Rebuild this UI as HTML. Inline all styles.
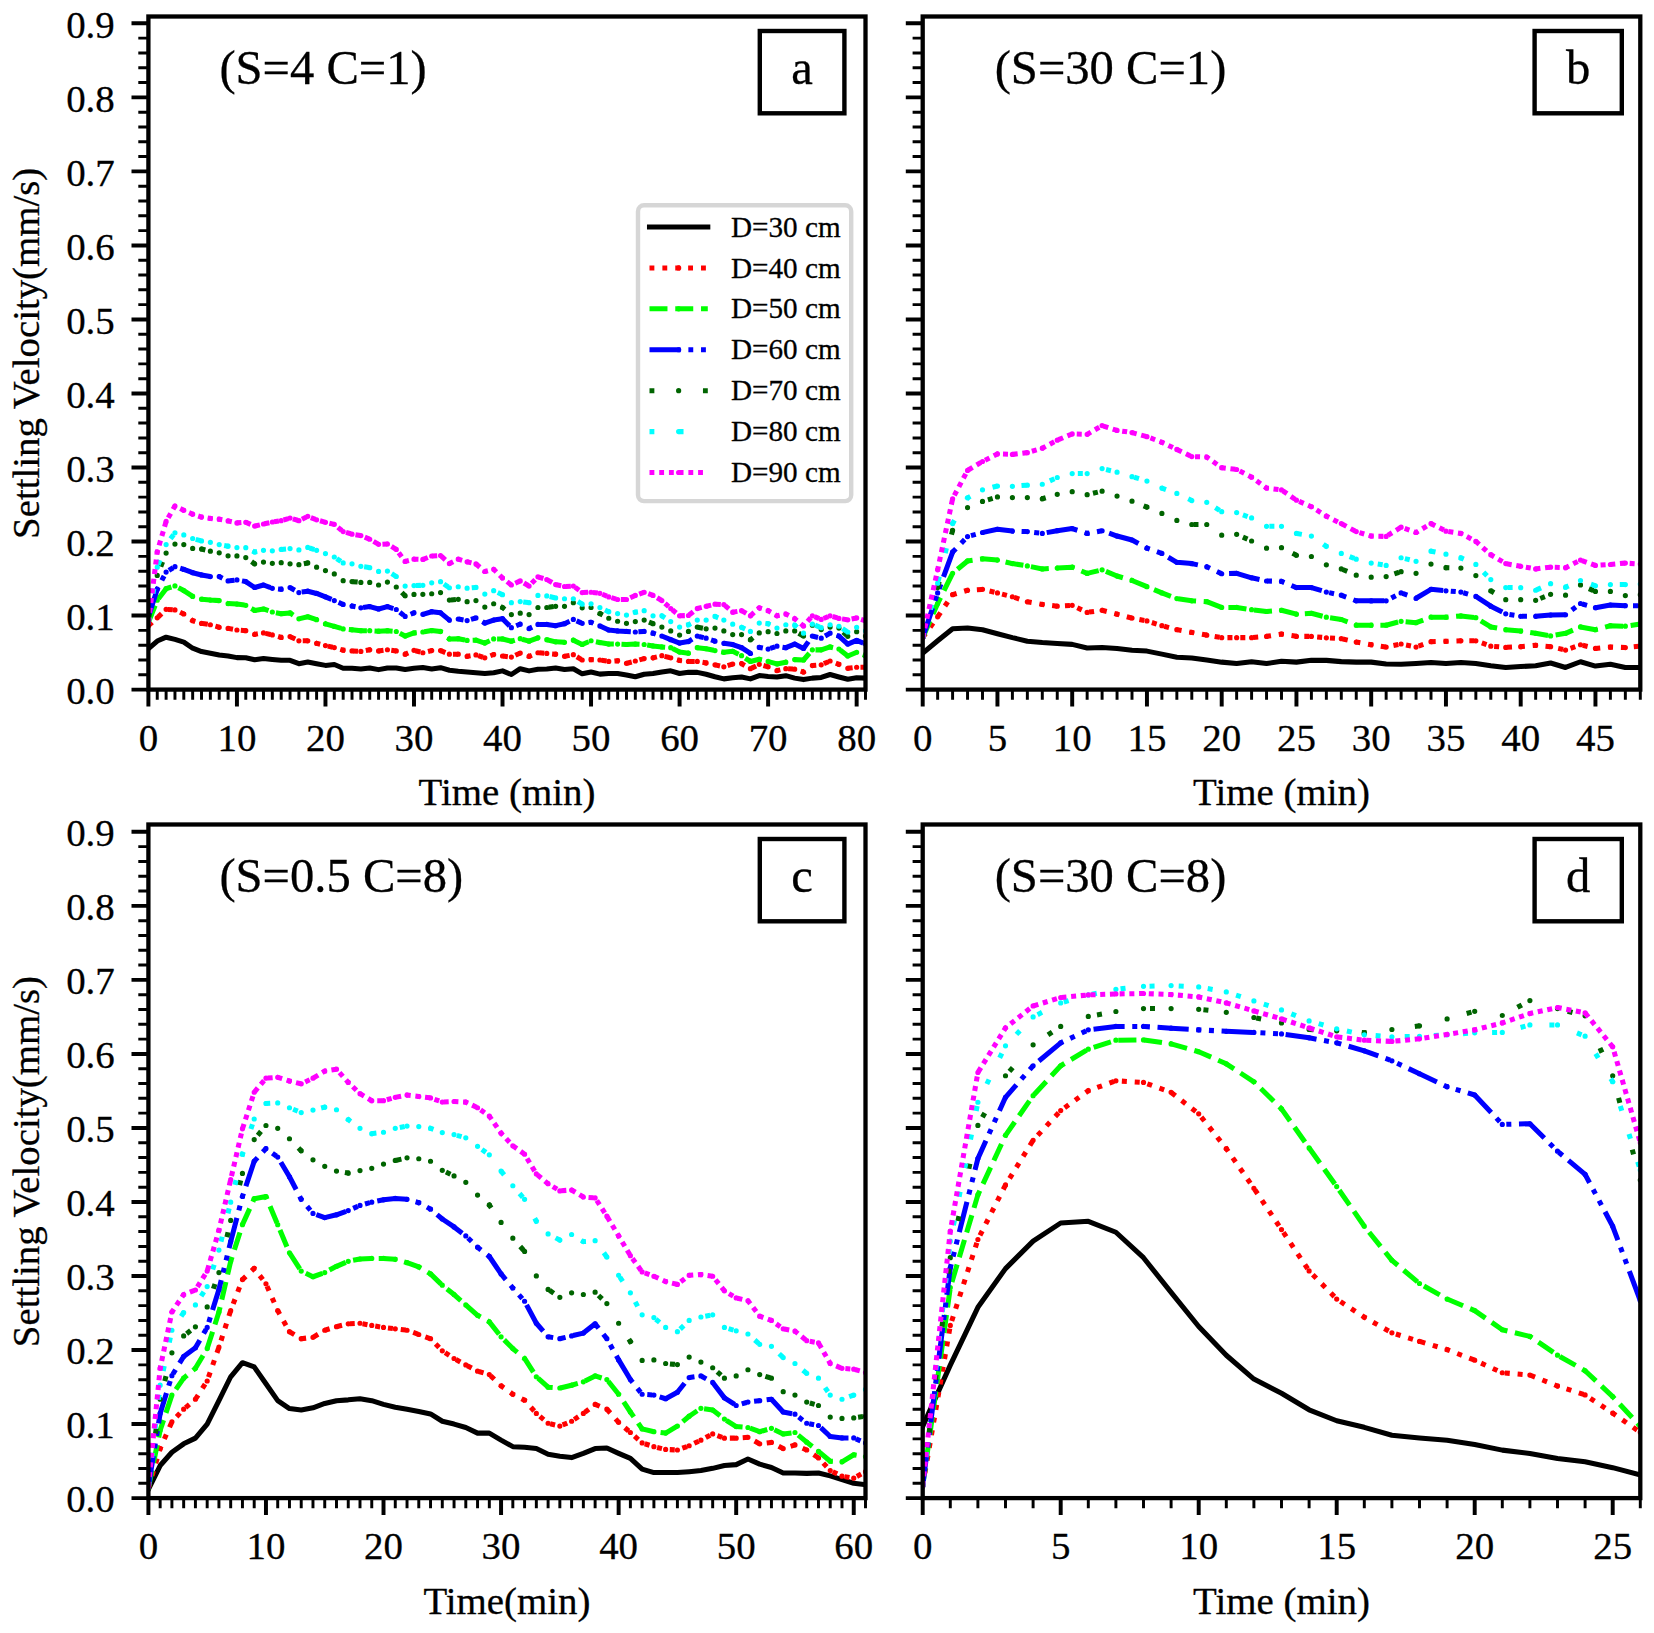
<!DOCTYPE html>
<html><head><meta charset="utf-8"><title>Settling velocity</title>
<style>html,body{margin:0;padding:0;background:#fff}svg{display:block}text{stroke:#000;stroke-width:.3px}</style></head>
<body>
<svg width="1654" height="1633" viewBox="0 0 1654 1633" font-family='"Liberation Serif", serif' fill="#000" stroke="none">
<rect width="1654" height="1633" fill="#fff"/>
<g id="panel-a">
<clipPath id="clip-a"><rect x="148.4" y="16.5" width="717.1" height="673.1"/></clipPath>
<g clip-path="url(#clip-a)" fill="none" stroke-width="5.05" stroke-linejoin="round">
<polyline points="148.4,648.74 157.25,641.04 166.11,637.19 174.96,639.41 183.81,642.15 192.67,648.22 201.52,651.55 210.37,653.18 219.22,655.03 228.08,655.92 236.93,657.62 245.78,657.77 254.64,659.77 263.49,658.58 272.34,659.47 281.2,660.28 290.05,660.28 298.9,663.69 307.76,661.99 316.61,663.69 325.46,665.39 334.31,664.5 343.17,668.28 352.02,668.28 360.87,669.09 369.73,667.91 378.58,669.61 387.43,667.91 396.29,667.91 405.14,669.46 413.99,668.28 422.85,667.54 431.7,669.02 440.55,667.69 449.4,670.2 458.26,671.17 467.11,671.91 475.96,672.65 484.82,673.54 493.67,672.65 502.52,670.87 511.38,674.5 520.23,668.72 529.08,670.87 537.94,669.17 546.79,669.02 555.64,667.98 564.5,669.46 573.35,668.72 582.2,673.83 591.05,672.05 599.91,674.13 608.76,673.54 617.61,673.54 626.47,674.94 635.32,676.72 644.17,674.2 653.03,673.54 661.88,672.05 670.73,670.87 679.59,673.54 688.44,672.35 697.29,672.35 706.14,674.2 715,676.72 723.85,678.87 732.7,677.83 741.56,677.01 750.41,678.87 759.26,675.53 768.12,676.42 776.97,677.01 785.82,675.68 794.68,678.13 803.53,679.61 812.38,678.13 821.23,677.46 830.09,674.5 838.94,677.01 847.79,679.31 856.65,677.76 865.5,678.13" stroke="#000000" stroke-linecap="square"/>
<polyline points="148.4,625.64 157.25,617.86 166.11,609.28 174.96,609.94 183.81,614.02 192.67,620.68 201.52,623.42 210.37,624.75 219.22,627.27 228.08,628.38 236.93,630.01 245.78,630.67 254.64,634.37 263.49,632.89 272.34,634.89 281.2,637.41 290.05,636.59 298.9,640.81 307.76,640.81 316.61,643.33 325.46,645.55 334.31,647.62 343.17,650.14 352.02,650.96 360.87,651.47 369.73,649.77 378.58,650.96 387.43,649.77 396.29,650.96 405.14,654.21 413.99,650.29 422.85,652.73 431.7,650.59 440.55,650.59 449.4,654.21 458.26,654.21 467.11,656.36 475.96,654.95 484.82,657.84 493.67,654.51 502.52,655.99 511.38,657.1 520.23,653.03 529.08,656.36 537.94,652.73 546.79,653.47 555.64,654.21 564.5,656.36 573.35,654.66 582.2,659.99 591.05,659.62 599.91,659.99 608.76,661.47 617.61,660.73 626.47,663.32 635.32,661.02 644.17,658.58 653.03,657.84 661.88,655.69 670.73,657.84 679.59,660.43 688.44,661.47 697.29,661.47 706.14,662.95 715,664.8 723.85,666.87 732.7,664.06 741.56,663.62 750.41,668.72 759.26,664.36 768.12,666.87 776.97,670.57 785.82,668.72 794.68,669.17 803.53,672.05 812.38,665.54 821.23,664.8 830.09,661.02 838.94,664.36 847.79,668.28 856.65,667.24 865.5,667.24" stroke="#ff0000" stroke-dasharray="5.01 7.87"/>
<path d="M145.8 625.64a2.6 2.6 0 1 0 5.2 0a2.6 2.6 0 1 0 -5.2 0zM154.65 617.86a2.6 2.6 0 1 0 5.2 0a2.6 2.6 0 1 0 -5.2 0zM163.51 609.28a2.6 2.6 0 1 0 5.2 0a2.6 2.6 0 1 0 -5.2 0zM172.36 609.94a2.6 2.6 0 1 0 5.2 0a2.6 2.6 0 1 0 -5.2 0zM181.21 614.02a2.6 2.6 0 1 0 5.2 0a2.6 2.6 0 1 0 -5.2 0zM190.07 620.68a2.6 2.6 0 1 0 5.2 0a2.6 2.6 0 1 0 -5.2 0zM198.92 623.42a2.6 2.6 0 1 0 5.2 0a2.6 2.6 0 1 0 -5.2 0zM207.77 624.75a2.6 2.6 0 1 0 5.2 0a2.6 2.6 0 1 0 -5.2 0zM216.62 627.27a2.6 2.6 0 1 0 5.2 0a2.6 2.6 0 1 0 -5.2 0zM225.48 628.38a2.6 2.6 0 1 0 5.2 0a2.6 2.6 0 1 0 -5.2 0zM234.33 630.01a2.6 2.6 0 1 0 5.2 0a2.6 2.6 0 1 0 -5.2 0zM243.18 630.67a2.6 2.6 0 1 0 5.2 0a2.6 2.6 0 1 0 -5.2 0zM252.04 634.37a2.6 2.6 0 1 0 5.2 0a2.6 2.6 0 1 0 -5.2 0zM260.89 632.89a2.6 2.6 0 1 0 5.2 0a2.6 2.6 0 1 0 -5.2 0zM269.74 634.89a2.6 2.6 0 1 0 5.2 0a2.6 2.6 0 1 0 -5.2 0zM278.6 637.41a2.6 2.6 0 1 0 5.2 0a2.6 2.6 0 1 0 -5.2 0zM287.45 636.59a2.6 2.6 0 1 0 5.2 0a2.6 2.6 0 1 0 -5.2 0zM296.3 640.81a2.6 2.6 0 1 0 5.2 0a2.6 2.6 0 1 0 -5.2 0zM305.16 640.81a2.6 2.6 0 1 0 5.2 0a2.6 2.6 0 1 0 -5.2 0zM314.01 643.33a2.6 2.6 0 1 0 5.2 0a2.6 2.6 0 1 0 -5.2 0zM322.86 645.55a2.6 2.6 0 1 0 5.2 0a2.6 2.6 0 1 0 -5.2 0zM331.71 647.62a2.6 2.6 0 1 0 5.2 0a2.6 2.6 0 1 0 -5.2 0zM340.57 650.14a2.6 2.6 0 1 0 5.2 0a2.6 2.6 0 1 0 -5.2 0zM349.42 650.96a2.6 2.6 0 1 0 5.2 0a2.6 2.6 0 1 0 -5.2 0zM358.27 651.47a2.6 2.6 0 1 0 5.2 0a2.6 2.6 0 1 0 -5.2 0zM367.13 649.77a2.6 2.6 0 1 0 5.2 0a2.6 2.6 0 1 0 -5.2 0zM375.98 650.96a2.6 2.6 0 1 0 5.2 0a2.6 2.6 0 1 0 -5.2 0zM384.83 649.77a2.6 2.6 0 1 0 5.2 0a2.6 2.6 0 1 0 -5.2 0zM393.69 650.96a2.6 2.6 0 1 0 5.2 0a2.6 2.6 0 1 0 -5.2 0zM402.54 654.21a2.6 2.6 0 1 0 5.2 0a2.6 2.6 0 1 0 -5.2 0zM411.39 650.29a2.6 2.6 0 1 0 5.2 0a2.6 2.6 0 1 0 -5.2 0zM420.25 652.73a2.6 2.6 0 1 0 5.2 0a2.6 2.6 0 1 0 -5.2 0zM429.1 650.59a2.6 2.6 0 1 0 5.2 0a2.6 2.6 0 1 0 -5.2 0zM437.95 650.59a2.6 2.6 0 1 0 5.2 0a2.6 2.6 0 1 0 -5.2 0zM446.8 654.21a2.6 2.6 0 1 0 5.2 0a2.6 2.6 0 1 0 -5.2 0zM455.66 654.21a2.6 2.6 0 1 0 5.2 0a2.6 2.6 0 1 0 -5.2 0zM464.51 656.36a2.6 2.6 0 1 0 5.2 0a2.6 2.6 0 1 0 -5.2 0zM473.36 654.95a2.6 2.6 0 1 0 5.2 0a2.6 2.6 0 1 0 -5.2 0zM482.22 657.84a2.6 2.6 0 1 0 5.2 0a2.6 2.6 0 1 0 -5.2 0zM491.07 654.51a2.6 2.6 0 1 0 5.2 0a2.6 2.6 0 1 0 -5.2 0zM499.92 655.99a2.6 2.6 0 1 0 5.2 0a2.6 2.6 0 1 0 -5.2 0zM508.78 657.1a2.6 2.6 0 1 0 5.2 0a2.6 2.6 0 1 0 -5.2 0zM517.63 653.03a2.6 2.6 0 1 0 5.2 0a2.6 2.6 0 1 0 -5.2 0zM526.48 656.36a2.6 2.6 0 1 0 5.2 0a2.6 2.6 0 1 0 -5.2 0zM535.34 652.73a2.6 2.6 0 1 0 5.2 0a2.6 2.6 0 1 0 -5.2 0zM544.19 653.47a2.6 2.6 0 1 0 5.2 0a2.6 2.6 0 1 0 -5.2 0zM553.04 654.21a2.6 2.6 0 1 0 5.2 0a2.6 2.6 0 1 0 -5.2 0zM561.9 656.36a2.6 2.6 0 1 0 5.2 0a2.6 2.6 0 1 0 -5.2 0zM570.75 654.66a2.6 2.6 0 1 0 5.2 0a2.6 2.6 0 1 0 -5.2 0zM579.6 659.99a2.6 2.6 0 1 0 5.2 0a2.6 2.6 0 1 0 -5.2 0zM588.45 659.62a2.6 2.6 0 1 0 5.2 0a2.6 2.6 0 1 0 -5.2 0zM597.31 659.99a2.6 2.6 0 1 0 5.2 0a2.6 2.6 0 1 0 -5.2 0zM606.16 661.47a2.6 2.6 0 1 0 5.2 0a2.6 2.6 0 1 0 -5.2 0zM615.01 660.73a2.6 2.6 0 1 0 5.2 0a2.6 2.6 0 1 0 -5.2 0zM623.87 663.32a2.6 2.6 0 1 0 5.2 0a2.6 2.6 0 1 0 -5.2 0zM632.72 661.02a2.6 2.6 0 1 0 5.2 0a2.6 2.6 0 1 0 -5.2 0zM641.57 658.58a2.6 2.6 0 1 0 5.2 0a2.6 2.6 0 1 0 -5.2 0zM650.43 657.84a2.6 2.6 0 1 0 5.2 0a2.6 2.6 0 1 0 -5.2 0zM659.28 655.69a2.6 2.6 0 1 0 5.2 0a2.6 2.6 0 1 0 -5.2 0zM668.13 657.84a2.6 2.6 0 1 0 5.2 0a2.6 2.6 0 1 0 -5.2 0zM676.99 660.43a2.6 2.6 0 1 0 5.2 0a2.6 2.6 0 1 0 -5.2 0zM685.84 661.47a2.6 2.6 0 1 0 5.2 0a2.6 2.6 0 1 0 -5.2 0zM694.69 661.47a2.6 2.6 0 1 0 5.2 0a2.6 2.6 0 1 0 -5.2 0zM703.54 662.95a2.6 2.6 0 1 0 5.2 0a2.6 2.6 0 1 0 -5.2 0zM712.4 664.8a2.6 2.6 0 1 0 5.2 0a2.6 2.6 0 1 0 -5.2 0zM721.25 666.87a2.6 2.6 0 1 0 5.2 0a2.6 2.6 0 1 0 -5.2 0zM730.1 664.06a2.6 2.6 0 1 0 5.2 0a2.6 2.6 0 1 0 -5.2 0zM738.96 663.62a2.6 2.6 0 1 0 5.2 0a2.6 2.6 0 1 0 -5.2 0zM747.81 668.72a2.6 2.6 0 1 0 5.2 0a2.6 2.6 0 1 0 -5.2 0zM756.66 664.36a2.6 2.6 0 1 0 5.2 0a2.6 2.6 0 1 0 -5.2 0zM765.52 666.87a2.6 2.6 0 1 0 5.2 0a2.6 2.6 0 1 0 -5.2 0zM774.37 670.57a2.6 2.6 0 1 0 5.2 0a2.6 2.6 0 1 0 -5.2 0zM783.22 668.72a2.6 2.6 0 1 0 5.2 0a2.6 2.6 0 1 0 -5.2 0zM792.08 669.17a2.6 2.6 0 1 0 5.2 0a2.6 2.6 0 1 0 -5.2 0zM800.93 672.05a2.6 2.6 0 1 0 5.2 0a2.6 2.6 0 1 0 -5.2 0zM809.78 665.54a2.6 2.6 0 1 0 5.2 0a2.6 2.6 0 1 0 -5.2 0zM818.63 664.8a2.6 2.6 0 1 0 5.2 0a2.6 2.6 0 1 0 -5.2 0zM827.49 661.02a2.6 2.6 0 1 0 5.2 0a2.6 2.6 0 1 0 -5.2 0zM836.34 664.36a2.6 2.6 0 1 0 5.2 0a2.6 2.6 0 1 0 -5.2 0zM845.19 668.28a2.6 2.6 0 1 0 5.2 0a2.6 2.6 0 1 0 -5.2 0zM854.05 667.24a2.6 2.6 0 1 0 5.2 0a2.6 2.6 0 1 0 -5.2 0zM862.9 667.24a2.6 2.6 0 1 0 5.2 0a2.6 2.6 0 1 0 -5.2 0z" fill="#ff0000" stroke="none"/>
<polyline points="148.4,622.31 157.25,600.25 166.11,588.7 174.96,585.88 183.81,590.55 192.67,596.4 201.52,599.14 210.37,600.02 219.22,600.62 228.08,603.58 236.93,604.1 245.78,605.28 254.64,610.39 263.49,608.98 272.34,612.02 281.2,613.72 290.05,612.9 298.9,618.83 307.76,616.75 316.61,619.64 325.46,623.86 334.31,626.45 343.17,628.97 352.02,629.86 360.87,630.67 369.73,630.67 378.58,631.19 387.43,630.67 396.29,631.49 405.14,636.08 413.99,632.89 422.85,632 431.7,630.6 440.55,631.41 449.4,638.96 458.26,638.67 467.11,640.44 475.96,640.15 484.82,643.04 493.67,638.96 502.52,638.96 511.38,641.18 520.23,638.67 529.08,641.18 537.94,637.85 546.79,639.7 555.64,641.85 564.5,642.29 573.35,640.15 582.2,644.52 591.05,640.74 599.91,642.59 608.76,644.07 617.61,644.07 626.47,644.52 635.32,644.07 644.17,644.52 653.03,645.92 661.88,646.96 670.73,647.7 679.59,652.07 688.44,653.18 697.29,647.7 706.14,648.74 715,650.59 723.85,652.36 732.7,651.33 741.56,655.69 750.41,661.47 759.26,659.32 768.12,661.47 776.97,663.91 785.82,662.21 794.68,659.62 803.53,659.99 812.38,649.85 821.23,649.85 830.09,646.96 838.94,649.11 847.79,655.99 856.65,652.36 865.5,655.69" stroke="#00ff00" stroke-dasharray="18.13 7.63"/>
<path d="M145.8 622.31a2.6 2.6 0 1 0 5.2 0a2.6 2.6 0 1 0 -5.2 0zM154.65 600.25a2.6 2.6 0 1 0 5.2 0a2.6 2.6 0 1 0 -5.2 0zM163.51 588.7a2.6 2.6 0 1 0 5.2 0a2.6 2.6 0 1 0 -5.2 0zM172.36 585.88a2.6 2.6 0 1 0 5.2 0a2.6 2.6 0 1 0 -5.2 0zM181.21 590.55a2.6 2.6 0 1 0 5.2 0a2.6 2.6 0 1 0 -5.2 0zM190.07 596.4a2.6 2.6 0 1 0 5.2 0a2.6 2.6 0 1 0 -5.2 0zM198.92 599.14a2.6 2.6 0 1 0 5.2 0a2.6 2.6 0 1 0 -5.2 0zM207.77 600.02a2.6 2.6 0 1 0 5.2 0a2.6 2.6 0 1 0 -5.2 0zM216.62 600.62a2.6 2.6 0 1 0 5.2 0a2.6 2.6 0 1 0 -5.2 0zM225.48 603.58a2.6 2.6 0 1 0 5.2 0a2.6 2.6 0 1 0 -5.2 0zM234.33 604.1a2.6 2.6 0 1 0 5.2 0a2.6 2.6 0 1 0 -5.2 0zM243.18 605.28a2.6 2.6 0 1 0 5.2 0a2.6 2.6 0 1 0 -5.2 0zM252.04 610.39a2.6 2.6 0 1 0 5.2 0a2.6 2.6 0 1 0 -5.2 0zM260.89 608.98a2.6 2.6 0 1 0 5.2 0a2.6 2.6 0 1 0 -5.2 0zM269.74 612.02a2.6 2.6 0 1 0 5.2 0a2.6 2.6 0 1 0 -5.2 0zM278.6 613.72a2.6 2.6 0 1 0 5.2 0a2.6 2.6 0 1 0 -5.2 0zM287.45 612.9a2.6 2.6 0 1 0 5.2 0a2.6 2.6 0 1 0 -5.2 0zM296.3 618.83a2.6 2.6 0 1 0 5.2 0a2.6 2.6 0 1 0 -5.2 0zM305.16 616.75a2.6 2.6 0 1 0 5.2 0a2.6 2.6 0 1 0 -5.2 0zM314.01 619.64a2.6 2.6 0 1 0 5.2 0a2.6 2.6 0 1 0 -5.2 0zM322.86 623.86a2.6 2.6 0 1 0 5.2 0a2.6 2.6 0 1 0 -5.2 0zM331.71 626.45a2.6 2.6 0 1 0 5.2 0a2.6 2.6 0 1 0 -5.2 0zM340.57 628.97a2.6 2.6 0 1 0 5.2 0a2.6 2.6 0 1 0 -5.2 0zM349.42 629.86a2.6 2.6 0 1 0 5.2 0a2.6 2.6 0 1 0 -5.2 0zM358.27 630.67a2.6 2.6 0 1 0 5.2 0a2.6 2.6 0 1 0 -5.2 0zM367.13 630.67a2.6 2.6 0 1 0 5.2 0a2.6 2.6 0 1 0 -5.2 0zM375.98 631.19a2.6 2.6 0 1 0 5.2 0a2.6 2.6 0 1 0 -5.2 0zM384.83 630.67a2.6 2.6 0 1 0 5.2 0a2.6 2.6 0 1 0 -5.2 0zM393.69 631.49a2.6 2.6 0 1 0 5.2 0a2.6 2.6 0 1 0 -5.2 0zM402.54 636.08a2.6 2.6 0 1 0 5.2 0a2.6 2.6 0 1 0 -5.2 0zM411.39 632.89a2.6 2.6 0 1 0 5.2 0a2.6 2.6 0 1 0 -5.2 0zM420.25 632a2.6 2.6 0 1 0 5.2 0a2.6 2.6 0 1 0 -5.2 0zM429.1 630.6a2.6 2.6 0 1 0 5.2 0a2.6 2.6 0 1 0 -5.2 0zM437.95 631.41a2.6 2.6 0 1 0 5.2 0a2.6 2.6 0 1 0 -5.2 0zM446.8 638.96a2.6 2.6 0 1 0 5.2 0a2.6 2.6 0 1 0 -5.2 0zM455.66 638.67a2.6 2.6 0 1 0 5.2 0a2.6 2.6 0 1 0 -5.2 0zM464.51 640.44a2.6 2.6 0 1 0 5.2 0a2.6 2.6 0 1 0 -5.2 0zM473.36 640.15a2.6 2.6 0 1 0 5.2 0a2.6 2.6 0 1 0 -5.2 0zM482.22 643.04a2.6 2.6 0 1 0 5.2 0a2.6 2.6 0 1 0 -5.2 0zM491.07 638.96a2.6 2.6 0 1 0 5.2 0a2.6 2.6 0 1 0 -5.2 0zM499.92 638.96a2.6 2.6 0 1 0 5.2 0a2.6 2.6 0 1 0 -5.2 0zM508.78 641.18a2.6 2.6 0 1 0 5.2 0a2.6 2.6 0 1 0 -5.2 0zM517.63 638.67a2.6 2.6 0 1 0 5.2 0a2.6 2.6 0 1 0 -5.2 0zM526.48 641.18a2.6 2.6 0 1 0 5.2 0a2.6 2.6 0 1 0 -5.2 0zM535.34 637.85a2.6 2.6 0 1 0 5.2 0a2.6 2.6 0 1 0 -5.2 0zM544.19 639.7a2.6 2.6 0 1 0 5.2 0a2.6 2.6 0 1 0 -5.2 0zM553.04 641.85a2.6 2.6 0 1 0 5.2 0a2.6 2.6 0 1 0 -5.2 0zM561.9 642.29a2.6 2.6 0 1 0 5.2 0a2.6 2.6 0 1 0 -5.2 0zM570.75 640.15a2.6 2.6 0 1 0 5.2 0a2.6 2.6 0 1 0 -5.2 0zM579.6 644.52a2.6 2.6 0 1 0 5.2 0a2.6 2.6 0 1 0 -5.2 0zM588.45 640.74a2.6 2.6 0 1 0 5.2 0a2.6 2.6 0 1 0 -5.2 0zM597.31 642.59a2.6 2.6 0 1 0 5.2 0a2.6 2.6 0 1 0 -5.2 0zM606.16 644.07a2.6 2.6 0 1 0 5.2 0a2.6 2.6 0 1 0 -5.2 0zM615.01 644.07a2.6 2.6 0 1 0 5.2 0a2.6 2.6 0 1 0 -5.2 0zM623.87 644.52a2.6 2.6 0 1 0 5.2 0a2.6 2.6 0 1 0 -5.2 0zM632.72 644.07a2.6 2.6 0 1 0 5.2 0a2.6 2.6 0 1 0 -5.2 0zM641.57 644.52a2.6 2.6 0 1 0 5.2 0a2.6 2.6 0 1 0 -5.2 0zM650.43 645.92a2.6 2.6 0 1 0 5.2 0a2.6 2.6 0 1 0 -5.2 0zM659.28 646.96a2.6 2.6 0 1 0 5.2 0a2.6 2.6 0 1 0 -5.2 0zM668.13 647.7a2.6 2.6 0 1 0 5.2 0a2.6 2.6 0 1 0 -5.2 0zM676.99 652.07a2.6 2.6 0 1 0 5.2 0a2.6 2.6 0 1 0 -5.2 0zM685.84 653.18a2.6 2.6 0 1 0 5.2 0a2.6 2.6 0 1 0 -5.2 0zM694.69 647.7a2.6 2.6 0 1 0 5.2 0a2.6 2.6 0 1 0 -5.2 0zM703.54 648.74a2.6 2.6 0 1 0 5.2 0a2.6 2.6 0 1 0 -5.2 0zM712.4 650.59a2.6 2.6 0 1 0 5.2 0a2.6 2.6 0 1 0 -5.2 0zM721.25 652.36a2.6 2.6 0 1 0 5.2 0a2.6 2.6 0 1 0 -5.2 0zM730.1 651.33a2.6 2.6 0 1 0 5.2 0a2.6 2.6 0 1 0 -5.2 0zM738.96 655.69a2.6 2.6 0 1 0 5.2 0a2.6 2.6 0 1 0 -5.2 0zM747.81 661.47a2.6 2.6 0 1 0 5.2 0a2.6 2.6 0 1 0 -5.2 0zM756.66 659.32a2.6 2.6 0 1 0 5.2 0a2.6 2.6 0 1 0 -5.2 0zM765.52 661.47a2.6 2.6 0 1 0 5.2 0a2.6 2.6 0 1 0 -5.2 0zM774.37 663.91a2.6 2.6 0 1 0 5.2 0a2.6 2.6 0 1 0 -5.2 0zM783.22 662.21a2.6 2.6 0 1 0 5.2 0a2.6 2.6 0 1 0 -5.2 0zM792.08 659.62a2.6 2.6 0 1 0 5.2 0a2.6 2.6 0 1 0 -5.2 0zM800.93 659.99a2.6 2.6 0 1 0 5.2 0a2.6 2.6 0 1 0 -5.2 0zM809.78 649.85a2.6 2.6 0 1 0 5.2 0a2.6 2.6 0 1 0 -5.2 0zM818.63 649.85a2.6 2.6 0 1 0 5.2 0a2.6 2.6 0 1 0 -5.2 0zM827.49 646.96a2.6 2.6 0 1 0 5.2 0a2.6 2.6 0 1 0 -5.2 0zM836.34 649.11a2.6 2.6 0 1 0 5.2 0a2.6 2.6 0 1 0 -5.2 0zM845.19 655.99a2.6 2.6 0 1 0 5.2 0a2.6 2.6 0 1 0 -5.2 0zM854.05 652.36a2.6 2.6 0 1 0 5.2 0a2.6 2.6 0 1 0 -5.2 0zM862.9 655.69a2.6 2.6 0 1 0 5.2 0a2.6 2.6 0 1 0 -5.2 0z" fill="#00ff00" stroke="none"/>
<polyline points="148.4,616.83 157.25,589.22 166.11,572.11 174.96,566.64 183.81,569.38 192.67,572.71 201.52,574.93 210.37,576.56 219.22,576.56 228.08,580.92 236.93,579.89 245.78,581.59 254.64,587.51 263.49,585 272.34,588.33 281.2,589.22 290.05,587.51 298.9,592.55 307.76,591.21 316.61,593.44 325.46,596.84 334.31,600.54 343.17,604.47 352.02,606.09 360.87,607.8 369.73,606.61 378.58,608.98 387.43,606.61 396.29,609.5 405.14,616.46 413.99,612.83 422.85,614.31 431.7,611.72 440.55,612.83 449.4,620.09 458.26,618.98 467.11,620.53 475.96,617.94 484.82,623.05 493.67,620.09 502.52,618.68 511.38,627.64 520.23,624.16 529.08,628.53 537.94,624.45 546.79,624.45 555.64,625.64 564.5,623.71 573.35,619.42 582.2,623.34 591.05,622.31 599.91,625.93 608.76,630.01 617.61,630.97 626.47,631.41 635.32,632 644.17,631.41 653.03,633.19 661.88,636.08 670.73,639.7 679.59,643.04 688.44,641.55 697.29,636.08 706.14,638.22 715,641.18 723.85,643.33 732.7,644.52 741.56,647.7 750.41,653.47 759.26,647.4 768.12,649.11 776.97,646.22 785.82,647.7 794.68,644.07 803.53,648.44 812.38,636.08 821.23,638.22 830.09,633.19 838.94,636.08 847.79,644.07 856.65,640.44 865.5,644.07" stroke="#0000ff" stroke-dasharray="31.25 7.63 5.01 7.63 5.01 7.63"/>
<path d="M145.8 616.83a2.6 2.6 0 1 0 5.2 0a2.6 2.6 0 1 0 -5.2 0zM154.65 589.22a2.6 2.6 0 1 0 5.2 0a2.6 2.6 0 1 0 -5.2 0zM163.51 572.11a2.6 2.6 0 1 0 5.2 0a2.6 2.6 0 1 0 -5.2 0zM172.36 566.64a2.6 2.6 0 1 0 5.2 0a2.6 2.6 0 1 0 -5.2 0zM181.21 569.38a2.6 2.6 0 1 0 5.2 0a2.6 2.6 0 1 0 -5.2 0zM190.07 572.71a2.6 2.6 0 1 0 5.2 0a2.6 2.6 0 1 0 -5.2 0zM198.92 574.93a2.6 2.6 0 1 0 5.2 0a2.6 2.6 0 1 0 -5.2 0zM207.77 576.56a2.6 2.6 0 1 0 5.2 0a2.6 2.6 0 1 0 -5.2 0zM216.62 576.56a2.6 2.6 0 1 0 5.2 0a2.6 2.6 0 1 0 -5.2 0zM225.48 580.92a2.6 2.6 0 1 0 5.2 0a2.6 2.6 0 1 0 -5.2 0zM234.33 579.89a2.6 2.6 0 1 0 5.2 0a2.6 2.6 0 1 0 -5.2 0zM243.18 581.59a2.6 2.6 0 1 0 5.2 0a2.6 2.6 0 1 0 -5.2 0zM252.04 587.51a2.6 2.6 0 1 0 5.2 0a2.6 2.6 0 1 0 -5.2 0zM260.89 585a2.6 2.6 0 1 0 5.2 0a2.6 2.6 0 1 0 -5.2 0zM269.74 588.33a2.6 2.6 0 1 0 5.2 0a2.6 2.6 0 1 0 -5.2 0zM278.6 589.22a2.6 2.6 0 1 0 5.2 0a2.6 2.6 0 1 0 -5.2 0zM287.45 587.51a2.6 2.6 0 1 0 5.2 0a2.6 2.6 0 1 0 -5.2 0zM296.3 592.55a2.6 2.6 0 1 0 5.2 0a2.6 2.6 0 1 0 -5.2 0zM305.16 591.21a2.6 2.6 0 1 0 5.2 0a2.6 2.6 0 1 0 -5.2 0zM314.01 593.44a2.6 2.6 0 1 0 5.2 0a2.6 2.6 0 1 0 -5.2 0zM322.86 596.84a2.6 2.6 0 1 0 5.2 0a2.6 2.6 0 1 0 -5.2 0zM331.71 600.54a2.6 2.6 0 1 0 5.2 0a2.6 2.6 0 1 0 -5.2 0zM340.57 604.47a2.6 2.6 0 1 0 5.2 0a2.6 2.6 0 1 0 -5.2 0zM349.42 606.09a2.6 2.6 0 1 0 5.2 0a2.6 2.6 0 1 0 -5.2 0zM358.27 607.8a2.6 2.6 0 1 0 5.2 0a2.6 2.6 0 1 0 -5.2 0zM367.13 606.61a2.6 2.6 0 1 0 5.2 0a2.6 2.6 0 1 0 -5.2 0zM375.98 608.98a2.6 2.6 0 1 0 5.2 0a2.6 2.6 0 1 0 -5.2 0zM384.83 606.61a2.6 2.6 0 1 0 5.2 0a2.6 2.6 0 1 0 -5.2 0zM393.69 609.5a2.6 2.6 0 1 0 5.2 0a2.6 2.6 0 1 0 -5.2 0zM402.54 616.46a2.6 2.6 0 1 0 5.2 0a2.6 2.6 0 1 0 -5.2 0zM411.39 612.83a2.6 2.6 0 1 0 5.2 0a2.6 2.6 0 1 0 -5.2 0zM420.25 614.31a2.6 2.6 0 1 0 5.2 0a2.6 2.6 0 1 0 -5.2 0zM429.1 611.72a2.6 2.6 0 1 0 5.2 0a2.6 2.6 0 1 0 -5.2 0zM437.95 612.83a2.6 2.6 0 1 0 5.2 0a2.6 2.6 0 1 0 -5.2 0zM446.8 620.09a2.6 2.6 0 1 0 5.2 0a2.6 2.6 0 1 0 -5.2 0zM455.66 618.98a2.6 2.6 0 1 0 5.2 0a2.6 2.6 0 1 0 -5.2 0zM464.51 620.53a2.6 2.6 0 1 0 5.2 0a2.6 2.6 0 1 0 -5.2 0zM473.36 617.94a2.6 2.6 0 1 0 5.2 0a2.6 2.6 0 1 0 -5.2 0zM482.22 623.05a2.6 2.6 0 1 0 5.2 0a2.6 2.6 0 1 0 -5.2 0zM491.07 620.09a2.6 2.6 0 1 0 5.2 0a2.6 2.6 0 1 0 -5.2 0zM499.92 618.68a2.6 2.6 0 1 0 5.2 0a2.6 2.6 0 1 0 -5.2 0zM508.78 627.64a2.6 2.6 0 1 0 5.2 0a2.6 2.6 0 1 0 -5.2 0zM517.63 624.16a2.6 2.6 0 1 0 5.2 0a2.6 2.6 0 1 0 -5.2 0zM526.48 628.53a2.6 2.6 0 1 0 5.2 0a2.6 2.6 0 1 0 -5.2 0zM535.34 624.45a2.6 2.6 0 1 0 5.2 0a2.6 2.6 0 1 0 -5.2 0zM544.19 624.45a2.6 2.6 0 1 0 5.2 0a2.6 2.6 0 1 0 -5.2 0zM553.04 625.64a2.6 2.6 0 1 0 5.2 0a2.6 2.6 0 1 0 -5.2 0zM561.9 623.71a2.6 2.6 0 1 0 5.2 0a2.6 2.6 0 1 0 -5.2 0zM570.75 619.42a2.6 2.6 0 1 0 5.2 0a2.6 2.6 0 1 0 -5.2 0zM579.6 623.34a2.6 2.6 0 1 0 5.2 0a2.6 2.6 0 1 0 -5.2 0zM588.45 622.31a2.6 2.6 0 1 0 5.2 0a2.6 2.6 0 1 0 -5.2 0zM597.31 625.93a2.6 2.6 0 1 0 5.2 0a2.6 2.6 0 1 0 -5.2 0zM606.16 630.01a2.6 2.6 0 1 0 5.2 0a2.6 2.6 0 1 0 -5.2 0zM615.01 630.97a2.6 2.6 0 1 0 5.2 0a2.6 2.6 0 1 0 -5.2 0zM623.87 631.41a2.6 2.6 0 1 0 5.2 0a2.6 2.6 0 1 0 -5.2 0zM632.72 632a2.6 2.6 0 1 0 5.2 0a2.6 2.6 0 1 0 -5.2 0zM641.57 631.41a2.6 2.6 0 1 0 5.2 0a2.6 2.6 0 1 0 -5.2 0zM650.43 633.19a2.6 2.6 0 1 0 5.2 0a2.6 2.6 0 1 0 -5.2 0zM659.28 636.08a2.6 2.6 0 1 0 5.2 0a2.6 2.6 0 1 0 -5.2 0zM668.13 639.7a2.6 2.6 0 1 0 5.2 0a2.6 2.6 0 1 0 -5.2 0zM676.99 643.04a2.6 2.6 0 1 0 5.2 0a2.6 2.6 0 1 0 -5.2 0zM685.84 641.55a2.6 2.6 0 1 0 5.2 0a2.6 2.6 0 1 0 -5.2 0zM694.69 636.08a2.6 2.6 0 1 0 5.2 0a2.6 2.6 0 1 0 -5.2 0zM703.54 638.22a2.6 2.6 0 1 0 5.2 0a2.6 2.6 0 1 0 -5.2 0zM712.4 641.18a2.6 2.6 0 1 0 5.2 0a2.6 2.6 0 1 0 -5.2 0zM721.25 643.33a2.6 2.6 0 1 0 5.2 0a2.6 2.6 0 1 0 -5.2 0zM730.1 644.52a2.6 2.6 0 1 0 5.2 0a2.6 2.6 0 1 0 -5.2 0zM738.96 647.7a2.6 2.6 0 1 0 5.2 0a2.6 2.6 0 1 0 -5.2 0zM747.81 653.47a2.6 2.6 0 1 0 5.2 0a2.6 2.6 0 1 0 -5.2 0zM756.66 647.4a2.6 2.6 0 1 0 5.2 0a2.6 2.6 0 1 0 -5.2 0zM765.52 649.11a2.6 2.6 0 1 0 5.2 0a2.6 2.6 0 1 0 -5.2 0zM774.37 646.22a2.6 2.6 0 1 0 5.2 0a2.6 2.6 0 1 0 -5.2 0zM783.22 647.7a2.6 2.6 0 1 0 5.2 0a2.6 2.6 0 1 0 -5.2 0zM792.08 644.07a2.6 2.6 0 1 0 5.2 0a2.6 2.6 0 1 0 -5.2 0zM800.93 648.44a2.6 2.6 0 1 0 5.2 0a2.6 2.6 0 1 0 -5.2 0zM809.78 636.08a2.6 2.6 0 1 0 5.2 0a2.6 2.6 0 1 0 -5.2 0zM818.63 638.22a2.6 2.6 0 1 0 5.2 0a2.6 2.6 0 1 0 -5.2 0zM827.49 633.19a2.6 2.6 0 1 0 5.2 0a2.6 2.6 0 1 0 -5.2 0zM836.34 636.08a2.6 2.6 0 1 0 5.2 0a2.6 2.6 0 1 0 -5.2 0zM845.19 644.07a2.6 2.6 0 1 0 5.2 0a2.6 2.6 0 1 0 -5.2 0zM854.05 640.44a2.6 2.6 0 1 0 5.2 0a2.6 2.6 0 1 0 -5.2 0zM862.9 644.07a2.6 2.6 0 1 0 5.2 0a2.6 2.6 0 1 0 -5.2 0z" fill="#0000ff" stroke="none"/>
<polyline points="148.4,618.46 157.25,575.45 166.11,553.09 174.96,544.06 183.81,544.58 192.67,548.42 201.52,549.02 210.37,551.16 219.22,552.87 228.08,555.83 236.93,555.9 245.78,557.53 254.64,563.82 263.49,562.12 272.34,563.3 281.2,562.64 290.05,563.82 298.9,564.64 307.76,562.93 316.61,567.15 325.46,570.56 334.31,573.97 343.17,580.7 352.02,581.59 360.87,582.4 369.73,582.4 378.58,585 387.43,582.11 396.29,586.99 405.14,595.73 413.99,594.4 422.85,594.32 431.7,593.73 440.55,592.55 449.4,600.1 458.26,599.36 467.11,601.65 475.96,600.54 484.82,607.06 493.67,603.73 502.52,607.5 511.38,614.61 520.23,613.13 529.08,614.61 537.94,607.5 546.79,607.5 555.64,606.32 564.5,606.32 573.35,602.69 582.2,607.8 591.05,607.5 599.91,613.57 608.76,618.24 617.61,621.27 626.47,623.34 635.32,621.57 644.17,620.09 653.03,623.71 661.88,627.04 670.73,630.97 679.59,635.04 688.44,631.41 697.29,627.04 706.14,628.82 715,628.08 723.85,630.97 732.7,634.6 741.56,634.6 750.41,639.7 759.26,632.89 768.12,631.71 776.97,633.49 785.82,630.97 794.68,630.97 803.53,636.08 812.38,625.19 821.23,629.56 830.09,627.04 838.94,628.08 847.79,636.37 856.65,631.71 865.5,636.08" stroke="#006400" stroke-dasharray="5.01 48.45"/>
<path d="M145.8 618.46a2.6 2.6 0 1 0 5.2 0a2.6 2.6 0 1 0 -5.2 0zM154.65 575.45a2.6 2.6 0 1 0 5.2 0a2.6 2.6 0 1 0 -5.2 0zM163.51 553.09a2.6 2.6 0 1 0 5.2 0a2.6 2.6 0 1 0 -5.2 0zM172.36 544.06a2.6 2.6 0 1 0 5.2 0a2.6 2.6 0 1 0 -5.2 0zM181.21 544.58a2.6 2.6 0 1 0 5.2 0a2.6 2.6 0 1 0 -5.2 0zM190.07 548.42a2.6 2.6 0 1 0 5.2 0a2.6 2.6 0 1 0 -5.2 0zM198.92 549.02a2.6 2.6 0 1 0 5.2 0a2.6 2.6 0 1 0 -5.2 0zM207.77 551.16a2.6 2.6 0 1 0 5.2 0a2.6 2.6 0 1 0 -5.2 0zM216.62 552.87a2.6 2.6 0 1 0 5.2 0a2.6 2.6 0 1 0 -5.2 0zM225.48 555.83a2.6 2.6 0 1 0 5.2 0a2.6 2.6 0 1 0 -5.2 0zM234.33 555.9a2.6 2.6 0 1 0 5.2 0a2.6 2.6 0 1 0 -5.2 0zM243.18 557.53a2.6 2.6 0 1 0 5.2 0a2.6 2.6 0 1 0 -5.2 0zM252.04 563.82a2.6 2.6 0 1 0 5.2 0a2.6 2.6 0 1 0 -5.2 0zM260.89 562.12a2.6 2.6 0 1 0 5.2 0a2.6 2.6 0 1 0 -5.2 0zM269.74 563.3a2.6 2.6 0 1 0 5.2 0a2.6 2.6 0 1 0 -5.2 0zM278.6 562.64a2.6 2.6 0 1 0 5.2 0a2.6 2.6 0 1 0 -5.2 0zM287.45 563.82a2.6 2.6 0 1 0 5.2 0a2.6 2.6 0 1 0 -5.2 0zM296.3 564.64a2.6 2.6 0 1 0 5.2 0a2.6 2.6 0 1 0 -5.2 0zM305.16 562.93a2.6 2.6 0 1 0 5.2 0a2.6 2.6 0 1 0 -5.2 0zM314.01 567.15a2.6 2.6 0 1 0 5.2 0a2.6 2.6 0 1 0 -5.2 0zM322.86 570.56a2.6 2.6 0 1 0 5.2 0a2.6 2.6 0 1 0 -5.2 0zM331.71 573.97a2.6 2.6 0 1 0 5.2 0a2.6 2.6 0 1 0 -5.2 0zM340.57 580.7a2.6 2.6 0 1 0 5.2 0a2.6 2.6 0 1 0 -5.2 0zM349.42 581.59a2.6 2.6 0 1 0 5.2 0a2.6 2.6 0 1 0 -5.2 0zM358.27 582.4a2.6 2.6 0 1 0 5.2 0a2.6 2.6 0 1 0 -5.2 0zM367.13 582.4a2.6 2.6 0 1 0 5.2 0a2.6 2.6 0 1 0 -5.2 0zM375.98 585a2.6 2.6 0 1 0 5.2 0a2.6 2.6 0 1 0 -5.2 0zM384.83 582.11a2.6 2.6 0 1 0 5.2 0a2.6 2.6 0 1 0 -5.2 0zM393.69 586.99a2.6 2.6 0 1 0 5.2 0a2.6 2.6 0 1 0 -5.2 0zM402.54 595.73a2.6 2.6 0 1 0 5.2 0a2.6 2.6 0 1 0 -5.2 0zM411.39 594.4a2.6 2.6 0 1 0 5.2 0a2.6 2.6 0 1 0 -5.2 0zM420.25 594.32a2.6 2.6 0 1 0 5.2 0a2.6 2.6 0 1 0 -5.2 0zM429.1 593.73a2.6 2.6 0 1 0 5.2 0a2.6 2.6 0 1 0 -5.2 0zM437.95 592.55a2.6 2.6 0 1 0 5.2 0a2.6 2.6 0 1 0 -5.2 0zM446.8 600.1a2.6 2.6 0 1 0 5.2 0a2.6 2.6 0 1 0 -5.2 0zM455.66 599.36a2.6 2.6 0 1 0 5.2 0a2.6 2.6 0 1 0 -5.2 0zM464.51 601.65a2.6 2.6 0 1 0 5.2 0a2.6 2.6 0 1 0 -5.2 0zM473.36 600.54a2.6 2.6 0 1 0 5.2 0a2.6 2.6 0 1 0 -5.2 0zM482.22 607.06a2.6 2.6 0 1 0 5.2 0a2.6 2.6 0 1 0 -5.2 0zM491.07 603.73a2.6 2.6 0 1 0 5.2 0a2.6 2.6 0 1 0 -5.2 0zM499.92 607.5a2.6 2.6 0 1 0 5.2 0a2.6 2.6 0 1 0 -5.2 0zM508.78 614.61a2.6 2.6 0 1 0 5.2 0a2.6 2.6 0 1 0 -5.2 0zM517.63 613.13a2.6 2.6 0 1 0 5.2 0a2.6 2.6 0 1 0 -5.2 0zM526.48 614.61a2.6 2.6 0 1 0 5.2 0a2.6 2.6 0 1 0 -5.2 0zM535.34 607.5a2.6 2.6 0 1 0 5.2 0a2.6 2.6 0 1 0 -5.2 0zM544.19 607.5a2.6 2.6 0 1 0 5.2 0a2.6 2.6 0 1 0 -5.2 0zM553.04 606.32a2.6 2.6 0 1 0 5.2 0a2.6 2.6 0 1 0 -5.2 0zM561.9 606.32a2.6 2.6 0 1 0 5.2 0a2.6 2.6 0 1 0 -5.2 0zM570.75 602.69a2.6 2.6 0 1 0 5.2 0a2.6 2.6 0 1 0 -5.2 0zM579.6 607.8a2.6 2.6 0 1 0 5.2 0a2.6 2.6 0 1 0 -5.2 0zM588.45 607.5a2.6 2.6 0 1 0 5.2 0a2.6 2.6 0 1 0 -5.2 0zM597.31 613.57a2.6 2.6 0 1 0 5.2 0a2.6 2.6 0 1 0 -5.2 0zM606.16 618.24a2.6 2.6 0 1 0 5.2 0a2.6 2.6 0 1 0 -5.2 0zM615.01 621.27a2.6 2.6 0 1 0 5.2 0a2.6 2.6 0 1 0 -5.2 0zM623.87 623.34a2.6 2.6 0 1 0 5.2 0a2.6 2.6 0 1 0 -5.2 0zM632.72 621.57a2.6 2.6 0 1 0 5.2 0a2.6 2.6 0 1 0 -5.2 0zM641.57 620.09a2.6 2.6 0 1 0 5.2 0a2.6 2.6 0 1 0 -5.2 0zM650.43 623.71a2.6 2.6 0 1 0 5.2 0a2.6 2.6 0 1 0 -5.2 0zM659.28 627.04a2.6 2.6 0 1 0 5.2 0a2.6 2.6 0 1 0 -5.2 0zM668.13 630.97a2.6 2.6 0 1 0 5.2 0a2.6 2.6 0 1 0 -5.2 0zM676.99 635.04a2.6 2.6 0 1 0 5.2 0a2.6 2.6 0 1 0 -5.2 0zM685.84 631.41a2.6 2.6 0 1 0 5.2 0a2.6 2.6 0 1 0 -5.2 0zM694.69 627.04a2.6 2.6 0 1 0 5.2 0a2.6 2.6 0 1 0 -5.2 0zM703.54 628.82a2.6 2.6 0 1 0 5.2 0a2.6 2.6 0 1 0 -5.2 0zM712.4 628.08a2.6 2.6 0 1 0 5.2 0a2.6 2.6 0 1 0 -5.2 0zM721.25 630.97a2.6 2.6 0 1 0 5.2 0a2.6 2.6 0 1 0 -5.2 0zM730.1 634.6a2.6 2.6 0 1 0 5.2 0a2.6 2.6 0 1 0 -5.2 0zM738.96 634.6a2.6 2.6 0 1 0 5.2 0a2.6 2.6 0 1 0 -5.2 0zM747.81 639.7a2.6 2.6 0 1 0 5.2 0a2.6 2.6 0 1 0 -5.2 0zM756.66 632.89a2.6 2.6 0 1 0 5.2 0a2.6 2.6 0 1 0 -5.2 0zM765.52 631.71a2.6 2.6 0 1 0 5.2 0a2.6 2.6 0 1 0 -5.2 0zM774.37 633.49a2.6 2.6 0 1 0 5.2 0a2.6 2.6 0 1 0 -5.2 0zM783.22 630.97a2.6 2.6 0 1 0 5.2 0a2.6 2.6 0 1 0 -5.2 0zM792.08 630.97a2.6 2.6 0 1 0 5.2 0a2.6 2.6 0 1 0 -5.2 0zM800.93 636.08a2.6 2.6 0 1 0 5.2 0a2.6 2.6 0 1 0 -5.2 0zM809.78 625.19a2.6 2.6 0 1 0 5.2 0a2.6 2.6 0 1 0 -5.2 0zM818.63 629.56a2.6 2.6 0 1 0 5.2 0a2.6 2.6 0 1 0 -5.2 0zM827.49 627.04a2.6 2.6 0 1 0 5.2 0a2.6 2.6 0 1 0 -5.2 0zM836.34 628.08a2.6 2.6 0 1 0 5.2 0a2.6 2.6 0 1 0 -5.2 0zM845.19 636.37a2.6 2.6 0 1 0 5.2 0a2.6 2.6 0 1 0 -5.2 0zM854.05 631.71a2.6 2.6 0 1 0 5.2 0a2.6 2.6 0 1 0 -5.2 0zM862.9 636.08a2.6 2.6 0 1 0 5.2 0a2.6 2.6 0 1 0 -5.2 0z" fill="#006400" stroke="none"/>
<polyline points="148.4,622.31 157.25,567.15 166.11,544.58 174.96,532.8 183.81,534.95 192.67,538.5 201.52,540.95 210.37,542.35 219.22,544.58 228.08,546.2 236.93,547.54 245.78,547.68 254.64,551.98 263.49,550.28 272.34,550.79 281.2,549.39 290.05,548.57 298.9,549.91 307.76,547.39 316.61,550.28 325.46,553.61 334.31,557.01 343.17,562.93 352.02,563.82 360.87,566.34 369.73,567.67 378.58,571.45 387.43,571.08 396.29,576.48 405.14,586.03 413.99,585.59 422.85,585.29 431.7,582.85 440.55,581.66 449.4,587.73 458.26,586.77 467.11,588.18 475.96,587.44 484.82,594.03 493.67,590.7 502.52,594.69 511.38,602.69 520.23,601.58 529.08,602.69 537.94,595.43 546.79,595.88 555.64,597.95 564.5,598.77 573.35,598.77 582.2,604.17 591.05,603.87 599.91,607.5 608.76,611.72 617.61,613.57 626.47,615.05 635.32,612.16 644.17,610.68 653.03,615.79 661.88,615.79 670.73,621.57 679.59,627.04 688.44,624.75 697.29,620.09 706.14,620.09 715,616.46 723.85,620.09 732.7,624.16 741.56,627.34 750.41,631.41 759.26,623.05 768.12,623.71 776.97,628.08 785.82,624.75 794.68,625.19 803.53,633.19 812.38,624.16 821.23,627.64 830.09,624.75 838.94,626.23 847.79,632 856.65,627.34 865.5,630.97" stroke="#00ffff" stroke-dasharray="5.01 24.15"/>
<path d="M145.8 622.31a2.6 2.6 0 1 0 5.2 0a2.6 2.6 0 1 0 -5.2 0zM154.65 567.15a2.6 2.6 0 1 0 5.2 0a2.6 2.6 0 1 0 -5.2 0zM163.51 544.58a2.6 2.6 0 1 0 5.2 0a2.6 2.6 0 1 0 -5.2 0zM172.36 532.8a2.6 2.6 0 1 0 5.2 0a2.6 2.6 0 1 0 -5.2 0zM181.21 534.95a2.6 2.6 0 1 0 5.2 0a2.6 2.6 0 1 0 -5.2 0zM190.07 538.5a2.6 2.6 0 1 0 5.2 0a2.6 2.6 0 1 0 -5.2 0zM198.92 540.95a2.6 2.6 0 1 0 5.2 0a2.6 2.6 0 1 0 -5.2 0zM207.77 542.35a2.6 2.6 0 1 0 5.2 0a2.6 2.6 0 1 0 -5.2 0zM216.62 544.58a2.6 2.6 0 1 0 5.2 0a2.6 2.6 0 1 0 -5.2 0zM225.48 546.2a2.6 2.6 0 1 0 5.2 0a2.6 2.6 0 1 0 -5.2 0zM234.33 547.54a2.6 2.6 0 1 0 5.2 0a2.6 2.6 0 1 0 -5.2 0zM243.18 547.68a2.6 2.6 0 1 0 5.2 0a2.6 2.6 0 1 0 -5.2 0zM252.04 551.98a2.6 2.6 0 1 0 5.2 0a2.6 2.6 0 1 0 -5.2 0zM260.89 550.28a2.6 2.6 0 1 0 5.2 0a2.6 2.6 0 1 0 -5.2 0zM269.74 550.79a2.6 2.6 0 1 0 5.2 0a2.6 2.6 0 1 0 -5.2 0zM278.6 549.39a2.6 2.6 0 1 0 5.2 0a2.6 2.6 0 1 0 -5.2 0zM287.45 548.57a2.6 2.6 0 1 0 5.2 0a2.6 2.6 0 1 0 -5.2 0zM296.3 549.91a2.6 2.6 0 1 0 5.2 0a2.6 2.6 0 1 0 -5.2 0zM305.16 547.39a2.6 2.6 0 1 0 5.2 0a2.6 2.6 0 1 0 -5.2 0zM314.01 550.28a2.6 2.6 0 1 0 5.2 0a2.6 2.6 0 1 0 -5.2 0zM322.86 553.61a2.6 2.6 0 1 0 5.2 0a2.6 2.6 0 1 0 -5.2 0zM331.71 557.01a2.6 2.6 0 1 0 5.2 0a2.6 2.6 0 1 0 -5.2 0zM340.57 562.93a2.6 2.6 0 1 0 5.2 0a2.6 2.6 0 1 0 -5.2 0zM349.42 563.82a2.6 2.6 0 1 0 5.2 0a2.6 2.6 0 1 0 -5.2 0zM358.27 566.34a2.6 2.6 0 1 0 5.2 0a2.6 2.6 0 1 0 -5.2 0zM367.13 567.67a2.6 2.6 0 1 0 5.2 0a2.6 2.6 0 1 0 -5.2 0zM375.98 571.45a2.6 2.6 0 1 0 5.2 0a2.6 2.6 0 1 0 -5.2 0zM384.83 571.08a2.6 2.6 0 1 0 5.2 0a2.6 2.6 0 1 0 -5.2 0zM393.69 576.48a2.6 2.6 0 1 0 5.2 0a2.6 2.6 0 1 0 -5.2 0zM402.54 586.03a2.6 2.6 0 1 0 5.2 0a2.6 2.6 0 1 0 -5.2 0zM411.39 585.59a2.6 2.6 0 1 0 5.2 0a2.6 2.6 0 1 0 -5.2 0zM420.25 585.29a2.6 2.6 0 1 0 5.2 0a2.6 2.6 0 1 0 -5.2 0zM429.1 582.85a2.6 2.6 0 1 0 5.2 0a2.6 2.6 0 1 0 -5.2 0zM437.95 581.66a2.6 2.6 0 1 0 5.2 0a2.6 2.6 0 1 0 -5.2 0zM446.8 587.73a2.6 2.6 0 1 0 5.2 0a2.6 2.6 0 1 0 -5.2 0zM455.66 586.77a2.6 2.6 0 1 0 5.2 0a2.6 2.6 0 1 0 -5.2 0zM464.51 588.18a2.6 2.6 0 1 0 5.2 0a2.6 2.6 0 1 0 -5.2 0zM473.36 587.44a2.6 2.6 0 1 0 5.2 0a2.6 2.6 0 1 0 -5.2 0zM482.22 594.03a2.6 2.6 0 1 0 5.2 0a2.6 2.6 0 1 0 -5.2 0zM491.07 590.7a2.6 2.6 0 1 0 5.2 0a2.6 2.6 0 1 0 -5.2 0zM499.92 594.69a2.6 2.6 0 1 0 5.2 0a2.6 2.6 0 1 0 -5.2 0zM508.78 602.69a2.6 2.6 0 1 0 5.2 0a2.6 2.6 0 1 0 -5.2 0zM517.63 601.58a2.6 2.6 0 1 0 5.2 0a2.6 2.6 0 1 0 -5.2 0zM526.48 602.69a2.6 2.6 0 1 0 5.2 0a2.6 2.6 0 1 0 -5.2 0zM535.34 595.43a2.6 2.6 0 1 0 5.2 0a2.6 2.6 0 1 0 -5.2 0zM544.19 595.88a2.6 2.6 0 1 0 5.2 0a2.6 2.6 0 1 0 -5.2 0zM553.04 597.95a2.6 2.6 0 1 0 5.2 0a2.6 2.6 0 1 0 -5.2 0zM561.9 598.77a2.6 2.6 0 1 0 5.2 0a2.6 2.6 0 1 0 -5.2 0zM570.75 598.77a2.6 2.6 0 1 0 5.2 0a2.6 2.6 0 1 0 -5.2 0zM579.6 604.17a2.6 2.6 0 1 0 5.2 0a2.6 2.6 0 1 0 -5.2 0zM588.45 603.87a2.6 2.6 0 1 0 5.2 0a2.6 2.6 0 1 0 -5.2 0zM597.31 607.5a2.6 2.6 0 1 0 5.2 0a2.6 2.6 0 1 0 -5.2 0zM606.16 611.72a2.6 2.6 0 1 0 5.2 0a2.6 2.6 0 1 0 -5.2 0zM615.01 613.57a2.6 2.6 0 1 0 5.2 0a2.6 2.6 0 1 0 -5.2 0zM623.87 615.05a2.6 2.6 0 1 0 5.2 0a2.6 2.6 0 1 0 -5.2 0zM632.72 612.16a2.6 2.6 0 1 0 5.2 0a2.6 2.6 0 1 0 -5.2 0zM641.57 610.68a2.6 2.6 0 1 0 5.2 0a2.6 2.6 0 1 0 -5.2 0zM650.43 615.79a2.6 2.6 0 1 0 5.2 0a2.6 2.6 0 1 0 -5.2 0zM659.28 615.79a2.6 2.6 0 1 0 5.2 0a2.6 2.6 0 1 0 -5.2 0zM668.13 621.57a2.6 2.6 0 1 0 5.2 0a2.6 2.6 0 1 0 -5.2 0zM676.99 627.04a2.6 2.6 0 1 0 5.2 0a2.6 2.6 0 1 0 -5.2 0zM685.84 624.75a2.6 2.6 0 1 0 5.2 0a2.6 2.6 0 1 0 -5.2 0zM694.69 620.09a2.6 2.6 0 1 0 5.2 0a2.6 2.6 0 1 0 -5.2 0zM703.54 620.09a2.6 2.6 0 1 0 5.2 0a2.6 2.6 0 1 0 -5.2 0zM712.4 616.46a2.6 2.6 0 1 0 5.2 0a2.6 2.6 0 1 0 -5.2 0zM721.25 620.09a2.6 2.6 0 1 0 5.2 0a2.6 2.6 0 1 0 -5.2 0zM730.1 624.16a2.6 2.6 0 1 0 5.2 0a2.6 2.6 0 1 0 -5.2 0zM738.96 627.34a2.6 2.6 0 1 0 5.2 0a2.6 2.6 0 1 0 -5.2 0zM747.81 631.41a2.6 2.6 0 1 0 5.2 0a2.6 2.6 0 1 0 -5.2 0zM756.66 623.05a2.6 2.6 0 1 0 5.2 0a2.6 2.6 0 1 0 -5.2 0zM765.52 623.71a2.6 2.6 0 1 0 5.2 0a2.6 2.6 0 1 0 -5.2 0zM774.37 628.08a2.6 2.6 0 1 0 5.2 0a2.6 2.6 0 1 0 -5.2 0zM783.22 624.75a2.6 2.6 0 1 0 5.2 0a2.6 2.6 0 1 0 -5.2 0zM792.08 625.19a2.6 2.6 0 1 0 5.2 0a2.6 2.6 0 1 0 -5.2 0zM800.93 633.19a2.6 2.6 0 1 0 5.2 0a2.6 2.6 0 1 0 -5.2 0zM809.78 624.16a2.6 2.6 0 1 0 5.2 0a2.6 2.6 0 1 0 -5.2 0zM818.63 627.64a2.6 2.6 0 1 0 5.2 0a2.6 2.6 0 1 0 -5.2 0zM827.49 624.75a2.6 2.6 0 1 0 5.2 0a2.6 2.6 0 1 0 -5.2 0zM836.34 626.23a2.6 2.6 0 1 0 5.2 0a2.6 2.6 0 1 0 -5.2 0zM845.19 632a2.6 2.6 0 1 0 5.2 0a2.6 2.6 0 1 0 -5.2 0zM854.05 627.34a2.6 2.6 0 1 0 5.2 0a2.6 2.6 0 1 0 -5.2 0zM862.9 630.97a2.6 2.6 0 1 0 5.2 0a2.6 2.6 0 1 0 -5.2 0z" fill="#00ffff" stroke="none"/>
<polyline points="148.4,622.31 157.25,551.76 166.11,521.4 174.96,506.01 183.81,510.37 192.67,514.22 201.52,517.04 210.37,518.44 219.22,519.18 228.08,520.89 236.93,522.88 245.78,522.29 254.64,526.07 263.49,523.99 272.34,522 281.2,520.66 290.05,518.07 298.9,520.66 307.76,516.37 316.61,519.78 325.46,522.29 334.31,524.37 343.17,531.62 352.02,534.14 360.87,535.54 369.73,539.25 378.58,544.35 387.43,543.98 396.29,549.39 405.14,561.38 413.99,559.16 422.85,559.46 431.7,555.98 440.55,555.53 449.4,563.53 458.26,559.16 467.11,561.82 475.96,563.97 484.82,571.52 493.67,569.3 502.52,578.04 511.38,585 520.23,580.92 529.08,586.03 537.94,576.85 546.79,579.52 555.64,584.55 564.5,586.48 573.35,586.03 582.2,592.55 591.05,592.25 599.91,593.29 608.76,596.91 617.61,599.51 626.47,599.51 635.32,595.43 644.17,592.25 653.03,595.43 661.88,600.54 670.73,608.54 679.59,615.79 688.44,615.5 697.29,608.54 706.14,606.32 715,604.17 723.85,604.61 732.7,612.16 741.56,610.68 750.41,615.79 759.26,607.8 768.12,610.68 776.97,615.79 785.82,614.02 794.68,618.68 803.53,625.93 812.38,615.79 821.23,619.42 830.09,615.79 838.94,618.38 847.79,619.79 856.65,617.94 865.5,620.83" stroke="#ff00ff" stroke-dasharray="5.01 4.71"/>
<path d="M145.8 622.31a2.6 2.6 0 1 0 5.2 0a2.6 2.6 0 1 0 -5.2 0zM154.65 551.76a2.6 2.6 0 1 0 5.2 0a2.6 2.6 0 1 0 -5.2 0zM163.51 521.4a2.6 2.6 0 1 0 5.2 0a2.6 2.6 0 1 0 -5.2 0zM172.36 506.01a2.6 2.6 0 1 0 5.2 0a2.6 2.6 0 1 0 -5.2 0zM181.21 510.37a2.6 2.6 0 1 0 5.2 0a2.6 2.6 0 1 0 -5.2 0zM190.07 514.22a2.6 2.6 0 1 0 5.2 0a2.6 2.6 0 1 0 -5.2 0zM198.92 517.04a2.6 2.6 0 1 0 5.2 0a2.6 2.6 0 1 0 -5.2 0zM207.77 518.44a2.6 2.6 0 1 0 5.2 0a2.6 2.6 0 1 0 -5.2 0zM216.62 519.18a2.6 2.6 0 1 0 5.2 0a2.6 2.6 0 1 0 -5.2 0zM225.48 520.89a2.6 2.6 0 1 0 5.2 0a2.6 2.6 0 1 0 -5.2 0zM234.33 522.88a2.6 2.6 0 1 0 5.2 0a2.6 2.6 0 1 0 -5.2 0zM243.18 522.29a2.6 2.6 0 1 0 5.2 0a2.6 2.6 0 1 0 -5.2 0zM252.04 526.07a2.6 2.6 0 1 0 5.2 0a2.6 2.6 0 1 0 -5.2 0zM260.89 523.99a2.6 2.6 0 1 0 5.2 0a2.6 2.6 0 1 0 -5.2 0zM269.74 522a2.6 2.6 0 1 0 5.2 0a2.6 2.6 0 1 0 -5.2 0zM278.6 520.66a2.6 2.6 0 1 0 5.2 0a2.6 2.6 0 1 0 -5.2 0zM287.45 518.07a2.6 2.6 0 1 0 5.2 0a2.6 2.6 0 1 0 -5.2 0zM296.3 520.66a2.6 2.6 0 1 0 5.2 0a2.6 2.6 0 1 0 -5.2 0zM305.16 516.37a2.6 2.6 0 1 0 5.2 0a2.6 2.6 0 1 0 -5.2 0zM314.01 519.78a2.6 2.6 0 1 0 5.2 0a2.6 2.6 0 1 0 -5.2 0zM322.86 522.29a2.6 2.6 0 1 0 5.2 0a2.6 2.6 0 1 0 -5.2 0zM331.71 524.37a2.6 2.6 0 1 0 5.2 0a2.6 2.6 0 1 0 -5.2 0zM340.57 531.62a2.6 2.6 0 1 0 5.2 0a2.6 2.6 0 1 0 -5.2 0zM349.42 534.14a2.6 2.6 0 1 0 5.2 0a2.6 2.6 0 1 0 -5.2 0zM358.27 535.54a2.6 2.6 0 1 0 5.2 0a2.6 2.6 0 1 0 -5.2 0zM367.13 539.25a2.6 2.6 0 1 0 5.2 0a2.6 2.6 0 1 0 -5.2 0zM375.98 544.35a2.6 2.6 0 1 0 5.2 0a2.6 2.6 0 1 0 -5.2 0zM384.83 543.98a2.6 2.6 0 1 0 5.2 0a2.6 2.6 0 1 0 -5.2 0zM393.69 549.39a2.6 2.6 0 1 0 5.2 0a2.6 2.6 0 1 0 -5.2 0zM402.54 561.38a2.6 2.6 0 1 0 5.2 0a2.6 2.6 0 1 0 -5.2 0zM411.39 559.16a2.6 2.6 0 1 0 5.2 0a2.6 2.6 0 1 0 -5.2 0zM420.25 559.46a2.6 2.6 0 1 0 5.2 0a2.6 2.6 0 1 0 -5.2 0zM429.1 555.98a2.6 2.6 0 1 0 5.2 0a2.6 2.6 0 1 0 -5.2 0zM437.95 555.53a2.6 2.6 0 1 0 5.2 0a2.6 2.6 0 1 0 -5.2 0zM446.8 563.53a2.6 2.6 0 1 0 5.2 0a2.6 2.6 0 1 0 -5.2 0zM455.66 559.16a2.6 2.6 0 1 0 5.2 0a2.6 2.6 0 1 0 -5.2 0zM464.51 561.82a2.6 2.6 0 1 0 5.2 0a2.6 2.6 0 1 0 -5.2 0zM473.36 563.97a2.6 2.6 0 1 0 5.2 0a2.6 2.6 0 1 0 -5.2 0zM482.22 571.52a2.6 2.6 0 1 0 5.2 0a2.6 2.6 0 1 0 -5.2 0zM491.07 569.3a2.6 2.6 0 1 0 5.2 0a2.6 2.6 0 1 0 -5.2 0zM499.92 578.04a2.6 2.6 0 1 0 5.2 0a2.6 2.6 0 1 0 -5.2 0zM508.78 585a2.6 2.6 0 1 0 5.2 0a2.6 2.6 0 1 0 -5.2 0zM517.63 580.92a2.6 2.6 0 1 0 5.2 0a2.6 2.6 0 1 0 -5.2 0zM526.48 586.03a2.6 2.6 0 1 0 5.2 0a2.6 2.6 0 1 0 -5.2 0zM535.34 576.85a2.6 2.6 0 1 0 5.2 0a2.6 2.6 0 1 0 -5.2 0zM544.19 579.52a2.6 2.6 0 1 0 5.2 0a2.6 2.6 0 1 0 -5.2 0zM553.04 584.55a2.6 2.6 0 1 0 5.2 0a2.6 2.6 0 1 0 -5.2 0zM561.9 586.48a2.6 2.6 0 1 0 5.2 0a2.6 2.6 0 1 0 -5.2 0zM570.75 586.03a2.6 2.6 0 1 0 5.2 0a2.6 2.6 0 1 0 -5.2 0zM579.6 592.55a2.6 2.6 0 1 0 5.2 0a2.6 2.6 0 1 0 -5.2 0zM588.45 592.25a2.6 2.6 0 1 0 5.2 0a2.6 2.6 0 1 0 -5.2 0zM597.31 593.29a2.6 2.6 0 1 0 5.2 0a2.6 2.6 0 1 0 -5.2 0zM606.16 596.91a2.6 2.6 0 1 0 5.2 0a2.6 2.6 0 1 0 -5.2 0zM615.01 599.51a2.6 2.6 0 1 0 5.2 0a2.6 2.6 0 1 0 -5.2 0zM623.87 599.51a2.6 2.6 0 1 0 5.2 0a2.6 2.6 0 1 0 -5.2 0zM632.72 595.43a2.6 2.6 0 1 0 5.2 0a2.6 2.6 0 1 0 -5.2 0zM641.57 592.25a2.6 2.6 0 1 0 5.2 0a2.6 2.6 0 1 0 -5.2 0zM650.43 595.43a2.6 2.6 0 1 0 5.2 0a2.6 2.6 0 1 0 -5.2 0zM659.28 600.54a2.6 2.6 0 1 0 5.2 0a2.6 2.6 0 1 0 -5.2 0zM668.13 608.54a2.6 2.6 0 1 0 5.2 0a2.6 2.6 0 1 0 -5.2 0zM676.99 615.79a2.6 2.6 0 1 0 5.2 0a2.6 2.6 0 1 0 -5.2 0zM685.84 615.5a2.6 2.6 0 1 0 5.2 0a2.6 2.6 0 1 0 -5.2 0zM694.69 608.54a2.6 2.6 0 1 0 5.2 0a2.6 2.6 0 1 0 -5.2 0zM703.54 606.32a2.6 2.6 0 1 0 5.2 0a2.6 2.6 0 1 0 -5.2 0zM712.4 604.17a2.6 2.6 0 1 0 5.2 0a2.6 2.6 0 1 0 -5.2 0zM721.25 604.61a2.6 2.6 0 1 0 5.2 0a2.6 2.6 0 1 0 -5.2 0zM730.1 612.16a2.6 2.6 0 1 0 5.2 0a2.6 2.6 0 1 0 -5.2 0zM738.96 610.68a2.6 2.6 0 1 0 5.2 0a2.6 2.6 0 1 0 -5.2 0zM747.81 615.79a2.6 2.6 0 1 0 5.2 0a2.6 2.6 0 1 0 -5.2 0zM756.66 607.8a2.6 2.6 0 1 0 5.2 0a2.6 2.6 0 1 0 -5.2 0zM765.52 610.68a2.6 2.6 0 1 0 5.2 0a2.6 2.6 0 1 0 -5.2 0zM774.37 615.79a2.6 2.6 0 1 0 5.2 0a2.6 2.6 0 1 0 -5.2 0zM783.22 614.02a2.6 2.6 0 1 0 5.2 0a2.6 2.6 0 1 0 -5.2 0zM792.08 618.68a2.6 2.6 0 1 0 5.2 0a2.6 2.6 0 1 0 -5.2 0zM800.93 625.93a2.6 2.6 0 1 0 5.2 0a2.6 2.6 0 1 0 -5.2 0zM809.78 615.79a2.6 2.6 0 1 0 5.2 0a2.6 2.6 0 1 0 -5.2 0zM818.63 619.42a2.6 2.6 0 1 0 5.2 0a2.6 2.6 0 1 0 -5.2 0zM827.49 615.79a2.6 2.6 0 1 0 5.2 0a2.6 2.6 0 1 0 -5.2 0zM836.34 618.38a2.6 2.6 0 1 0 5.2 0a2.6 2.6 0 1 0 -5.2 0zM845.19 619.79a2.6 2.6 0 1 0 5.2 0a2.6 2.6 0 1 0 -5.2 0zM854.05 617.94a2.6 2.6 0 1 0 5.2 0a2.6 2.6 0 1 0 -5.2 0zM862.9 620.83a2.6 2.6 0 1 0 5.2 0a2.6 2.6 0 1 0 -5.2 0z" fill="#ff00ff" stroke="none"/>
</g>
<path d="M148.4 689.6v16.9M236.93 689.6v16.9M325.46 689.6v16.9M413.99 689.6v16.9M502.52 689.6v16.9M591.05 689.6v16.9M679.59 689.6v16.9M768.12 689.6v16.9M856.65 689.6v16.9M148.4 689.6h-16.9M148.4 615.57h-16.9M148.4 541.54h-16.9M148.4 467.51h-16.9M148.4 393.48h-16.9M148.4 319.45h-16.9M148.4 245.42h-16.9M148.4 171.39h-16.9M148.4 97.36h-16.9M148.4 23.33h-16.9" stroke="#000" stroke-width="3.95" fill="none"/>
<path d="M157.25 689.6v10.1M166.11 689.6v10.1M174.96 689.6v10.1M183.81 689.6v10.1M192.67 689.6v10.1M201.52 689.6v10.1M210.37 689.6v10.1M219.22 689.6v10.1M228.08 689.6v10.1M245.78 689.6v10.1M254.64 689.6v10.1M263.49 689.6v10.1M272.34 689.6v10.1M281.2 689.6v10.1M290.05 689.6v10.1M298.9 689.6v10.1M307.76 689.6v10.1M316.61 689.6v10.1M334.31 689.6v10.1M343.17 689.6v10.1M352.02 689.6v10.1M360.87 689.6v10.1M369.73 689.6v10.1M378.58 689.6v10.1M387.43 689.6v10.1M396.29 689.6v10.1M405.14 689.6v10.1M422.85 689.6v10.1M431.7 689.6v10.1M440.55 689.6v10.1M449.4 689.6v10.1M458.26 689.6v10.1M467.11 689.6v10.1M475.96 689.6v10.1M484.82 689.6v10.1M493.67 689.6v10.1M511.38 689.6v10.1M520.23 689.6v10.1M529.08 689.6v10.1M537.94 689.6v10.1M546.79 689.6v10.1M555.64 689.6v10.1M564.5 689.6v10.1M573.35 689.6v10.1M582.2 689.6v10.1M599.91 689.6v10.1M608.76 689.6v10.1M617.61 689.6v10.1M626.47 689.6v10.1M635.32 689.6v10.1M644.17 689.6v10.1M653.03 689.6v10.1M661.88 689.6v10.1M670.73 689.6v10.1M688.44 689.6v10.1M697.29 689.6v10.1M706.14 689.6v10.1M715 689.6v10.1M723.85 689.6v10.1M732.7 689.6v10.1M741.56 689.6v10.1M750.41 689.6v10.1M759.26 689.6v10.1M776.97 689.6v10.1M785.82 689.6v10.1M794.68 689.6v10.1M803.53 689.6v10.1M812.38 689.6v10.1M821.23 689.6v10.1M830.09 689.6v10.1M838.94 689.6v10.1M847.79 689.6v10.1M865.5 689.6v10.1M148.4 674.79h-10.1M148.4 659.99h-10.1M148.4 645.18h-10.1M148.4 630.38h-10.1M148.4 600.76h-10.1M148.4 585.96h-10.1M148.4 571.15h-10.1M148.4 556.35h-10.1M148.4 526.73h-10.1M148.4 511.93h-10.1M148.4 497.12h-10.1M148.4 482.32h-10.1M148.4 452.7h-10.1M148.4 437.9h-10.1M148.4 423.09h-10.1M148.4 408.29h-10.1M148.4 378.67h-10.1M148.4 363.87h-10.1M148.4 349.06h-10.1M148.4 334.26h-10.1M148.4 304.64h-10.1M148.4 289.84h-10.1M148.4 275.03h-10.1M148.4 260.23h-10.1M148.4 230.61h-10.1M148.4 215.81h-10.1M148.4 201h-10.1M148.4 186.2h-10.1M148.4 156.58h-10.1M148.4 141.78h-10.1M148.4 126.97h-10.1M148.4 112.17h-10.1M148.4 82.55h-10.1M148.4 67.75h-10.1M148.4 52.94h-10.1M148.4 38.14h-10.1" stroke="#000" stroke-width="2.95" fill="none"/>
<rect x="148.4" y="16.5" width="717.1" height="673.1" fill="none" stroke="#000" stroke-width="4.3"/>
<g font-size="38.9" text-anchor="middle">
<text x="148.4" y="750.9">0</text>
<text x="236.93" y="750.9">10</text>
<text x="325.46" y="750.9">20</text>
<text x="413.99" y="750.9">30</text>
<text x="502.52" y="750.9">40</text>
<text x="591.05" y="750.9">50</text>
<text x="679.59" y="750.9">60</text>
<text x="768.12" y="750.9">70</text>
<text x="856.65" y="750.9">80</text>
<text x="506.95" y="805.3">Time (min)</text>
</g>
<g font-size="38.9" text-anchor="end">
<text x="114.8" y="703.9">0.0</text>
<text x="114.8" y="629.87">0.1</text>
<text x="114.8" y="555.84">0.2</text>
<text x="114.8" y="481.81">0.3</text>
<text x="114.8" y="407.78">0.4</text>
<text x="114.8" y="333.75">0.5</text>
<text x="114.8" y="259.72">0.6</text>
<text x="114.8" y="185.69">0.7</text>
<text x="114.8" y="111.66">0.8</text>
<text x="114.8" y="37.63">0.9</text>
</g>
<text font-size="38.8" text-anchor="middle" transform="translate(39.3 353.35) rotate(-90)">Settling Velocity(mm/s)</text>
<text font-size="48.6" x="219.4" y="84">(S=4 C=1)</text>
<rect x="759.8" y="31" width="84.6" height="82.3" fill="#fff" stroke="#000" stroke-width="4.4"/>
<text font-size="48.6" text-anchor="middle" x="802.1" y="84">a</text>
</g>
<g id="panel-b">
<clipPath id="clip-b"><rect x="922.7" y="16.5" width="717.6" height="673.1"/></clipPath>
<g clip-path="url(#clip-b)" fill="none" stroke-width="5.05" stroke-linejoin="round">
<polyline points="922.7,653.25 937.65,640.81 952.6,628.75 967.55,628.01 982.5,629.78 997.45,633.71 1012.4,637.63 1027.35,641.18 1042.3,642.59 1057.25,643.48 1072.2,644.37 1087.15,647.92 1102.1,647.55 1117.05,648.44 1132,650.22 1146.95,651.1 1161.9,654.14 1176.85,657.32 1191.8,658.06 1206.75,659.99 1221.7,662.13 1236.65,663.54 1251.6,661.76 1266.55,663.54 1281.5,661.25 1296.45,662.13 1311.4,660.36 1326.35,660.36 1341.3,661.62 1356.25,662.13 1371.2,662.13 1386.15,663.91 1401.1,664.28 1416.05,663.54 1431,662.51 1445.95,663.54 1460.9,662.51 1475.85,663.54 1490.8,665.69 1505.75,667.47 1520.7,666.58 1535.65,665.69 1550.6,663.02 1565.55,667.47 1580.5,661.76 1595.45,666.06 1610.4,664.28 1625.35,667.47 1640.3,667.47" stroke="#000000" stroke-linecap="square"/>
<polyline points="922.7,637.63 937.65,616.83 952.6,594.69 967.55,590.25 982.5,589.36 997.45,592.92 1012.4,596.77 1027.35,601.73 1042.3,604.39 1057.25,606.17 1072.2,605.28 1087.15,612.39 1102.1,610.31 1117.05,614.16 1132,618.09 1146.95,620.97 1161.9,625.71 1176.85,629.64 1191.8,632.45 1206.75,635.11 1221.7,637.63 1236.65,637.63 1251.6,637.63 1266.55,636.37 1281.5,634.08 1296.45,636.37 1311.4,636.37 1326.35,637.78 1341.3,638.67 1356.25,642.07 1371.2,644.74 1386.15,647.03 1401.1,644 1416.05,647.03 1431,641.7 1445.95,641.33 1460.9,640.81 1475.85,640.81 1490.8,646.14 1505.75,647.4 1520.7,646.66 1535.65,645.26 1550.6,646.66 1565.55,650.07 1580.5,644.74 1595.45,648.44 1610.4,647.03 1625.35,647.55 1640.3,646.14" stroke="#ff0000" stroke-dasharray="5.01 7.87"/>
<path d="M920.1 637.63a2.6 2.6 0 1 0 5.2 0a2.6 2.6 0 1 0 -5.2 0zM935.05 616.83a2.6 2.6 0 1 0 5.2 0a2.6 2.6 0 1 0 -5.2 0zM950 594.69a2.6 2.6 0 1 0 5.2 0a2.6 2.6 0 1 0 -5.2 0zM964.95 590.25a2.6 2.6 0 1 0 5.2 0a2.6 2.6 0 1 0 -5.2 0zM979.9 589.36a2.6 2.6 0 1 0 5.2 0a2.6 2.6 0 1 0 -5.2 0zM994.85 592.92a2.6 2.6 0 1 0 5.2 0a2.6 2.6 0 1 0 -5.2 0zM1009.8 596.77a2.6 2.6 0 1 0 5.2 0a2.6 2.6 0 1 0 -5.2 0zM1024.75 601.73a2.6 2.6 0 1 0 5.2 0a2.6 2.6 0 1 0 -5.2 0zM1039.7 604.39a2.6 2.6 0 1 0 5.2 0a2.6 2.6 0 1 0 -5.2 0zM1054.65 606.17a2.6 2.6 0 1 0 5.2 0a2.6 2.6 0 1 0 -5.2 0zM1069.6 605.28a2.6 2.6 0 1 0 5.2 0a2.6 2.6 0 1 0 -5.2 0zM1084.55 612.39a2.6 2.6 0 1 0 5.2 0a2.6 2.6 0 1 0 -5.2 0zM1099.5 610.31a2.6 2.6 0 1 0 5.2 0a2.6 2.6 0 1 0 -5.2 0zM1114.45 614.16a2.6 2.6 0 1 0 5.2 0a2.6 2.6 0 1 0 -5.2 0zM1129.4 618.09a2.6 2.6 0 1 0 5.2 0a2.6 2.6 0 1 0 -5.2 0zM1144.35 620.97a2.6 2.6 0 1 0 5.2 0a2.6 2.6 0 1 0 -5.2 0zM1159.3 625.71a2.6 2.6 0 1 0 5.2 0a2.6 2.6 0 1 0 -5.2 0zM1174.25 629.64a2.6 2.6 0 1 0 5.2 0a2.6 2.6 0 1 0 -5.2 0zM1189.2 632.45a2.6 2.6 0 1 0 5.2 0a2.6 2.6 0 1 0 -5.2 0zM1204.15 635.11a2.6 2.6 0 1 0 5.2 0a2.6 2.6 0 1 0 -5.2 0zM1219.1 637.63a2.6 2.6 0 1 0 5.2 0a2.6 2.6 0 1 0 -5.2 0zM1234.05 637.63a2.6 2.6 0 1 0 5.2 0a2.6 2.6 0 1 0 -5.2 0zM1249 637.63a2.6 2.6 0 1 0 5.2 0a2.6 2.6 0 1 0 -5.2 0zM1263.95 636.37a2.6 2.6 0 1 0 5.2 0a2.6 2.6 0 1 0 -5.2 0zM1278.9 634.08a2.6 2.6 0 1 0 5.2 0a2.6 2.6 0 1 0 -5.2 0zM1293.85 636.37a2.6 2.6 0 1 0 5.2 0a2.6 2.6 0 1 0 -5.2 0zM1308.8 636.37a2.6 2.6 0 1 0 5.2 0a2.6 2.6 0 1 0 -5.2 0zM1323.75 637.78a2.6 2.6 0 1 0 5.2 0a2.6 2.6 0 1 0 -5.2 0zM1338.7 638.67a2.6 2.6 0 1 0 5.2 0a2.6 2.6 0 1 0 -5.2 0zM1353.65 642.07a2.6 2.6 0 1 0 5.2 0a2.6 2.6 0 1 0 -5.2 0zM1368.6 644.74a2.6 2.6 0 1 0 5.2 0a2.6 2.6 0 1 0 -5.2 0zM1383.55 647.03a2.6 2.6 0 1 0 5.2 0a2.6 2.6 0 1 0 -5.2 0zM1398.5 644a2.6 2.6 0 1 0 5.2 0a2.6 2.6 0 1 0 -5.2 0zM1413.45 647.03a2.6 2.6 0 1 0 5.2 0a2.6 2.6 0 1 0 -5.2 0zM1428.4 641.7a2.6 2.6 0 1 0 5.2 0a2.6 2.6 0 1 0 -5.2 0zM1443.35 641.33a2.6 2.6 0 1 0 5.2 0a2.6 2.6 0 1 0 -5.2 0zM1458.3 640.81a2.6 2.6 0 1 0 5.2 0a2.6 2.6 0 1 0 -5.2 0zM1473.25 640.81a2.6 2.6 0 1 0 5.2 0a2.6 2.6 0 1 0 -5.2 0zM1488.2 646.14a2.6 2.6 0 1 0 5.2 0a2.6 2.6 0 1 0 -5.2 0zM1503.15 647.4a2.6 2.6 0 1 0 5.2 0a2.6 2.6 0 1 0 -5.2 0zM1518.1 646.66a2.6 2.6 0 1 0 5.2 0a2.6 2.6 0 1 0 -5.2 0zM1533.05 645.26a2.6 2.6 0 1 0 5.2 0a2.6 2.6 0 1 0 -5.2 0zM1548 646.66a2.6 2.6 0 1 0 5.2 0a2.6 2.6 0 1 0 -5.2 0zM1562.95 650.07a2.6 2.6 0 1 0 5.2 0a2.6 2.6 0 1 0 -5.2 0zM1577.9 644.74a2.6 2.6 0 1 0 5.2 0a2.6 2.6 0 1 0 -5.2 0zM1592.85 648.44a2.6 2.6 0 1 0 5.2 0a2.6 2.6 0 1 0 -5.2 0zM1607.8 647.03a2.6 2.6 0 1 0 5.2 0a2.6 2.6 0 1 0 -5.2 0zM1622.75 647.55a2.6 2.6 0 1 0 5.2 0a2.6 2.6 0 1 0 -5.2 0zM1637.7 646.14a2.6 2.6 0 1 0 5.2 0a2.6 2.6 0 1 0 -5.2 0z" fill="#ff0000" stroke="none"/>
<polyline points="922.7,637.63 937.65,603.5 952.6,573.37 967.55,560.94 982.5,558.79 997.45,560.05 1012.4,563.6 1027.35,565.9 1042.3,568.93 1057.25,568.04 1072.2,567.15 1087.15,573.37 1102.1,569.82 1117.05,576.04 1132,580.48 1146.95,586.7 1161.9,592.92 1176.85,598.54 1191.8,600.84 1206.75,601.73 1221.7,607.43 1236.65,607.43 1251.6,609.72 1266.55,611.5 1281.5,610.31 1296.45,614.16 1311.4,613.28 1326.35,617.2 1341.3,619.49 1356.25,625.19 1371.2,625.19 1386.15,625.19 1401.1,621.27 1416.05,622.68 1431,617.2 1445.95,617.2 1460.9,615.94 1475.85,617.72 1490.8,626.97 1505.75,629.64 1520.7,631.04 1535.65,633.34 1550.6,635.85 1565.55,633.34 1580.5,626.97 1595.45,629.64 1610.4,625.71 1625.35,626.23 1640.3,623.94" stroke="#00ff00" stroke-dasharray="18.13 7.63"/>
<path d="M920.1 637.63a2.6 2.6 0 1 0 5.2 0a2.6 2.6 0 1 0 -5.2 0zM935.05 603.5a2.6 2.6 0 1 0 5.2 0a2.6 2.6 0 1 0 -5.2 0zM950 573.37a2.6 2.6 0 1 0 5.2 0a2.6 2.6 0 1 0 -5.2 0zM964.95 560.94a2.6 2.6 0 1 0 5.2 0a2.6 2.6 0 1 0 -5.2 0zM979.9 558.79a2.6 2.6 0 1 0 5.2 0a2.6 2.6 0 1 0 -5.2 0zM994.85 560.05a2.6 2.6 0 1 0 5.2 0a2.6 2.6 0 1 0 -5.2 0zM1009.8 563.6a2.6 2.6 0 1 0 5.2 0a2.6 2.6 0 1 0 -5.2 0zM1024.75 565.9a2.6 2.6 0 1 0 5.2 0a2.6 2.6 0 1 0 -5.2 0zM1039.7 568.93a2.6 2.6 0 1 0 5.2 0a2.6 2.6 0 1 0 -5.2 0zM1054.65 568.04a2.6 2.6 0 1 0 5.2 0a2.6 2.6 0 1 0 -5.2 0zM1069.6 567.15a2.6 2.6 0 1 0 5.2 0a2.6 2.6 0 1 0 -5.2 0zM1084.55 573.37a2.6 2.6 0 1 0 5.2 0a2.6 2.6 0 1 0 -5.2 0zM1099.5 569.82a2.6 2.6 0 1 0 5.2 0a2.6 2.6 0 1 0 -5.2 0zM1114.45 576.04a2.6 2.6 0 1 0 5.2 0a2.6 2.6 0 1 0 -5.2 0zM1129.4 580.48a2.6 2.6 0 1 0 5.2 0a2.6 2.6 0 1 0 -5.2 0zM1144.35 586.7a2.6 2.6 0 1 0 5.2 0a2.6 2.6 0 1 0 -5.2 0zM1159.3 592.92a2.6 2.6 0 1 0 5.2 0a2.6 2.6 0 1 0 -5.2 0zM1174.25 598.54a2.6 2.6 0 1 0 5.2 0a2.6 2.6 0 1 0 -5.2 0zM1189.2 600.84a2.6 2.6 0 1 0 5.2 0a2.6 2.6 0 1 0 -5.2 0zM1204.15 601.73a2.6 2.6 0 1 0 5.2 0a2.6 2.6 0 1 0 -5.2 0zM1219.1 607.43a2.6 2.6 0 1 0 5.2 0a2.6 2.6 0 1 0 -5.2 0zM1234.05 607.43a2.6 2.6 0 1 0 5.2 0a2.6 2.6 0 1 0 -5.2 0zM1249 609.72a2.6 2.6 0 1 0 5.2 0a2.6 2.6 0 1 0 -5.2 0zM1263.95 611.5a2.6 2.6 0 1 0 5.2 0a2.6 2.6 0 1 0 -5.2 0zM1278.9 610.31a2.6 2.6 0 1 0 5.2 0a2.6 2.6 0 1 0 -5.2 0zM1293.85 614.16a2.6 2.6 0 1 0 5.2 0a2.6 2.6 0 1 0 -5.2 0zM1308.8 613.28a2.6 2.6 0 1 0 5.2 0a2.6 2.6 0 1 0 -5.2 0zM1323.75 617.2a2.6 2.6 0 1 0 5.2 0a2.6 2.6 0 1 0 -5.2 0zM1338.7 619.49a2.6 2.6 0 1 0 5.2 0a2.6 2.6 0 1 0 -5.2 0zM1353.65 625.19a2.6 2.6 0 1 0 5.2 0a2.6 2.6 0 1 0 -5.2 0zM1368.6 625.19a2.6 2.6 0 1 0 5.2 0a2.6 2.6 0 1 0 -5.2 0zM1383.55 625.19a2.6 2.6 0 1 0 5.2 0a2.6 2.6 0 1 0 -5.2 0zM1398.5 621.27a2.6 2.6 0 1 0 5.2 0a2.6 2.6 0 1 0 -5.2 0zM1413.45 622.68a2.6 2.6 0 1 0 5.2 0a2.6 2.6 0 1 0 -5.2 0zM1428.4 617.2a2.6 2.6 0 1 0 5.2 0a2.6 2.6 0 1 0 -5.2 0zM1443.35 617.2a2.6 2.6 0 1 0 5.2 0a2.6 2.6 0 1 0 -5.2 0zM1458.3 615.94a2.6 2.6 0 1 0 5.2 0a2.6 2.6 0 1 0 -5.2 0zM1473.25 617.72a2.6 2.6 0 1 0 5.2 0a2.6 2.6 0 1 0 -5.2 0zM1488.2 626.97a2.6 2.6 0 1 0 5.2 0a2.6 2.6 0 1 0 -5.2 0zM1503.15 629.64a2.6 2.6 0 1 0 5.2 0a2.6 2.6 0 1 0 -5.2 0zM1518.1 631.04a2.6 2.6 0 1 0 5.2 0a2.6 2.6 0 1 0 -5.2 0zM1533.05 633.34a2.6 2.6 0 1 0 5.2 0a2.6 2.6 0 1 0 -5.2 0zM1548 635.85a2.6 2.6 0 1 0 5.2 0a2.6 2.6 0 1 0 -5.2 0zM1562.95 633.34a2.6 2.6 0 1 0 5.2 0a2.6 2.6 0 1 0 -5.2 0zM1577.9 626.97a2.6 2.6 0 1 0 5.2 0a2.6 2.6 0 1 0 -5.2 0zM1592.85 629.64a2.6 2.6 0 1 0 5.2 0a2.6 2.6 0 1 0 -5.2 0zM1607.8 625.71a2.6 2.6 0 1 0 5.2 0a2.6 2.6 0 1 0 -5.2 0zM1622.75 626.23a2.6 2.6 0 1 0 5.2 0a2.6 2.6 0 1 0 -5.2 0zM1637.7 623.94a2.6 2.6 0 1 0 5.2 0a2.6 2.6 0 1 0 -5.2 0z" fill="#00ff00" stroke="none"/>
<polyline points="922.7,637.63 937.65,592.92 952.6,552.05 967.55,536.58 982.5,532.51 997.45,529.33 1012.4,531.1 1027.35,531.62 1042.3,533.4 1057.25,530.73 1072.2,528.58 1087.15,533.4 1102.1,530.73 1117.05,536.06 1132,539.99 1146.95,548.13 1161.9,553.46 1176.85,562.34 1191.8,563.6 1206.75,566.78 1221.7,573.74 1236.65,573.37 1251.6,577.81 1266.55,581 1281.5,581.37 1296.45,587.59 1311.4,587.59 1326.35,592.03 1341.3,595.21 1356.25,600.84 1371.2,600.84 1386.15,600.84 1401.1,592.92 1416.05,598.25 1431,589.36 1445.95,590.77 1460.9,592.03 1475.85,596.47 1490.8,606.17 1505.75,613.87 1520.7,616.31 1535.65,616.31 1550.6,615.05 1565.55,614.76 1580.5,603.5 1595.45,607.65 1610.4,604.98 1625.35,605.65 1640.3,605.65" stroke="#0000ff" stroke-dasharray="31.25 7.63 5.01 7.63 5.01 7.63"/>
<path d="M920.1 637.63a2.6 2.6 0 1 0 5.2 0a2.6 2.6 0 1 0 -5.2 0zM935.05 592.92a2.6 2.6 0 1 0 5.2 0a2.6 2.6 0 1 0 -5.2 0zM950 552.05a2.6 2.6 0 1 0 5.2 0a2.6 2.6 0 1 0 -5.2 0zM964.95 536.58a2.6 2.6 0 1 0 5.2 0a2.6 2.6 0 1 0 -5.2 0zM979.9 532.51a2.6 2.6 0 1 0 5.2 0a2.6 2.6 0 1 0 -5.2 0zM994.85 529.33a2.6 2.6 0 1 0 5.2 0a2.6 2.6 0 1 0 -5.2 0zM1009.8 531.1a2.6 2.6 0 1 0 5.2 0a2.6 2.6 0 1 0 -5.2 0zM1024.75 531.62a2.6 2.6 0 1 0 5.2 0a2.6 2.6 0 1 0 -5.2 0zM1039.7 533.4a2.6 2.6 0 1 0 5.2 0a2.6 2.6 0 1 0 -5.2 0zM1054.65 530.73a2.6 2.6 0 1 0 5.2 0a2.6 2.6 0 1 0 -5.2 0zM1069.6 528.58a2.6 2.6 0 1 0 5.2 0a2.6 2.6 0 1 0 -5.2 0zM1084.55 533.4a2.6 2.6 0 1 0 5.2 0a2.6 2.6 0 1 0 -5.2 0zM1099.5 530.73a2.6 2.6 0 1 0 5.2 0a2.6 2.6 0 1 0 -5.2 0zM1114.45 536.06a2.6 2.6 0 1 0 5.2 0a2.6 2.6 0 1 0 -5.2 0zM1129.4 539.99a2.6 2.6 0 1 0 5.2 0a2.6 2.6 0 1 0 -5.2 0zM1144.35 548.13a2.6 2.6 0 1 0 5.2 0a2.6 2.6 0 1 0 -5.2 0zM1159.3 553.46a2.6 2.6 0 1 0 5.2 0a2.6 2.6 0 1 0 -5.2 0zM1174.25 562.34a2.6 2.6 0 1 0 5.2 0a2.6 2.6 0 1 0 -5.2 0zM1189.2 563.6a2.6 2.6 0 1 0 5.2 0a2.6 2.6 0 1 0 -5.2 0zM1204.15 566.78a2.6 2.6 0 1 0 5.2 0a2.6 2.6 0 1 0 -5.2 0zM1219.1 573.74a2.6 2.6 0 1 0 5.2 0a2.6 2.6 0 1 0 -5.2 0zM1234.05 573.37a2.6 2.6 0 1 0 5.2 0a2.6 2.6 0 1 0 -5.2 0zM1249 577.81a2.6 2.6 0 1 0 5.2 0a2.6 2.6 0 1 0 -5.2 0zM1263.95 581a2.6 2.6 0 1 0 5.2 0a2.6 2.6 0 1 0 -5.2 0zM1278.9 581.37a2.6 2.6 0 1 0 5.2 0a2.6 2.6 0 1 0 -5.2 0zM1293.85 587.59a2.6 2.6 0 1 0 5.2 0a2.6 2.6 0 1 0 -5.2 0zM1308.8 587.59a2.6 2.6 0 1 0 5.2 0a2.6 2.6 0 1 0 -5.2 0zM1323.75 592.03a2.6 2.6 0 1 0 5.2 0a2.6 2.6 0 1 0 -5.2 0zM1338.7 595.21a2.6 2.6 0 1 0 5.2 0a2.6 2.6 0 1 0 -5.2 0zM1353.65 600.84a2.6 2.6 0 1 0 5.2 0a2.6 2.6 0 1 0 -5.2 0zM1368.6 600.84a2.6 2.6 0 1 0 5.2 0a2.6 2.6 0 1 0 -5.2 0zM1383.55 600.84a2.6 2.6 0 1 0 5.2 0a2.6 2.6 0 1 0 -5.2 0zM1398.5 592.92a2.6 2.6 0 1 0 5.2 0a2.6 2.6 0 1 0 -5.2 0zM1413.45 598.25a2.6 2.6 0 1 0 5.2 0a2.6 2.6 0 1 0 -5.2 0zM1428.4 589.36a2.6 2.6 0 1 0 5.2 0a2.6 2.6 0 1 0 -5.2 0zM1443.35 590.77a2.6 2.6 0 1 0 5.2 0a2.6 2.6 0 1 0 -5.2 0zM1458.3 592.03a2.6 2.6 0 1 0 5.2 0a2.6 2.6 0 1 0 -5.2 0zM1473.25 596.47a2.6 2.6 0 1 0 5.2 0a2.6 2.6 0 1 0 -5.2 0zM1488.2 606.17a2.6 2.6 0 1 0 5.2 0a2.6 2.6 0 1 0 -5.2 0zM1503.15 613.87a2.6 2.6 0 1 0 5.2 0a2.6 2.6 0 1 0 -5.2 0zM1518.1 616.31a2.6 2.6 0 1 0 5.2 0a2.6 2.6 0 1 0 -5.2 0zM1533.05 616.31a2.6 2.6 0 1 0 5.2 0a2.6 2.6 0 1 0 -5.2 0zM1548 615.05a2.6 2.6 0 1 0 5.2 0a2.6 2.6 0 1 0 -5.2 0zM1562.95 614.76a2.6 2.6 0 1 0 5.2 0a2.6 2.6 0 1 0 -5.2 0zM1577.9 603.5a2.6 2.6 0 1 0 5.2 0a2.6 2.6 0 1 0 -5.2 0zM1592.85 607.65a2.6 2.6 0 1 0 5.2 0a2.6 2.6 0 1 0 -5.2 0zM1607.8 604.98a2.6 2.6 0 1 0 5.2 0a2.6 2.6 0 1 0 -5.2 0zM1622.75 605.65a2.6 2.6 0 1 0 5.2 0a2.6 2.6 0 1 0 -5.2 0zM1637.7 605.65a2.6 2.6 0 1 0 5.2 0a2.6 2.6 0 1 0 -5.2 0z" fill="#0000ff" stroke="none"/>
<polyline points="922.7,637.63 937.65,587.59 952.6,530.36 967.55,507.63 982.5,501.42 997.45,496.97 1012.4,497.57 1027.35,497.57 1042.3,498.75 1057.25,494.31 1072.2,491.64 1087.15,494.68 1102.1,491.13 1117.05,496.09 1132,501.12 1146.95,507.12 1161.9,513.48 1176.85,520.44 1191.8,524.51 1206.75,524.51 1221.7,535.17 1236.65,534.29 1251.6,541.02 1266.55,548.13 1281.5,547.61 1296.45,555.24 1311.4,556.49 1326.35,564.86 1341.3,568.93 1356.25,575.15 1371.2,577.22 1386.15,576.56 1401.1,571.6 1416.05,573.37 1431,564.12 1445.95,567.67 1460.9,568.04 1475.85,575.52 1490.8,590.77 1505.75,599.65 1520.7,599.65 1535.65,600.32 1550.6,594.32 1565.55,595.21 1580.5,584.92 1595.45,591.44 1610.4,591.44 1625.35,595.58 1640.3,594.69" stroke="#006400" stroke-dasharray="5.01 48.45"/>
<path d="M920.1 637.63a2.6 2.6 0 1 0 5.2 0a2.6 2.6 0 1 0 -5.2 0zM935.05 587.59a2.6 2.6 0 1 0 5.2 0a2.6 2.6 0 1 0 -5.2 0zM950 530.36a2.6 2.6 0 1 0 5.2 0a2.6 2.6 0 1 0 -5.2 0zM964.95 507.63a2.6 2.6 0 1 0 5.2 0a2.6 2.6 0 1 0 -5.2 0zM979.9 501.42a2.6 2.6 0 1 0 5.2 0a2.6 2.6 0 1 0 -5.2 0zM994.85 496.97a2.6 2.6 0 1 0 5.2 0a2.6 2.6 0 1 0 -5.2 0zM1009.8 497.57a2.6 2.6 0 1 0 5.2 0a2.6 2.6 0 1 0 -5.2 0zM1024.75 497.57a2.6 2.6 0 1 0 5.2 0a2.6 2.6 0 1 0 -5.2 0zM1039.7 498.75a2.6 2.6 0 1 0 5.2 0a2.6 2.6 0 1 0 -5.2 0zM1054.65 494.31a2.6 2.6 0 1 0 5.2 0a2.6 2.6 0 1 0 -5.2 0zM1069.6 491.64a2.6 2.6 0 1 0 5.2 0a2.6 2.6 0 1 0 -5.2 0zM1084.55 494.68a2.6 2.6 0 1 0 5.2 0a2.6 2.6 0 1 0 -5.2 0zM1099.5 491.13a2.6 2.6 0 1 0 5.2 0a2.6 2.6 0 1 0 -5.2 0zM1114.45 496.09a2.6 2.6 0 1 0 5.2 0a2.6 2.6 0 1 0 -5.2 0zM1129.4 501.12a2.6 2.6 0 1 0 5.2 0a2.6 2.6 0 1 0 -5.2 0zM1144.35 507.12a2.6 2.6 0 1 0 5.2 0a2.6 2.6 0 1 0 -5.2 0zM1159.3 513.48a2.6 2.6 0 1 0 5.2 0a2.6 2.6 0 1 0 -5.2 0zM1174.25 520.44a2.6 2.6 0 1 0 5.2 0a2.6 2.6 0 1 0 -5.2 0zM1189.2 524.51a2.6 2.6 0 1 0 5.2 0a2.6 2.6 0 1 0 -5.2 0zM1204.15 524.51a2.6 2.6 0 1 0 5.2 0a2.6 2.6 0 1 0 -5.2 0zM1219.1 535.17a2.6 2.6 0 1 0 5.2 0a2.6 2.6 0 1 0 -5.2 0zM1234.05 534.29a2.6 2.6 0 1 0 5.2 0a2.6 2.6 0 1 0 -5.2 0zM1249 541.02a2.6 2.6 0 1 0 5.2 0a2.6 2.6 0 1 0 -5.2 0zM1263.95 548.13a2.6 2.6 0 1 0 5.2 0a2.6 2.6 0 1 0 -5.2 0zM1278.9 547.61a2.6 2.6 0 1 0 5.2 0a2.6 2.6 0 1 0 -5.2 0zM1293.85 555.24a2.6 2.6 0 1 0 5.2 0a2.6 2.6 0 1 0 -5.2 0zM1308.8 556.49a2.6 2.6 0 1 0 5.2 0a2.6 2.6 0 1 0 -5.2 0zM1323.75 564.86a2.6 2.6 0 1 0 5.2 0a2.6 2.6 0 1 0 -5.2 0zM1338.7 568.93a2.6 2.6 0 1 0 5.2 0a2.6 2.6 0 1 0 -5.2 0zM1353.65 575.15a2.6 2.6 0 1 0 5.2 0a2.6 2.6 0 1 0 -5.2 0zM1368.6 577.22a2.6 2.6 0 1 0 5.2 0a2.6 2.6 0 1 0 -5.2 0zM1383.55 576.56a2.6 2.6 0 1 0 5.2 0a2.6 2.6 0 1 0 -5.2 0zM1398.5 571.6a2.6 2.6 0 1 0 5.2 0a2.6 2.6 0 1 0 -5.2 0zM1413.45 573.37a2.6 2.6 0 1 0 5.2 0a2.6 2.6 0 1 0 -5.2 0zM1428.4 564.12a2.6 2.6 0 1 0 5.2 0a2.6 2.6 0 1 0 -5.2 0zM1443.35 567.67a2.6 2.6 0 1 0 5.2 0a2.6 2.6 0 1 0 -5.2 0zM1458.3 568.04a2.6 2.6 0 1 0 5.2 0a2.6 2.6 0 1 0 -5.2 0zM1473.25 575.52a2.6 2.6 0 1 0 5.2 0a2.6 2.6 0 1 0 -5.2 0zM1488.2 590.77a2.6 2.6 0 1 0 5.2 0a2.6 2.6 0 1 0 -5.2 0zM1503.15 599.65a2.6 2.6 0 1 0 5.2 0a2.6 2.6 0 1 0 -5.2 0zM1518.1 599.65a2.6 2.6 0 1 0 5.2 0a2.6 2.6 0 1 0 -5.2 0zM1533.05 600.32a2.6 2.6 0 1 0 5.2 0a2.6 2.6 0 1 0 -5.2 0zM1548 594.32a2.6 2.6 0 1 0 5.2 0a2.6 2.6 0 1 0 -5.2 0zM1562.95 595.21a2.6 2.6 0 1 0 5.2 0a2.6 2.6 0 1 0 -5.2 0zM1577.9 584.92a2.6 2.6 0 1 0 5.2 0a2.6 2.6 0 1 0 -5.2 0zM1592.85 591.44a2.6 2.6 0 1 0 5.2 0a2.6 2.6 0 1 0 -5.2 0zM1607.8 591.44a2.6 2.6 0 1 0 5.2 0a2.6 2.6 0 1 0 -5.2 0zM1622.75 595.58a2.6 2.6 0 1 0 5.2 0a2.6 2.6 0 1 0 -5.2 0zM1637.7 594.69a2.6 2.6 0 1 0 5.2 0a2.6 2.6 0 1 0 -5.2 0z" fill="#006400" stroke="none"/>
<polyline points="922.7,637.63 937.65,583.14 952.6,523.62 967.55,497.86 982.5,489.87 997.45,486.02 1012.4,486.31 1027.35,485.13 1042.3,484.24 1057.25,477.5 1072.2,473.58 1087.15,473.58 1102.1,468.62 1117.05,472.17 1132,476.62 1146.95,481.06 1161.9,488.09 1176.85,493.42 1191.8,500.53 1206.75,502.3 1221.7,511.71 1236.65,512.59 1251.6,517.92 1266.55,526.29 1281.5,526.29 1296.45,533.4 1311.4,536.06 1326.35,546.35 1341.3,553.46 1356.25,559.16 1371.2,563.08 1386.15,565.38 1401.1,557.75 1416.05,561.31 1431,551.16 1445.95,554.2 1460.9,557.9 1475.85,564.49 1490.8,579.59 1505.75,587.59 1520.7,587.59 1535.65,590.25 1550.6,583.66 1565.55,587.22 1580.5,580.48 1595.45,585.81 1610.4,584.55 1625.35,584.55 1640.3,584.03" stroke="#00ffff" stroke-dasharray="5.01 24.15"/>
<path d="M920.1 637.63a2.6 2.6 0 1 0 5.2 0a2.6 2.6 0 1 0 -5.2 0zM935.05 583.14a2.6 2.6 0 1 0 5.2 0a2.6 2.6 0 1 0 -5.2 0zM950 523.62a2.6 2.6 0 1 0 5.2 0a2.6 2.6 0 1 0 -5.2 0zM964.95 497.86a2.6 2.6 0 1 0 5.2 0a2.6 2.6 0 1 0 -5.2 0zM979.9 489.87a2.6 2.6 0 1 0 5.2 0a2.6 2.6 0 1 0 -5.2 0zM994.85 486.02a2.6 2.6 0 1 0 5.2 0a2.6 2.6 0 1 0 -5.2 0zM1009.8 486.31a2.6 2.6 0 1 0 5.2 0a2.6 2.6 0 1 0 -5.2 0zM1024.75 485.13a2.6 2.6 0 1 0 5.2 0a2.6 2.6 0 1 0 -5.2 0zM1039.7 484.24a2.6 2.6 0 1 0 5.2 0a2.6 2.6 0 1 0 -5.2 0zM1054.65 477.5a2.6 2.6 0 1 0 5.2 0a2.6 2.6 0 1 0 -5.2 0zM1069.6 473.58a2.6 2.6 0 1 0 5.2 0a2.6 2.6 0 1 0 -5.2 0zM1084.55 473.58a2.6 2.6 0 1 0 5.2 0a2.6 2.6 0 1 0 -5.2 0zM1099.5 468.62a2.6 2.6 0 1 0 5.2 0a2.6 2.6 0 1 0 -5.2 0zM1114.45 472.17a2.6 2.6 0 1 0 5.2 0a2.6 2.6 0 1 0 -5.2 0zM1129.4 476.62a2.6 2.6 0 1 0 5.2 0a2.6 2.6 0 1 0 -5.2 0zM1144.35 481.06a2.6 2.6 0 1 0 5.2 0a2.6 2.6 0 1 0 -5.2 0zM1159.3 488.09a2.6 2.6 0 1 0 5.2 0a2.6 2.6 0 1 0 -5.2 0zM1174.25 493.42a2.6 2.6 0 1 0 5.2 0a2.6 2.6 0 1 0 -5.2 0zM1189.2 500.53a2.6 2.6 0 1 0 5.2 0a2.6 2.6 0 1 0 -5.2 0zM1204.15 502.3a2.6 2.6 0 1 0 5.2 0a2.6 2.6 0 1 0 -5.2 0zM1219.1 511.71a2.6 2.6 0 1 0 5.2 0a2.6 2.6 0 1 0 -5.2 0zM1234.05 512.59a2.6 2.6 0 1 0 5.2 0a2.6 2.6 0 1 0 -5.2 0zM1249 517.92a2.6 2.6 0 1 0 5.2 0a2.6 2.6 0 1 0 -5.2 0zM1263.95 526.29a2.6 2.6 0 1 0 5.2 0a2.6 2.6 0 1 0 -5.2 0zM1278.9 526.29a2.6 2.6 0 1 0 5.2 0a2.6 2.6 0 1 0 -5.2 0zM1293.85 533.4a2.6 2.6 0 1 0 5.2 0a2.6 2.6 0 1 0 -5.2 0zM1308.8 536.06a2.6 2.6 0 1 0 5.2 0a2.6 2.6 0 1 0 -5.2 0zM1323.75 546.35a2.6 2.6 0 1 0 5.2 0a2.6 2.6 0 1 0 -5.2 0zM1338.7 553.46a2.6 2.6 0 1 0 5.2 0a2.6 2.6 0 1 0 -5.2 0zM1353.65 559.16a2.6 2.6 0 1 0 5.2 0a2.6 2.6 0 1 0 -5.2 0zM1368.6 563.08a2.6 2.6 0 1 0 5.2 0a2.6 2.6 0 1 0 -5.2 0zM1383.55 565.38a2.6 2.6 0 1 0 5.2 0a2.6 2.6 0 1 0 -5.2 0zM1398.5 557.75a2.6 2.6 0 1 0 5.2 0a2.6 2.6 0 1 0 -5.2 0zM1413.45 561.31a2.6 2.6 0 1 0 5.2 0a2.6 2.6 0 1 0 -5.2 0zM1428.4 551.16a2.6 2.6 0 1 0 5.2 0a2.6 2.6 0 1 0 -5.2 0zM1443.35 554.2a2.6 2.6 0 1 0 5.2 0a2.6 2.6 0 1 0 -5.2 0zM1458.3 557.9a2.6 2.6 0 1 0 5.2 0a2.6 2.6 0 1 0 -5.2 0zM1473.25 564.49a2.6 2.6 0 1 0 5.2 0a2.6 2.6 0 1 0 -5.2 0zM1488.2 579.59a2.6 2.6 0 1 0 5.2 0a2.6 2.6 0 1 0 -5.2 0zM1503.15 587.59a2.6 2.6 0 1 0 5.2 0a2.6 2.6 0 1 0 -5.2 0zM1518.1 587.59a2.6 2.6 0 1 0 5.2 0a2.6 2.6 0 1 0 -5.2 0zM1533.05 590.25a2.6 2.6 0 1 0 5.2 0a2.6 2.6 0 1 0 -5.2 0zM1548 583.66a2.6 2.6 0 1 0 5.2 0a2.6 2.6 0 1 0 -5.2 0zM1562.95 587.22a2.6 2.6 0 1 0 5.2 0a2.6 2.6 0 1 0 -5.2 0zM1577.9 580.48a2.6 2.6 0 1 0 5.2 0a2.6 2.6 0 1 0 -5.2 0zM1592.85 585.81a2.6 2.6 0 1 0 5.2 0a2.6 2.6 0 1 0 -5.2 0zM1607.8 584.55a2.6 2.6 0 1 0 5.2 0a2.6 2.6 0 1 0 -5.2 0zM1622.75 584.55a2.6 2.6 0 1 0 5.2 0a2.6 2.6 0 1 0 -5.2 0zM1637.7 584.03a2.6 2.6 0 1 0 5.2 0a2.6 2.6 0 1 0 -5.2 0z" fill="#00ffff" stroke="none"/>
<polyline points="922.7,637.63 937.65,569.82 952.6,498.75 967.55,470.4 982.5,461.51 997.45,453.89 1012.4,454.41 1027.35,452.63 1042.3,448.19 1057.25,440.19 1072.2,433.97 1087.15,434.34 1102.1,425.61 1117.05,430.42 1132,432.57 1146.95,436.64 1161.9,442.34 1176.85,449.45 1191.8,456.55 1206.75,457.07 1221.7,467.73 1236.65,469.51 1251.6,477.13 1266.55,488.09 1281.5,489.87 1296.45,500.23 1311.4,506.75 1326.35,516.15 1341.3,523.62 1356.25,531.62 1371.2,536.06 1386.15,536.43 1401.1,527.18 1416.05,532.51 1431,523.62 1445.95,531.1 1460.9,533.4 1475.85,541.39 1490.8,554.72 1505.75,563.6 1520.7,566.27 1535.65,568.93 1550.6,567.15 1565.55,567.67 1580.5,560.05 1595.45,565.38 1610.4,564.49 1625.35,563.08 1640.3,564.12" stroke="#ff00ff" stroke-dasharray="5.01 4.71"/>
<path d="M920.1 637.63a2.6 2.6 0 1 0 5.2 0a2.6 2.6 0 1 0 -5.2 0zM935.05 569.82a2.6 2.6 0 1 0 5.2 0a2.6 2.6 0 1 0 -5.2 0zM950 498.75a2.6 2.6 0 1 0 5.2 0a2.6 2.6 0 1 0 -5.2 0zM964.95 470.4a2.6 2.6 0 1 0 5.2 0a2.6 2.6 0 1 0 -5.2 0zM979.9 461.51a2.6 2.6 0 1 0 5.2 0a2.6 2.6 0 1 0 -5.2 0zM994.85 453.89a2.6 2.6 0 1 0 5.2 0a2.6 2.6 0 1 0 -5.2 0zM1009.8 454.41a2.6 2.6 0 1 0 5.2 0a2.6 2.6 0 1 0 -5.2 0zM1024.75 452.63a2.6 2.6 0 1 0 5.2 0a2.6 2.6 0 1 0 -5.2 0zM1039.7 448.19a2.6 2.6 0 1 0 5.2 0a2.6 2.6 0 1 0 -5.2 0zM1054.65 440.19a2.6 2.6 0 1 0 5.2 0a2.6 2.6 0 1 0 -5.2 0zM1069.6 433.97a2.6 2.6 0 1 0 5.2 0a2.6 2.6 0 1 0 -5.2 0zM1084.55 434.34a2.6 2.6 0 1 0 5.2 0a2.6 2.6 0 1 0 -5.2 0zM1099.5 425.61a2.6 2.6 0 1 0 5.2 0a2.6 2.6 0 1 0 -5.2 0zM1114.45 430.42a2.6 2.6 0 1 0 5.2 0a2.6 2.6 0 1 0 -5.2 0zM1129.4 432.57a2.6 2.6 0 1 0 5.2 0a2.6 2.6 0 1 0 -5.2 0zM1144.35 436.64a2.6 2.6 0 1 0 5.2 0a2.6 2.6 0 1 0 -5.2 0zM1159.3 442.34a2.6 2.6 0 1 0 5.2 0a2.6 2.6 0 1 0 -5.2 0zM1174.25 449.45a2.6 2.6 0 1 0 5.2 0a2.6 2.6 0 1 0 -5.2 0zM1189.2 456.55a2.6 2.6 0 1 0 5.2 0a2.6 2.6 0 1 0 -5.2 0zM1204.15 457.07a2.6 2.6 0 1 0 5.2 0a2.6 2.6 0 1 0 -5.2 0zM1219.1 467.73a2.6 2.6 0 1 0 5.2 0a2.6 2.6 0 1 0 -5.2 0zM1234.05 469.51a2.6 2.6 0 1 0 5.2 0a2.6 2.6 0 1 0 -5.2 0zM1249 477.13a2.6 2.6 0 1 0 5.2 0a2.6 2.6 0 1 0 -5.2 0zM1263.95 488.09a2.6 2.6 0 1 0 5.2 0a2.6 2.6 0 1 0 -5.2 0zM1278.9 489.87a2.6 2.6 0 1 0 5.2 0a2.6 2.6 0 1 0 -5.2 0zM1293.85 500.23a2.6 2.6 0 1 0 5.2 0a2.6 2.6 0 1 0 -5.2 0zM1308.8 506.75a2.6 2.6 0 1 0 5.2 0a2.6 2.6 0 1 0 -5.2 0zM1323.75 516.15a2.6 2.6 0 1 0 5.2 0a2.6 2.6 0 1 0 -5.2 0zM1338.7 523.62a2.6 2.6 0 1 0 5.2 0a2.6 2.6 0 1 0 -5.2 0zM1353.65 531.62a2.6 2.6 0 1 0 5.2 0a2.6 2.6 0 1 0 -5.2 0zM1368.6 536.06a2.6 2.6 0 1 0 5.2 0a2.6 2.6 0 1 0 -5.2 0zM1383.55 536.43a2.6 2.6 0 1 0 5.2 0a2.6 2.6 0 1 0 -5.2 0zM1398.5 527.18a2.6 2.6 0 1 0 5.2 0a2.6 2.6 0 1 0 -5.2 0zM1413.45 532.51a2.6 2.6 0 1 0 5.2 0a2.6 2.6 0 1 0 -5.2 0zM1428.4 523.62a2.6 2.6 0 1 0 5.2 0a2.6 2.6 0 1 0 -5.2 0zM1443.35 531.1a2.6 2.6 0 1 0 5.2 0a2.6 2.6 0 1 0 -5.2 0zM1458.3 533.4a2.6 2.6 0 1 0 5.2 0a2.6 2.6 0 1 0 -5.2 0zM1473.25 541.39a2.6 2.6 0 1 0 5.2 0a2.6 2.6 0 1 0 -5.2 0zM1488.2 554.72a2.6 2.6 0 1 0 5.2 0a2.6 2.6 0 1 0 -5.2 0zM1503.15 563.6a2.6 2.6 0 1 0 5.2 0a2.6 2.6 0 1 0 -5.2 0zM1518.1 566.27a2.6 2.6 0 1 0 5.2 0a2.6 2.6 0 1 0 -5.2 0zM1533.05 568.93a2.6 2.6 0 1 0 5.2 0a2.6 2.6 0 1 0 -5.2 0zM1548 567.15a2.6 2.6 0 1 0 5.2 0a2.6 2.6 0 1 0 -5.2 0zM1562.95 567.67a2.6 2.6 0 1 0 5.2 0a2.6 2.6 0 1 0 -5.2 0zM1577.9 560.05a2.6 2.6 0 1 0 5.2 0a2.6 2.6 0 1 0 -5.2 0zM1592.85 565.38a2.6 2.6 0 1 0 5.2 0a2.6 2.6 0 1 0 -5.2 0zM1607.8 564.49a2.6 2.6 0 1 0 5.2 0a2.6 2.6 0 1 0 -5.2 0zM1622.75 563.08a2.6 2.6 0 1 0 5.2 0a2.6 2.6 0 1 0 -5.2 0zM1637.7 564.12a2.6 2.6 0 1 0 5.2 0a2.6 2.6 0 1 0 -5.2 0z" fill="#ff00ff" stroke="none"/>
</g>
<path d="M922.7 689.6v16.9M997.45 689.6v16.9M1072.2 689.6v16.9M1146.95 689.6v16.9M1221.7 689.6v16.9M1296.45 689.6v16.9M1371.2 689.6v16.9M1445.95 689.6v16.9M1520.7 689.6v16.9M1595.45 689.6v16.9M922.7 689.6h-16.9M922.7 615.57h-16.9M922.7 541.54h-16.9M922.7 467.51h-16.9M922.7 393.48h-16.9M922.7 319.45h-16.9M922.7 245.42h-16.9M922.7 171.39h-16.9M922.7 97.36h-16.9M922.7 23.33h-16.9" stroke="#000" stroke-width="3.95" fill="none"/>
<path d="M937.65 689.6v10.1M952.6 689.6v10.1M967.55 689.6v10.1M982.5 689.6v10.1M1012.4 689.6v10.1M1027.35 689.6v10.1M1042.3 689.6v10.1M1057.25 689.6v10.1M1087.15 689.6v10.1M1102.1 689.6v10.1M1117.05 689.6v10.1M1132 689.6v10.1M1161.9 689.6v10.1M1176.85 689.6v10.1M1191.8 689.6v10.1M1206.75 689.6v10.1M1236.65 689.6v10.1M1251.6 689.6v10.1M1266.55 689.6v10.1M1281.5 689.6v10.1M1311.4 689.6v10.1M1326.35 689.6v10.1M1341.3 689.6v10.1M1356.25 689.6v10.1M1386.15 689.6v10.1M1401.1 689.6v10.1M1416.05 689.6v10.1M1431 689.6v10.1M1460.9 689.6v10.1M1475.85 689.6v10.1M1490.8 689.6v10.1M1505.75 689.6v10.1M1535.65 689.6v10.1M1550.6 689.6v10.1M1565.55 689.6v10.1M1580.5 689.6v10.1M1610.4 689.6v10.1M1625.35 689.6v10.1M1640.3 689.6v10.1M922.7 674.79h-10.1M922.7 659.99h-10.1M922.7 645.18h-10.1M922.7 630.38h-10.1M922.7 600.76h-10.1M922.7 585.96h-10.1M922.7 571.15h-10.1M922.7 556.35h-10.1M922.7 526.73h-10.1M922.7 511.93h-10.1M922.7 497.12h-10.1M922.7 482.32h-10.1M922.7 452.7h-10.1M922.7 437.9h-10.1M922.7 423.09h-10.1M922.7 408.29h-10.1M922.7 378.67h-10.1M922.7 363.87h-10.1M922.7 349.06h-10.1M922.7 334.26h-10.1M922.7 304.64h-10.1M922.7 289.84h-10.1M922.7 275.03h-10.1M922.7 260.23h-10.1M922.7 230.61h-10.1M922.7 215.81h-10.1M922.7 201h-10.1M922.7 186.2h-10.1M922.7 156.58h-10.1M922.7 141.78h-10.1M922.7 126.97h-10.1M922.7 112.17h-10.1M922.7 82.55h-10.1M922.7 67.75h-10.1M922.7 52.94h-10.1M922.7 38.14h-10.1" stroke="#000" stroke-width="2.95" fill="none"/>
<rect x="922.7" y="16.5" width="717.6" height="673.1" fill="none" stroke="#000" stroke-width="4.3"/>
<g font-size="38.9" text-anchor="middle">
<text x="922.7" y="750.9">0</text>
<text x="997.45" y="750.9">5</text>
<text x="1072.2" y="750.9">10</text>
<text x="1146.95" y="750.9">15</text>
<text x="1221.7" y="750.9">20</text>
<text x="1296.45" y="750.9">25</text>
<text x="1371.2" y="750.9">30</text>
<text x="1445.95" y="750.9">35</text>
<text x="1520.7" y="750.9">40</text>
<text x="1595.45" y="750.9">45</text>
<text x="1281.5" y="805.3">Time (min)</text>
</g>
<text font-size="48.6" x="994.7" y="84">(S=30 C=1)</text>
<rect x="1534.6" y="31" width="87.2" height="82.3" fill="#fff" stroke="#000" stroke-width="4.4"/>
<text font-size="48.6" text-anchor="middle" x="1578.2" y="84">b</text>
</g>
<g id="panel-c">
<clipPath id="clip-c"><rect x="148.4" y="824.5" width="717.1" height="673.6"/></clipPath>
<g clip-path="url(#clip-c)" fill="none" stroke-width="5.05" stroke-linejoin="round">
<polyline points="148.4,1489.44 160.16,1465.53 171.91,1452.28 183.67,1443.84 195.42,1438.14 207.18,1424.07 218.93,1400.68 230.69,1376.76 242.45,1362.7 254.2,1366.92 265.96,1383.8 277.71,1400.68 289.47,1408.6 301.22,1410 312.98,1407.78 324.74,1403.49 336.49,1400.68 348.25,1399.86 360,1398.75 371.76,1400.68 383.51,1404.38 395.27,1407.19 407.03,1409.19 418.78,1411.41 430.54,1413.93 442.29,1421.26 454.05,1424.07 465.8,1427.48 477.56,1433.1 489.32,1433.1 501.07,1440.13 512.83,1446.65 524.58,1447.17 536.34,1448.57 548.1,1454.2 559.85,1456.2 571.61,1457.61 583.36,1453.39 595.12,1448.57 606.87,1448.06 618.63,1453.39 630.39,1458.42 642.14,1469.15 653.9,1472.56 665.65,1472.56 677.41,1472.56 689.16,1471.67 700.92,1470.56 712.68,1468.34 724.43,1465.53 736.19,1464.64 747.94,1459.01 759.7,1464.12 771.45,1467.45 783.21,1473.08 794.97,1473.08 806.72,1473.37 818.48,1473.08 830.23,1475.89 841.99,1479.59 853.74,1483.22 865.5,1484.63" stroke="#000000" stroke-linecap="square"/>
<polyline points="148.4,1488.03 160.16,1448.57 171.91,1421.85 183.67,1409.19 195.42,1399.27 207.18,1380.98 218.93,1347.15 230.69,1310.58 242.45,1279.56 254.2,1268.31 265.96,1283.78 277.71,1310.58 289.47,1331.68 301.22,1338.71 312.98,1337.31 324.74,1330.27 336.49,1326.65 348.25,1323.83 360,1323.24 371.76,1325.46 383.51,1327.46 395.27,1328.87 407.03,1330.27 418.78,1334.49 430.54,1338.71 442.29,1350.85 454.05,1358.48 465.8,1364.92 477.56,1371.14 489.32,1374.54 501.07,1385.8 512.83,1394.24 524.58,1400.16 536.34,1413.41 548.1,1423.26 559.85,1426.07 571.61,1421.26 583.36,1413.41 595.12,1404.38 606.87,1409.19 618.63,1422.37 630.39,1432.51 642.14,1442.95 653.9,1446.65 665.65,1449.46 677.41,1449.98 689.16,1445.76 700.92,1440.13 712.68,1433.92 724.43,1438.14 736.19,1438.14 747.94,1437.32 759.7,1443.84 771.45,1442.43 783.21,1448.57 794.97,1444.95 806.72,1449.98 818.48,1457.9 830.23,1470.56 841.99,1476.19 853.74,1478.19 865.5,1471.67" stroke="#ff0000" stroke-dasharray="5.01 7.87"/>
<path d="M145.8 1488.03a2.6 2.6 0 1 0 5.2 0a2.6 2.6 0 1 0 -5.2 0zM157.56 1448.57a2.6 2.6 0 1 0 5.2 0a2.6 2.6 0 1 0 -5.2 0zM169.31 1421.85a2.6 2.6 0 1 0 5.2 0a2.6 2.6 0 1 0 -5.2 0zM181.07 1409.19a2.6 2.6 0 1 0 5.2 0a2.6 2.6 0 1 0 -5.2 0zM192.82 1399.27a2.6 2.6 0 1 0 5.2 0a2.6 2.6 0 1 0 -5.2 0zM204.58 1380.98a2.6 2.6 0 1 0 5.2 0a2.6 2.6 0 1 0 -5.2 0zM216.33 1347.15a2.6 2.6 0 1 0 5.2 0a2.6 2.6 0 1 0 -5.2 0zM228.09 1310.58a2.6 2.6 0 1 0 5.2 0a2.6 2.6 0 1 0 -5.2 0zM239.85 1279.56a2.6 2.6 0 1 0 5.2 0a2.6 2.6 0 1 0 -5.2 0zM251.6 1268.31a2.6 2.6 0 1 0 5.2 0a2.6 2.6 0 1 0 -5.2 0zM263.36 1283.78a2.6 2.6 0 1 0 5.2 0a2.6 2.6 0 1 0 -5.2 0zM275.11 1310.58a2.6 2.6 0 1 0 5.2 0a2.6 2.6 0 1 0 -5.2 0zM286.87 1331.68a2.6 2.6 0 1 0 5.2 0a2.6 2.6 0 1 0 -5.2 0zM298.62 1338.71a2.6 2.6 0 1 0 5.2 0a2.6 2.6 0 1 0 -5.2 0zM310.38 1337.31a2.6 2.6 0 1 0 5.2 0a2.6 2.6 0 1 0 -5.2 0zM322.14 1330.27a2.6 2.6 0 1 0 5.2 0a2.6 2.6 0 1 0 -5.2 0zM333.89 1326.65a2.6 2.6 0 1 0 5.2 0a2.6 2.6 0 1 0 -5.2 0zM345.65 1323.83a2.6 2.6 0 1 0 5.2 0a2.6 2.6 0 1 0 -5.2 0zM357.4 1323.24a2.6 2.6 0 1 0 5.2 0a2.6 2.6 0 1 0 -5.2 0zM369.16 1325.46a2.6 2.6 0 1 0 5.2 0a2.6 2.6 0 1 0 -5.2 0zM380.91 1327.46a2.6 2.6 0 1 0 5.2 0a2.6 2.6 0 1 0 -5.2 0zM392.67 1328.87a2.6 2.6 0 1 0 5.2 0a2.6 2.6 0 1 0 -5.2 0zM404.43 1330.27a2.6 2.6 0 1 0 5.2 0a2.6 2.6 0 1 0 -5.2 0zM416.18 1334.49a2.6 2.6 0 1 0 5.2 0a2.6 2.6 0 1 0 -5.2 0zM427.94 1338.71a2.6 2.6 0 1 0 5.2 0a2.6 2.6 0 1 0 -5.2 0zM439.69 1350.85a2.6 2.6 0 1 0 5.2 0a2.6 2.6 0 1 0 -5.2 0zM451.45 1358.48a2.6 2.6 0 1 0 5.2 0a2.6 2.6 0 1 0 -5.2 0zM463.2 1364.92a2.6 2.6 0 1 0 5.2 0a2.6 2.6 0 1 0 -5.2 0zM474.96 1371.14a2.6 2.6 0 1 0 5.2 0a2.6 2.6 0 1 0 -5.2 0zM486.72 1374.54a2.6 2.6 0 1 0 5.2 0a2.6 2.6 0 1 0 -5.2 0zM498.47 1385.8a2.6 2.6 0 1 0 5.2 0a2.6 2.6 0 1 0 -5.2 0zM510.23 1394.24a2.6 2.6 0 1 0 5.2 0a2.6 2.6 0 1 0 -5.2 0zM521.98 1400.16a2.6 2.6 0 1 0 5.2 0a2.6 2.6 0 1 0 -5.2 0zM533.74 1413.41a2.6 2.6 0 1 0 5.2 0a2.6 2.6 0 1 0 -5.2 0zM545.5 1423.26a2.6 2.6 0 1 0 5.2 0a2.6 2.6 0 1 0 -5.2 0zM557.25 1426.07a2.6 2.6 0 1 0 5.2 0a2.6 2.6 0 1 0 -5.2 0zM569.01 1421.26a2.6 2.6 0 1 0 5.2 0a2.6 2.6 0 1 0 -5.2 0zM580.76 1413.41a2.6 2.6 0 1 0 5.2 0a2.6 2.6 0 1 0 -5.2 0zM592.52 1404.38a2.6 2.6 0 1 0 5.2 0a2.6 2.6 0 1 0 -5.2 0zM604.27 1409.19a2.6 2.6 0 1 0 5.2 0a2.6 2.6 0 1 0 -5.2 0zM616.03 1422.37a2.6 2.6 0 1 0 5.2 0a2.6 2.6 0 1 0 -5.2 0zM627.79 1432.51a2.6 2.6 0 1 0 5.2 0a2.6 2.6 0 1 0 -5.2 0zM639.54 1442.95a2.6 2.6 0 1 0 5.2 0a2.6 2.6 0 1 0 -5.2 0zM651.3 1446.65a2.6 2.6 0 1 0 5.2 0a2.6 2.6 0 1 0 -5.2 0zM663.05 1449.46a2.6 2.6 0 1 0 5.2 0a2.6 2.6 0 1 0 -5.2 0zM674.81 1449.98a2.6 2.6 0 1 0 5.2 0a2.6 2.6 0 1 0 -5.2 0zM686.56 1445.76a2.6 2.6 0 1 0 5.2 0a2.6 2.6 0 1 0 -5.2 0zM698.32 1440.13a2.6 2.6 0 1 0 5.2 0a2.6 2.6 0 1 0 -5.2 0zM710.08 1433.92a2.6 2.6 0 1 0 5.2 0a2.6 2.6 0 1 0 -5.2 0zM721.83 1438.14a2.6 2.6 0 1 0 5.2 0a2.6 2.6 0 1 0 -5.2 0zM733.59 1438.14a2.6 2.6 0 1 0 5.2 0a2.6 2.6 0 1 0 -5.2 0zM745.34 1437.32a2.6 2.6 0 1 0 5.2 0a2.6 2.6 0 1 0 -5.2 0zM757.1 1443.84a2.6 2.6 0 1 0 5.2 0a2.6 2.6 0 1 0 -5.2 0zM768.85 1442.43a2.6 2.6 0 1 0 5.2 0a2.6 2.6 0 1 0 -5.2 0zM780.61 1448.57a2.6 2.6 0 1 0 5.2 0a2.6 2.6 0 1 0 -5.2 0zM792.37 1444.95a2.6 2.6 0 1 0 5.2 0a2.6 2.6 0 1 0 -5.2 0zM804.12 1449.98a2.6 2.6 0 1 0 5.2 0a2.6 2.6 0 1 0 -5.2 0zM815.88 1457.9a2.6 2.6 0 1 0 5.2 0a2.6 2.6 0 1 0 -5.2 0zM827.63 1470.56a2.6 2.6 0 1 0 5.2 0a2.6 2.6 0 1 0 -5.2 0zM839.39 1476.19a2.6 2.6 0 1 0 5.2 0a2.6 2.6 0 1 0 -5.2 0zM851.14 1478.19a2.6 2.6 0 1 0 5.2 0a2.6 2.6 0 1 0 -5.2 0zM862.9 1471.67a2.6 2.6 0 1 0 5.2 0a2.6 2.6 0 1 0 -5.2 0z" fill="#ff0000" stroke="none"/>
<polyline points="148.4,1488.03 160.16,1430.29 171.91,1395.05 183.67,1378.17 195.42,1368.33 207.18,1348.56 218.93,1311.99 230.69,1261.28 242.45,1224.63 254.2,1198.72 265.96,1196.5 277.71,1224.63 289.47,1252.84 301.22,1271.12 312.98,1276.75 324.74,1272.53 336.49,1266.31 348.25,1261.28 360,1258.98 371.76,1258.46 383.51,1258.46 395.27,1259.28 407.03,1262.68 418.78,1266.9 430.54,1273.94 442.29,1285.19 454.05,1294.52 465.8,1304.96 477.56,1315.32 489.32,1321.83 501.07,1336.79 512.83,1348.56 524.58,1358.48 536.34,1376.76 548.1,1387.2 559.85,1388.02 571.61,1385.2 583.36,1381.8 595.12,1375.95 606.87,1379.58 618.63,1394.24 630.39,1412 642.14,1428.88 653.9,1431.7 665.65,1433.1 677.41,1426.07 689.16,1416.22 700.92,1408.3 712.68,1410 724.43,1419.04 736.19,1426.59 747.94,1427.48 759.7,1431.7 771.45,1428.29 783.21,1433.92 794.97,1432.51 806.72,1442.13 818.48,1451.39 830.23,1461.23 841.99,1461.83 853.74,1454.79 865.5,1456.5" stroke="#00ff00" stroke-dasharray="18.13 7.63"/>
<path d="M145.8 1488.03a2.6 2.6 0 1 0 5.2 0a2.6 2.6 0 1 0 -5.2 0zM157.56 1430.29a2.6 2.6 0 1 0 5.2 0a2.6 2.6 0 1 0 -5.2 0zM169.31 1395.05a2.6 2.6 0 1 0 5.2 0a2.6 2.6 0 1 0 -5.2 0zM181.07 1378.17a2.6 2.6 0 1 0 5.2 0a2.6 2.6 0 1 0 -5.2 0zM192.82 1368.33a2.6 2.6 0 1 0 5.2 0a2.6 2.6 0 1 0 -5.2 0zM204.58 1348.56a2.6 2.6 0 1 0 5.2 0a2.6 2.6 0 1 0 -5.2 0zM216.33 1311.99a2.6 2.6 0 1 0 5.2 0a2.6 2.6 0 1 0 -5.2 0zM228.09 1261.28a2.6 2.6 0 1 0 5.2 0a2.6 2.6 0 1 0 -5.2 0zM239.85 1224.63a2.6 2.6 0 1 0 5.2 0a2.6 2.6 0 1 0 -5.2 0zM251.6 1198.72a2.6 2.6 0 1 0 5.2 0a2.6 2.6 0 1 0 -5.2 0zM263.36 1196.5a2.6 2.6 0 1 0 5.2 0a2.6 2.6 0 1 0 -5.2 0zM275.11 1224.63a2.6 2.6 0 1 0 5.2 0a2.6 2.6 0 1 0 -5.2 0zM286.87 1252.84a2.6 2.6 0 1 0 5.2 0a2.6 2.6 0 1 0 -5.2 0zM298.62 1271.12a2.6 2.6 0 1 0 5.2 0a2.6 2.6 0 1 0 -5.2 0zM310.38 1276.75a2.6 2.6 0 1 0 5.2 0a2.6 2.6 0 1 0 -5.2 0zM322.14 1272.53a2.6 2.6 0 1 0 5.2 0a2.6 2.6 0 1 0 -5.2 0zM333.89 1266.31a2.6 2.6 0 1 0 5.2 0a2.6 2.6 0 1 0 -5.2 0zM345.65 1261.28a2.6 2.6 0 1 0 5.2 0a2.6 2.6 0 1 0 -5.2 0zM357.4 1258.98a2.6 2.6 0 1 0 5.2 0a2.6 2.6 0 1 0 -5.2 0zM369.16 1258.46a2.6 2.6 0 1 0 5.2 0a2.6 2.6 0 1 0 -5.2 0zM380.91 1258.46a2.6 2.6 0 1 0 5.2 0a2.6 2.6 0 1 0 -5.2 0zM392.67 1259.28a2.6 2.6 0 1 0 5.2 0a2.6 2.6 0 1 0 -5.2 0zM404.43 1262.68a2.6 2.6 0 1 0 5.2 0a2.6 2.6 0 1 0 -5.2 0zM416.18 1266.9a2.6 2.6 0 1 0 5.2 0a2.6 2.6 0 1 0 -5.2 0zM427.94 1273.94a2.6 2.6 0 1 0 5.2 0a2.6 2.6 0 1 0 -5.2 0zM439.69 1285.19a2.6 2.6 0 1 0 5.2 0a2.6 2.6 0 1 0 -5.2 0zM451.45 1294.52a2.6 2.6 0 1 0 5.2 0a2.6 2.6 0 1 0 -5.2 0zM463.2 1304.96a2.6 2.6 0 1 0 5.2 0a2.6 2.6 0 1 0 -5.2 0zM474.96 1315.32a2.6 2.6 0 1 0 5.2 0a2.6 2.6 0 1 0 -5.2 0zM486.72 1321.83a2.6 2.6 0 1 0 5.2 0a2.6 2.6 0 1 0 -5.2 0zM498.47 1336.79a2.6 2.6 0 1 0 5.2 0a2.6 2.6 0 1 0 -5.2 0zM510.23 1348.56a2.6 2.6 0 1 0 5.2 0a2.6 2.6 0 1 0 -5.2 0zM521.98 1358.48a2.6 2.6 0 1 0 5.2 0a2.6 2.6 0 1 0 -5.2 0zM533.74 1376.76a2.6 2.6 0 1 0 5.2 0a2.6 2.6 0 1 0 -5.2 0zM545.5 1387.2a2.6 2.6 0 1 0 5.2 0a2.6 2.6 0 1 0 -5.2 0zM557.25 1388.02a2.6 2.6 0 1 0 5.2 0a2.6 2.6 0 1 0 -5.2 0zM569.01 1385.2a2.6 2.6 0 1 0 5.2 0a2.6 2.6 0 1 0 -5.2 0zM580.76 1381.8a2.6 2.6 0 1 0 5.2 0a2.6 2.6 0 1 0 -5.2 0zM592.52 1375.95a2.6 2.6 0 1 0 5.2 0a2.6 2.6 0 1 0 -5.2 0zM604.27 1379.58a2.6 2.6 0 1 0 5.2 0a2.6 2.6 0 1 0 -5.2 0zM616.03 1394.24a2.6 2.6 0 1 0 5.2 0a2.6 2.6 0 1 0 -5.2 0zM627.79 1412a2.6 2.6 0 1 0 5.2 0a2.6 2.6 0 1 0 -5.2 0zM639.54 1428.88a2.6 2.6 0 1 0 5.2 0a2.6 2.6 0 1 0 -5.2 0zM651.3 1431.7a2.6 2.6 0 1 0 5.2 0a2.6 2.6 0 1 0 -5.2 0zM663.05 1433.1a2.6 2.6 0 1 0 5.2 0a2.6 2.6 0 1 0 -5.2 0zM674.81 1426.07a2.6 2.6 0 1 0 5.2 0a2.6 2.6 0 1 0 -5.2 0zM686.56 1416.22a2.6 2.6 0 1 0 5.2 0a2.6 2.6 0 1 0 -5.2 0zM698.32 1408.3a2.6 2.6 0 1 0 5.2 0a2.6 2.6 0 1 0 -5.2 0zM710.08 1410a2.6 2.6 0 1 0 5.2 0a2.6 2.6 0 1 0 -5.2 0zM721.83 1419.04a2.6 2.6 0 1 0 5.2 0a2.6 2.6 0 1 0 -5.2 0zM733.59 1426.59a2.6 2.6 0 1 0 5.2 0a2.6 2.6 0 1 0 -5.2 0zM745.34 1427.48a2.6 2.6 0 1 0 5.2 0a2.6 2.6 0 1 0 -5.2 0zM757.1 1431.7a2.6 2.6 0 1 0 5.2 0a2.6 2.6 0 1 0 -5.2 0zM768.85 1428.29a2.6 2.6 0 1 0 5.2 0a2.6 2.6 0 1 0 -5.2 0zM780.61 1433.92a2.6 2.6 0 1 0 5.2 0a2.6 2.6 0 1 0 -5.2 0zM792.37 1432.51a2.6 2.6 0 1 0 5.2 0a2.6 2.6 0 1 0 -5.2 0zM804.12 1442.13a2.6 2.6 0 1 0 5.2 0a2.6 2.6 0 1 0 -5.2 0zM815.88 1451.39a2.6 2.6 0 1 0 5.2 0a2.6 2.6 0 1 0 -5.2 0zM827.63 1461.23a2.6 2.6 0 1 0 5.2 0a2.6 2.6 0 1 0 -5.2 0zM839.39 1461.83a2.6 2.6 0 1 0 5.2 0a2.6 2.6 0 1 0 -5.2 0zM851.14 1454.79a2.6 2.6 0 1 0 5.2 0a2.6 2.6 0 1 0 -5.2 0zM862.9 1456.5a2.6 2.6 0 1 0 5.2 0a2.6 2.6 0 1 0 -5.2 0z" fill="#00ff00" stroke="none"/>
<polyline points="148.4,1486.63 160.16,1413.41 171.91,1375.65 183.67,1356.48 195.42,1347.75 207.18,1327.46 218.93,1289.41 230.69,1241.59 242.45,1196.5 254.2,1161.26 265.96,1148.6 277.71,1157.04 289.47,1176.74 301.22,1199.31 312.98,1213.38 324.74,1217.6 336.49,1214.79 348.25,1210.57 360,1205.46 371.76,1202.13 383.51,1199.83 395.27,1198.43 407.03,1199.31 418.78,1202.65 430.54,1209.16 442.29,1219.01 454.05,1226.93 465.8,1235.89 477.56,1247.21 489.32,1256.47 501.07,1273.94 512.83,1288 524.58,1301.25 536.34,1323.24 548.1,1336.79 559.85,1338.71 571.61,1335.9 583.36,1333.09 595.12,1323.83 606.87,1338.71 618.63,1359.89 630.39,1379.58 642.14,1394.24 653.9,1395.05 665.65,1398.75 677.41,1392.24 689.16,1377.58 700.92,1375.95 712.68,1382.39 724.43,1397.86 736.19,1405.49 747.94,1402.08 759.7,1400.68 771.45,1399.27 783.21,1412 794.97,1414.22 806.72,1423.26 818.48,1425.48 830.23,1436.51 841.99,1437.91 853.74,1437.91 865.5,1442.95" stroke="#0000ff" stroke-dasharray="31.25 7.63 5.01 7.63 5.01 7.63"/>
<path d="M145.8 1486.63a2.6 2.6 0 1 0 5.2 0a2.6 2.6 0 1 0 -5.2 0zM157.56 1413.41a2.6 2.6 0 1 0 5.2 0a2.6 2.6 0 1 0 -5.2 0zM169.31 1375.65a2.6 2.6 0 1 0 5.2 0a2.6 2.6 0 1 0 -5.2 0zM181.07 1356.48a2.6 2.6 0 1 0 5.2 0a2.6 2.6 0 1 0 -5.2 0zM192.82 1347.75a2.6 2.6 0 1 0 5.2 0a2.6 2.6 0 1 0 -5.2 0zM204.58 1327.46a2.6 2.6 0 1 0 5.2 0a2.6 2.6 0 1 0 -5.2 0zM216.33 1289.41a2.6 2.6 0 1 0 5.2 0a2.6 2.6 0 1 0 -5.2 0zM228.09 1241.59a2.6 2.6 0 1 0 5.2 0a2.6 2.6 0 1 0 -5.2 0zM239.85 1196.5a2.6 2.6 0 1 0 5.2 0a2.6 2.6 0 1 0 -5.2 0zM251.6 1161.26a2.6 2.6 0 1 0 5.2 0a2.6 2.6 0 1 0 -5.2 0zM263.36 1148.6a2.6 2.6 0 1 0 5.2 0a2.6 2.6 0 1 0 -5.2 0zM275.11 1157.04a2.6 2.6 0 1 0 5.2 0a2.6 2.6 0 1 0 -5.2 0zM286.87 1176.74a2.6 2.6 0 1 0 5.2 0a2.6 2.6 0 1 0 -5.2 0zM298.62 1199.31a2.6 2.6 0 1 0 5.2 0a2.6 2.6 0 1 0 -5.2 0zM310.38 1213.38a2.6 2.6 0 1 0 5.2 0a2.6 2.6 0 1 0 -5.2 0zM322.14 1217.6a2.6 2.6 0 1 0 5.2 0a2.6 2.6 0 1 0 -5.2 0zM333.89 1214.79a2.6 2.6 0 1 0 5.2 0a2.6 2.6 0 1 0 -5.2 0zM345.65 1210.57a2.6 2.6 0 1 0 5.2 0a2.6 2.6 0 1 0 -5.2 0zM357.4 1205.46a2.6 2.6 0 1 0 5.2 0a2.6 2.6 0 1 0 -5.2 0zM369.16 1202.13a2.6 2.6 0 1 0 5.2 0a2.6 2.6 0 1 0 -5.2 0zM380.91 1199.83a2.6 2.6 0 1 0 5.2 0a2.6 2.6 0 1 0 -5.2 0zM392.67 1198.43a2.6 2.6 0 1 0 5.2 0a2.6 2.6 0 1 0 -5.2 0zM404.43 1199.31a2.6 2.6 0 1 0 5.2 0a2.6 2.6 0 1 0 -5.2 0zM416.18 1202.65a2.6 2.6 0 1 0 5.2 0a2.6 2.6 0 1 0 -5.2 0zM427.94 1209.16a2.6 2.6 0 1 0 5.2 0a2.6 2.6 0 1 0 -5.2 0zM439.69 1219.01a2.6 2.6 0 1 0 5.2 0a2.6 2.6 0 1 0 -5.2 0zM451.45 1226.93a2.6 2.6 0 1 0 5.2 0a2.6 2.6 0 1 0 -5.2 0zM463.2 1235.89a2.6 2.6 0 1 0 5.2 0a2.6 2.6 0 1 0 -5.2 0zM474.96 1247.21a2.6 2.6 0 1 0 5.2 0a2.6 2.6 0 1 0 -5.2 0zM486.72 1256.47a2.6 2.6 0 1 0 5.2 0a2.6 2.6 0 1 0 -5.2 0zM498.47 1273.94a2.6 2.6 0 1 0 5.2 0a2.6 2.6 0 1 0 -5.2 0zM510.23 1288a2.6 2.6 0 1 0 5.2 0a2.6 2.6 0 1 0 -5.2 0zM521.98 1301.25a2.6 2.6 0 1 0 5.2 0a2.6 2.6 0 1 0 -5.2 0zM533.74 1323.24a2.6 2.6 0 1 0 5.2 0a2.6 2.6 0 1 0 -5.2 0zM545.5 1336.79a2.6 2.6 0 1 0 5.2 0a2.6 2.6 0 1 0 -5.2 0zM557.25 1338.71a2.6 2.6 0 1 0 5.2 0a2.6 2.6 0 1 0 -5.2 0zM569.01 1335.9a2.6 2.6 0 1 0 5.2 0a2.6 2.6 0 1 0 -5.2 0zM580.76 1333.09a2.6 2.6 0 1 0 5.2 0a2.6 2.6 0 1 0 -5.2 0zM592.52 1323.83a2.6 2.6 0 1 0 5.2 0a2.6 2.6 0 1 0 -5.2 0zM604.27 1338.71a2.6 2.6 0 1 0 5.2 0a2.6 2.6 0 1 0 -5.2 0zM616.03 1359.89a2.6 2.6 0 1 0 5.2 0a2.6 2.6 0 1 0 -5.2 0zM627.79 1379.58a2.6 2.6 0 1 0 5.2 0a2.6 2.6 0 1 0 -5.2 0zM639.54 1394.24a2.6 2.6 0 1 0 5.2 0a2.6 2.6 0 1 0 -5.2 0zM651.3 1395.05a2.6 2.6 0 1 0 5.2 0a2.6 2.6 0 1 0 -5.2 0zM663.05 1398.75a2.6 2.6 0 1 0 5.2 0a2.6 2.6 0 1 0 -5.2 0zM674.81 1392.24a2.6 2.6 0 1 0 5.2 0a2.6 2.6 0 1 0 -5.2 0zM686.56 1377.58a2.6 2.6 0 1 0 5.2 0a2.6 2.6 0 1 0 -5.2 0zM698.32 1375.95a2.6 2.6 0 1 0 5.2 0a2.6 2.6 0 1 0 -5.2 0zM710.08 1382.39a2.6 2.6 0 1 0 5.2 0a2.6 2.6 0 1 0 -5.2 0zM721.83 1397.86a2.6 2.6 0 1 0 5.2 0a2.6 2.6 0 1 0 -5.2 0zM733.59 1405.49a2.6 2.6 0 1 0 5.2 0a2.6 2.6 0 1 0 -5.2 0zM745.34 1402.08a2.6 2.6 0 1 0 5.2 0a2.6 2.6 0 1 0 -5.2 0zM757.1 1400.68a2.6 2.6 0 1 0 5.2 0a2.6 2.6 0 1 0 -5.2 0zM768.85 1399.27a2.6 2.6 0 1 0 5.2 0a2.6 2.6 0 1 0 -5.2 0zM780.61 1412a2.6 2.6 0 1 0 5.2 0a2.6 2.6 0 1 0 -5.2 0zM792.37 1414.22a2.6 2.6 0 1 0 5.2 0a2.6 2.6 0 1 0 -5.2 0zM804.12 1423.26a2.6 2.6 0 1 0 5.2 0a2.6 2.6 0 1 0 -5.2 0zM815.88 1425.48a2.6 2.6 0 1 0 5.2 0a2.6 2.6 0 1 0 -5.2 0zM827.63 1436.51a2.6 2.6 0 1 0 5.2 0a2.6 2.6 0 1 0 -5.2 0zM839.39 1437.91a2.6 2.6 0 1 0 5.2 0a2.6 2.6 0 1 0 -5.2 0zM851.14 1437.91a2.6 2.6 0 1 0 5.2 0a2.6 2.6 0 1 0 -5.2 0zM862.9 1442.95a2.6 2.6 0 1 0 5.2 0a2.6 2.6 0 1 0 -5.2 0z" fill="#0000ff" stroke="none"/>
<polyline points="148.4,1486.63 160.16,1399.27 171.91,1352.85 183.67,1335.9 195.42,1326.87 207.18,1306.88 218.93,1272.53 230.69,1220.41 242.45,1173.4 254.2,1139.57 265.96,1125.51 277.71,1128.32 289.47,1138.76 301.22,1150.83 312.98,1159.86 324.74,1166.37 336.49,1171.11 348.25,1173.11 360,1170.59 371.76,1168.3 383.51,1164.08 395.27,1160.45 407.03,1157.86 418.78,1158.75 430.54,1161.26 442.29,1170.3 454.05,1175.92 465.8,1182.36 477.56,1195.1 489.32,1204.94 501.07,1222.41 512.83,1238.18 524.58,1251.43 536.34,1275.94 548.1,1289.41 559.85,1297.33 571.61,1292.81 583.36,1294.52 595.12,1292.22 606.87,1303.55 618.63,1323.24 630.39,1341.53 642.14,1360.4 653.9,1359.89 665.65,1363.51 677.41,1364.62 689.16,1357.07 700.92,1362.11 712.68,1367.73 724.43,1378.17 736.19,1375.95 747.94,1369.73 759.7,1374.54 771.45,1378.17 783.21,1391.72 794.97,1395.05 806.72,1402.08 818.48,1405.49 830.23,1417.04 841.99,1418.44 853.74,1417.85 865.5,1416.22" stroke="#006400" stroke-dasharray="5.01 48.45"/>
<path d="M145.8 1486.63a2.6 2.6 0 1 0 5.2 0a2.6 2.6 0 1 0 -5.2 0zM157.56 1399.27a2.6 2.6 0 1 0 5.2 0a2.6 2.6 0 1 0 -5.2 0zM169.31 1352.85a2.6 2.6 0 1 0 5.2 0a2.6 2.6 0 1 0 -5.2 0zM181.07 1335.9a2.6 2.6 0 1 0 5.2 0a2.6 2.6 0 1 0 -5.2 0zM192.82 1326.87a2.6 2.6 0 1 0 5.2 0a2.6 2.6 0 1 0 -5.2 0zM204.58 1306.88a2.6 2.6 0 1 0 5.2 0a2.6 2.6 0 1 0 -5.2 0zM216.33 1272.53a2.6 2.6 0 1 0 5.2 0a2.6 2.6 0 1 0 -5.2 0zM228.09 1220.41a2.6 2.6 0 1 0 5.2 0a2.6 2.6 0 1 0 -5.2 0zM239.85 1173.4a2.6 2.6 0 1 0 5.2 0a2.6 2.6 0 1 0 -5.2 0zM251.6 1139.57a2.6 2.6 0 1 0 5.2 0a2.6 2.6 0 1 0 -5.2 0zM263.36 1125.51a2.6 2.6 0 1 0 5.2 0a2.6 2.6 0 1 0 -5.2 0zM275.11 1128.32a2.6 2.6 0 1 0 5.2 0a2.6 2.6 0 1 0 -5.2 0zM286.87 1138.76a2.6 2.6 0 1 0 5.2 0a2.6 2.6 0 1 0 -5.2 0zM298.62 1150.83a2.6 2.6 0 1 0 5.2 0a2.6 2.6 0 1 0 -5.2 0zM310.38 1159.86a2.6 2.6 0 1 0 5.2 0a2.6 2.6 0 1 0 -5.2 0zM322.14 1166.37a2.6 2.6 0 1 0 5.2 0a2.6 2.6 0 1 0 -5.2 0zM333.89 1171.11a2.6 2.6 0 1 0 5.2 0a2.6 2.6 0 1 0 -5.2 0zM345.65 1173.11a2.6 2.6 0 1 0 5.2 0a2.6 2.6 0 1 0 -5.2 0zM357.4 1170.59a2.6 2.6 0 1 0 5.2 0a2.6 2.6 0 1 0 -5.2 0zM369.16 1168.3a2.6 2.6 0 1 0 5.2 0a2.6 2.6 0 1 0 -5.2 0zM380.91 1164.08a2.6 2.6 0 1 0 5.2 0a2.6 2.6 0 1 0 -5.2 0zM392.67 1160.45a2.6 2.6 0 1 0 5.2 0a2.6 2.6 0 1 0 -5.2 0zM404.43 1157.86a2.6 2.6 0 1 0 5.2 0a2.6 2.6 0 1 0 -5.2 0zM416.18 1158.75a2.6 2.6 0 1 0 5.2 0a2.6 2.6 0 1 0 -5.2 0zM427.94 1161.26a2.6 2.6 0 1 0 5.2 0a2.6 2.6 0 1 0 -5.2 0zM439.69 1170.3a2.6 2.6 0 1 0 5.2 0a2.6 2.6 0 1 0 -5.2 0zM451.45 1175.92a2.6 2.6 0 1 0 5.2 0a2.6 2.6 0 1 0 -5.2 0zM463.2 1182.36a2.6 2.6 0 1 0 5.2 0a2.6 2.6 0 1 0 -5.2 0zM474.96 1195.1a2.6 2.6 0 1 0 5.2 0a2.6 2.6 0 1 0 -5.2 0zM486.72 1204.94a2.6 2.6 0 1 0 5.2 0a2.6 2.6 0 1 0 -5.2 0zM498.47 1222.41a2.6 2.6 0 1 0 5.2 0a2.6 2.6 0 1 0 -5.2 0zM510.23 1238.18a2.6 2.6 0 1 0 5.2 0a2.6 2.6 0 1 0 -5.2 0zM521.98 1251.43a2.6 2.6 0 1 0 5.2 0a2.6 2.6 0 1 0 -5.2 0zM533.74 1275.94a2.6 2.6 0 1 0 5.2 0a2.6 2.6 0 1 0 -5.2 0zM545.5 1289.41a2.6 2.6 0 1 0 5.2 0a2.6 2.6 0 1 0 -5.2 0zM557.25 1297.33a2.6 2.6 0 1 0 5.2 0a2.6 2.6 0 1 0 -5.2 0zM569.01 1292.81a2.6 2.6 0 1 0 5.2 0a2.6 2.6 0 1 0 -5.2 0zM580.76 1294.52a2.6 2.6 0 1 0 5.2 0a2.6 2.6 0 1 0 -5.2 0zM592.52 1292.22a2.6 2.6 0 1 0 5.2 0a2.6 2.6 0 1 0 -5.2 0zM604.27 1303.55a2.6 2.6 0 1 0 5.2 0a2.6 2.6 0 1 0 -5.2 0zM616.03 1323.24a2.6 2.6 0 1 0 5.2 0a2.6 2.6 0 1 0 -5.2 0zM627.79 1341.53a2.6 2.6 0 1 0 5.2 0a2.6 2.6 0 1 0 -5.2 0zM639.54 1360.4a2.6 2.6 0 1 0 5.2 0a2.6 2.6 0 1 0 -5.2 0zM651.3 1359.89a2.6 2.6 0 1 0 5.2 0a2.6 2.6 0 1 0 -5.2 0zM663.05 1363.51a2.6 2.6 0 1 0 5.2 0a2.6 2.6 0 1 0 -5.2 0zM674.81 1364.62a2.6 2.6 0 1 0 5.2 0a2.6 2.6 0 1 0 -5.2 0zM686.56 1357.07a2.6 2.6 0 1 0 5.2 0a2.6 2.6 0 1 0 -5.2 0zM698.32 1362.11a2.6 2.6 0 1 0 5.2 0a2.6 2.6 0 1 0 -5.2 0zM710.08 1367.73a2.6 2.6 0 1 0 5.2 0a2.6 2.6 0 1 0 -5.2 0zM721.83 1378.17a2.6 2.6 0 1 0 5.2 0a2.6 2.6 0 1 0 -5.2 0zM733.59 1375.95a2.6 2.6 0 1 0 5.2 0a2.6 2.6 0 1 0 -5.2 0zM745.34 1369.73a2.6 2.6 0 1 0 5.2 0a2.6 2.6 0 1 0 -5.2 0zM757.1 1374.54a2.6 2.6 0 1 0 5.2 0a2.6 2.6 0 1 0 -5.2 0zM768.85 1378.17a2.6 2.6 0 1 0 5.2 0a2.6 2.6 0 1 0 -5.2 0zM780.61 1391.72a2.6 2.6 0 1 0 5.2 0a2.6 2.6 0 1 0 -5.2 0zM792.37 1395.05a2.6 2.6 0 1 0 5.2 0a2.6 2.6 0 1 0 -5.2 0zM804.12 1402.08a2.6 2.6 0 1 0 5.2 0a2.6 2.6 0 1 0 -5.2 0zM815.88 1405.49a2.6 2.6 0 1 0 5.2 0a2.6 2.6 0 1 0 -5.2 0zM827.63 1417.04a2.6 2.6 0 1 0 5.2 0a2.6 2.6 0 1 0 -5.2 0zM839.39 1418.44a2.6 2.6 0 1 0 5.2 0a2.6 2.6 0 1 0 -5.2 0zM851.14 1417.85a2.6 2.6 0 1 0 5.2 0a2.6 2.6 0 1 0 -5.2 0zM862.9 1416.22a2.6 2.6 0 1 0 5.2 0a2.6 2.6 0 1 0 -5.2 0z" fill="#006400" stroke="none"/>
<polyline points="148.4,1486.63 160.16,1385.2 171.91,1330.27 183.67,1312.51 195.42,1304.96 207.18,1286.6 218.93,1250.03 230.69,1202.13 242.45,1154.23 254.2,1118.99 265.96,1103.52 277.71,1102.93 289.47,1107.74 301.22,1112.55 312.98,1110.03 324.74,1107.15 336.49,1109.74 348.25,1119.58 360,1128.32 371.76,1133.65 383.51,1132.24 395.27,1128.32 407.03,1126.03 418.78,1126.62 430.54,1128.32 442.29,1132.54 454.05,1134.54 465.8,1137.87 477.56,1146.31 489.32,1154.82 501.07,1171.11 512.83,1185.77 524.58,1199.31 536.34,1221.3 548.1,1233.96 559.85,1240.11 571.61,1234.48 583.36,1241.59 595.12,1240.7 606.87,1257.06 618.63,1275.34 630.39,1292.81 642.14,1314.8 653.9,1317.61 665.65,1327.46 677.41,1331.68 689.16,1320.43 700.92,1317.02 712.68,1314.8 724.43,1327.46 736.19,1330.87 747.94,1333.98 759.7,1344.34 771.45,1346.34 783.21,1357.59 794.97,1363.51 806.72,1373.36 818.48,1378.17 830.23,1395.05 841.99,1399.27 853.74,1395.05 865.5,1389.42" stroke="#00ffff" stroke-dasharray="5.01 24.15"/>
<path d="M145.8 1486.63a2.6 2.6 0 1 0 5.2 0a2.6 2.6 0 1 0 -5.2 0zM157.56 1385.2a2.6 2.6 0 1 0 5.2 0a2.6 2.6 0 1 0 -5.2 0zM169.31 1330.27a2.6 2.6 0 1 0 5.2 0a2.6 2.6 0 1 0 -5.2 0zM181.07 1312.51a2.6 2.6 0 1 0 5.2 0a2.6 2.6 0 1 0 -5.2 0zM192.82 1304.96a2.6 2.6 0 1 0 5.2 0a2.6 2.6 0 1 0 -5.2 0zM204.58 1286.6a2.6 2.6 0 1 0 5.2 0a2.6 2.6 0 1 0 -5.2 0zM216.33 1250.03a2.6 2.6 0 1 0 5.2 0a2.6 2.6 0 1 0 -5.2 0zM228.09 1202.13a2.6 2.6 0 1 0 5.2 0a2.6 2.6 0 1 0 -5.2 0zM239.85 1154.23a2.6 2.6 0 1 0 5.2 0a2.6 2.6 0 1 0 -5.2 0zM251.6 1118.99a2.6 2.6 0 1 0 5.2 0a2.6 2.6 0 1 0 -5.2 0zM263.36 1103.52a2.6 2.6 0 1 0 5.2 0a2.6 2.6 0 1 0 -5.2 0zM275.11 1102.93a2.6 2.6 0 1 0 5.2 0a2.6 2.6 0 1 0 -5.2 0zM286.87 1107.74a2.6 2.6 0 1 0 5.2 0a2.6 2.6 0 1 0 -5.2 0zM298.62 1112.55a2.6 2.6 0 1 0 5.2 0a2.6 2.6 0 1 0 -5.2 0zM310.38 1110.03a2.6 2.6 0 1 0 5.2 0a2.6 2.6 0 1 0 -5.2 0zM322.14 1107.15a2.6 2.6 0 1 0 5.2 0a2.6 2.6 0 1 0 -5.2 0zM333.89 1109.74a2.6 2.6 0 1 0 5.2 0a2.6 2.6 0 1 0 -5.2 0zM345.65 1119.58a2.6 2.6 0 1 0 5.2 0a2.6 2.6 0 1 0 -5.2 0zM357.4 1128.32a2.6 2.6 0 1 0 5.2 0a2.6 2.6 0 1 0 -5.2 0zM369.16 1133.65a2.6 2.6 0 1 0 5.2 0a2.6 2.6 0 1 0 -5.2 0zM380.91 1132.24a2.6 2.6 0 1 0 5.2 0a2.6 2.6 0 1 0 -5.2 0zM392.67 1128.32a2.6 2.6 0 1 0 5.2 0a2.6 2.6 0 1 0 -5.2 0zM404.43 1126.03a2.6 2.6 0 1 0 5.2 0a2.6 2.6 0 1 0 -5.2 0zM416.18 1126.62a2.6 2.6 0 1 0 5.2 0a2.6 2.6 0 1 0 -5.2 0zM427.94 1128.32a2.6 2.6 0 1 0 5.2 0a2.6 2.6 0 1 0 -5.2 0zM439.69 1132.54a2.6 2.6 0 1 0 5.2 0a2.6 2.6 0 1 0 -5.2 0zM451.45 1134.54a2.6 2.6 0 1 0 5.2 0a2.6 2.6 0 1 0 -5.2 0zM463.2 1137.87a2.6 2.6 0 1 0 5.2 0a2.6 2.6 0 1 0 -5.2 0zM474.96 1146.31a2.6 2.6 0 1 0 5.2 0a2.6 2.6 0 1 0 -5.2 0zM486.72 1154.82a2.6 2.6 0 1 0 5.2 0a2.6 2.6 0 1 0 -5.2 0zM498.47 1171.11a2.6 2.6 0 1 0 5.2 0a2.6 2.6 0 1 0 -5.2 0zM510.23 1185.77a2.6 2.6 0 1 0 5.2 0a2.6 2.6 0 1 0 -5.2 0zM521.98 1199.31a2.6 2.6 0 1 0 5.2 0a2.6 2.6 0 1 0 -5.2 0zM533.74 1221.3a2.6 2.6 0 1 0 5.2 0a2.6 2.6 0 1 0 -5.2 0zM545.5 1233.96a2.6 2.6 0 1 0 5.2 0a2.6 2.6 0 1 0 -5.2 0zM557.25 1240.11a2.6 2.6 0 1 0 5.2 0a2.6 2.6 0 1 0 -5.2 0zM569.01 1234.48a2.6 2.6 0 1 0 5.2 0a2.6 2.6 0 1 0 -5.2 0zM580.76 1241.59a2.6 2.6 0 1 0 5.2 0a2.6 2.6 0 1 0 -5.2 0zM592.52 1240.7a2.6 2.6 0 1 0 5.2 0a2.6 2.6 0 1 0 -5.2 0zM604.27 1257.06a2.6 2.6 0 1 0 5.2 0a2.6 2.6 0 1 0 -5.2 0zM616.03 1275.34a2.6 2.6 0 1 0 5.2 0a2.6 2.6 0 1 0 -5.2 0zM627.79 1292.81a2.6 2.6 0 1 0 5.2 0a2.6 2.6 0 1 0 -5.2 0zM639.54 1314.8a2.6 2.6 0 1 0 5.2 0a2.6 2.6 0 1 0 -5.2 0zM651.3 1317.61a2.6 2.6 0 1 0 5.2 0a2.6 2.6 0 1 0 -5.2 0zM663.05 1327.46a2.6 2.6 0 1 0 5.2 0a2.6 2.6 0 1 0 -5.2 0zM674.81 1331.68a2.6 2.6 0 1 0 5.2 0a2.6 2.6 0 1 0 -5.2 0zM686.56 1320.43a2.6 2.6 0 1 0 5.2 0a2.6 2.6 0 1 0 -5.2 0zM698.32 1317.02a2.6 2.6 0 1 0 5.2 0a2.6 2.6 0 1 0 -5.2 0zM710.08 1314.8a2.6 2.6 0 1 0 5.2 0a2.6 2.6 0 1 0 -5.2 0zM721.83 1327.46a2.6 2.6 0 1 0 5.2 0a2.6 2.6 0 1 0 -5.2 0zM733.59 1330.87a2.6 2.6 0 1 0 5.2 0a2.6 2.6 0 1 0 -5.2 0zM745.34 1333.98a2.6 2.6 0 1 0 5.2 0a2.6 2.6 0 1 0 -5.2 0zM757.1 1344.34a2.6 2.6 0 1 0 5.2 0a2.6 2.6 0 1 0 -5.2 0zM768.85 1346.34a2.6 2.6 0 1 0 5.2 0a2.6 2.6 0 1 0 -5.2 0zM780.61 1357.59a2.6 2.6 0 1 0 5.2 0a2.6 2.6 0 1 0 -5.2 0zM792.37 1363.51a2.6 2.6 0 1 0 5.2 0a2.6 2.6 0 1 0 -5.2 0zM804.12 1373.36a2.6 2.6 0 1 0 5.2 0a2.6 2.6 0 1 0 -5.2 0zM815.88 1378.17a2.6 2.6 0 1 0 5.2 0a2.6 2.6 0 1 0 -5.2 0zM827.63 1395.05a2.6 2.6 0 1 0 5.2 0a2.6 2.6 0 1 0 -5.2 0zM839.39 1399.27a2.6 2.6 0 1 0 5.2 0a2.6 2.6 0 1 0 -5.2 0zM851.14 1395.05a2.6 2.6 0 1 0 5.2 0a2.6 2.6 0 1 0 -5.2 0zM862.9 1389.42a2.6 2.6 0 1 0 5.2 0a2.6 2.6 0 1 0 -5.2 0z" fill="#00ffff" stroke="none"/>
<polyline points="148.4,1486.63 160.16,1368.33 171.91,1311.99 183.67,1294.52 195.42,1290 207.18,1271.12 218.93,1230.26 230.69,1179.55 242.45,1128.84 254.2,1092.27 265.96,1078.2 277.71,1077.31 289.47,1081.01 301.22,1083.83 312.98,1078.2 324.74,1071.09 336.49,1069.17 348.25,1082.42 360,1093.67 371.76,1100.71 383.51,1100.71 395.27,1097.3 407.03,1095.08 418.78,1096.49 430.54,1097.89 442.29,1102.11 454.05,1101.52 465.8,1102.11 477.56,1107.74 489.32,1116.18 501.07,1133.13 512.83,1145.79 524.58,1154.23 536.34,1173.92 548.1,1183.77 559.85,1190.88 571.61,1189.99 583.36,1197.02 595.12,1197.91 606.87,1216.19 618.63,1235.89 630.39,1255.65 642.14,1271.94 653.9,1276.23 665.65,1281.56 677.41,1284.38 689.16,1275.34 700.92,1274.53 712.68,1276.23 724.43,1290.82 736.19,1297.92 747.94,1300.74 759.7,1316.21 771.45,1320.43 783.21,1328.87 794.97,1331.16 806.72,1340.71 818.48,1342.93 830.23,1363.51 841.99,1368.33 853.74,1369.14 865.5,1372.55" stroke="#ff00ff" stroke-dasharray="5.01 4.71"/>
<path d="M145.8 1486.63a2.6 2.6 0 1 0 5.2 0a2.6 2.6 0 1 0 -5.2 0zM157.56 1368.33a2.6 2.6 0 1 0 5.2 0a2.6 2.6 0 1 0 -5.2 0zM169.31 1311.99a2.6 2.6 0 1 0 5.2 0a2.6 2.6 0 1 0 -5.2 0zM181.07 1294.52a2.6 2.6 0 1 0 5.2 0a2.6 2.6 0 1 0 -5.2 0zM192.82 1290a2.6 2.6 0 1 0 5.2 0a2.6 2.6 0 1 0 -5.2 0zM204.58 1271.12a2.6 2.6 0 1 0 5.2 0a2.6 2.6 0 1 0 -5.2 0zM216.33 1230.26a2.6 2.6 0 1 0 5.2 0a2.6 2.6 0 1 0 -5.2 0zM228.09 1179.55a2.6 2.6 0 1 0 5.2 0a2.6 2.6 0 1 0 -5.2 0zM239.85 1128.84a2.6 2.6 0 1 0 5.2 0a2.6 2.6 0 1 0 -5.2 0zM251.6 1092.27a2.6 2.6 0 1 0 5.2 0a2.6 2.6 0 1 0 -5.2 0zM263.36 1078.2a2.6 2.6 0 1 0 5.2 0a2.6 2.6 0 1 0 -5.2 0zM275.11 1077.31a2.6 2.6 0 1 0 5.2 0a2.6 2.6 0 1 0 -5.2 0zM286.87 1081.01a2.6 2.6 0 1 0 5.2 0a2.6 2.6 0 1 0 -5.2 0zM298.62 1083.83a2.6 2.6 0 1 0 5.2 0a2.6 2.6 0 1 0 -5.2 0zM310.38 1078.2a2.6 2.6 0 1 0 5.2 0a2.6 2.6 0 1 0 -5.2 0zM322.14 1071.09a2.6 2.6 0 1 0 5.2 0a2.6 2.6 0 1 0 -5.2 0zM333.89 1069.17a2.6 2.6 0 1 0 5.2 0a2.6 2.6 0 1 0 -5.2 0zM345.65 1082.42a2.6 2.6 0 1 0 5.2 0a2.6 2.6 0 1 0 -5.2 0zM357.4 1093.67a2.6 2.6 0 1 0 5.2 0a2.6 2.6 0 1 0 -5.2 0zM369.16 1100.71a2.6 2.6 0 1 0 5.2 0a2.6 2.6 0 1 0 -5.2 0zM380.91 1100.71a2.6 2.6 0 1 0 5.2 0a2.6 2.6 0 1 0 -5.2 0zM392.67 1097.3a2.6 2.6 0 1 0 5.2 0a2.6 2.6 0 1 0 -5.2 0zM404.43 1095.08a2.6 2.6 0 1 0 5.2 0a2.6 2.6 0 1 0 -5.2 0zM416.18 1096.49a2.6 2.6 0 1 0 5.2 0a2.6 2.6 0 1 0 -5.2 0zM427.94 1097.89a2.6 2.6 0 1 0 5.2 0a2.6 2.6 0 1 0 -5.2 0zM439.69 1102.11a2.6 2.6 0 1 0 5.2 0a2.6 2.6 0 1 0 -5.2 0zM451.45 1101.52a2.6 2.6 0 1 0 5.2 0a2.6 2.6 0 1 0 -5.2 0zM463.2 1102.11a2.6 2.6 0 1 0 5.2 0a2.6 2.6 0 1 0 -5.2 0zM474.96 1107.74a2.6 2.6 0 1 0 5.2 0a2.6 2.6 0 1 0 -5.2 0zM486.72 1116.18a2.6 2.6 0 1 0 5.2 0a2.6 2.6 0 1 0 -5.2 0zM498.47 1133.13a2.6 2.6 0 1 0 5.2 0a2.6 2.6 0 1 0 -5.2 0zM510.23 1145.79a2.6 2.6 0 1 0 5.2 0a2.6 2.6 0 1 0 -5.2 0zM521.98 1154.23a2.6 2.6 0 1 0 5.2 0a2.6 2.6 0 1 0 -5.2 0zM533.74 1173.92a2.6 2.6 0 1 0 5.2 0a2.6 2.6 0 1 0 -5.2 0zM545.5 1183.77a2.6 2.6 0 1 0 5.2 0a2.6 2.6 0 1 0 -5.2 0zM557.25 1190.88a2.6 2.6 0 1 0 5.2 0a2.6 2.6 0 1 0 -5.2 0zM569.01 1189.99a2.6 2.6 0 1 0 5.2 0a2.6 2.6 0 1 0 -5.2 0zM580.76 1197.02a2.6 2.6 0 1 0 5.2 0a2.6 2.6 0 1 0 -5.2 0zM592.52 1197.91a2.6 2.6 0 1 0 5.2 0a2.6 2.6 0 1 0 -5.2 0zM604.27 1216.19a2.6 2.6 0 1 0 5.2 0a2.6 2.6 0 1 0 -5.2 0zM616.03 1235.89a2.6 2.6 0 1 0 5.2 0a2.6 2.6 0 1 0 -5.2 0zM627.79 1255.65a2.6 2.6 0 1 0 5.2 0a2.6 2.6 0 1 0 -5.2 0zM639.54 1271.94a2.6 2.6 0 1 0 5.2 0a2.6 2.6 0 1 0 -5.2 0zM651.3 1276.23a2.6 2.6 0 1 0 5.2 0a2.6 2.6 0 1 0 -5.2 0zM663.05 1281.56a2.6 2.6 0 1 0 5.2 0a2.6 2.6 0 1 0 -5.2 0zM674.81 1284.38a2.6 2.6 0 1 0 5.2 0a2.6 2.6 0 1 0 -5.2 0zM686.56 1275.34a2.6 2.6 0 1 0 5.2 0a2.6 2.6 0 1 0 -5.2 0zM698.32 1274.53a2.6 2.6 0 1 0 5.2 0a2.6 2.6 0 1 0 -5.2 0zM710.08 1276.23a2.6 2.6 0 1 0 5.2 0a2.6 2.6 0 1 0 -5.2 0zM721.83 1290.82a2.6 2.6 0 1 0 5.2 0a2.6 2.6 0 1 0 -5.2 0zM733.59 1297.92a2.6 2.6 0 1 0 5.2 0a2.6 2.6 0 1 0 -5.2 0zM745.34 1300.74a2.6 2.6 0 1 0 5.2 0a2.6 2.6 0 1 0 -5.2 0zM757.1 1316.21a2.6 2.6 0 1 0 5.2 0a2.6 2.6 0 1 0 -5.2 0zM768.85 1320.43a2.6 2.6 0 1 0 5.2 0a2.6 2.6 0 1 0 -5.2 0zM780.61 1328.87a2.6 2.6 0 1 0 5.2 0a2.6 2.6 0 1 0 -5.2 0zM792.37 1331.16a2.6 2.6 0 1 0 5.2 0a2.6 2.6 0 1 0 -5.2 0zM804.12 1340.71a2.6 2.6 0 1 0 5.2 0a2.6 2.6 0 1 0 -5.2 0zM815.88 1342.93a2.6 2.6 0 1 0 5.2 0a2.6 2.6 0 1 0 -5.2 0zM827.63 1363.51a2.6 2.6 0 1 0 5.2 0a2.6 2.6 0 1 0 -5.2 0zM839.39 1368.33a2.6 2.6 0 1 0 5.2 0a2.6 2.6 0 1 0 -5.2 0zM851.14 1369.14a2.6 2.6 0 1 0 5.2 0a2.6 2.6 0 1 0 -5.2 0zM862.9 1372.55a2.6 2.6 0 1 0 5.2 0a2.6 2.6 0 1 0 -5.2 0z" fill="#ff00ff" stroke="none"/>
</g>
<path d="M148.4 1498.1v16.9M265.96 1498.1v16.9M383.51 1498.1v16.9M501.07 1498.1v16.9M618.63 1498.1v16.9M736.19 1498.1v16.9M853.74 1498.1v16.9M148.4 1498.1h-16.9M148.4 1424.07h-16.9M148.4 1350.04h-16.9M148.4 1276.01h-16.9M148.4 1201.98h-16.9M148.4 1127.95h-16.9M148.4 1053.92h-16.9M148.4 979.89h-16.9M148.4 905.86h-16.9M148.4 831.83h-16.9" stroke="#000" stroke-width="3.95" fill="none"/>
<path d="M160.16 1498.1v10.1M171.91 1498.1v10.1M183.67 1498.1v10.1M195.42 1498.1v10.1M207.18 1498.1v10.1M218.93 1498.1v10.1M230.69 1498.1v10.1M242.45 1498.1v10.1M254.2 1498.1v10.1M277.71 1498.1v10.1M289.47 1498.1v10.1M301.22 1498.1v10.1M312.98 1498.1v10.1M324.74 1498.1v10.1M336.49 1498.1v10.1M348.25 1498.1v10.1M360 1498.1v10.1M371.76 1498.1v10.1M395.27 1498.1v10.1M407.03 1498.1v10.1M418.78 1498.1v10.1M430.54 1498.1v10.1M442.29 1498.1v10.1M454.05 1498.1v10.1M465.8 1498.1v10.1M477.56 1498.1v10.1M489.32 1498.1v10.1M512.83 1498.1v10.1M524.58 1498.1v10.1M536.34 1498.1v10.1M548.1 1498.1v10.1M559.85 1498.1v10.1M571.61 1498.1v10.1M583.36 1498.1v10.1M595.12 1498.1v10.1M606.87 1498.1v10.1M630.39 1498.1v10.1M642.14 1498.1v10.1M653.9 1498.1v10.1M665.65 1498.1v10.1M677.41 1498.1v10.1M689.16 1498.1v10.1M700.92 1498.1v10.1M712.68 1498.1v10.1M724.43 1498.1v10.1M747.94 1498.1v10.1M759.7 1498.1v10.1M771.45 1498.1v10.1M783.21 1498.1v10.1M794.97 1498.1v10.1M806.72 1498.1v10.1M818.48 1498.1v10.1M830.23 1498.1v10.1M841.99 1498.1v10.1M865.5 1498.1v10.1M148.4 1483.29h-10.1M148.4 1468.49h-10.1M148.4 1453.68h-10.1M148.4 1438.88h-10.1M148.4 1409.26h-10.1M148.4 1394.46h-10.1M148.4 1379.65h-10.1M148.4 1364.85h-10.1M148.4 1335.23h-10.1M148.4 1320.43h-10.1M148.4 1305.62h-10.1M148.4 1290.82h-10.1M148.4 1261.2h-10.1M148.4 1246.4h-10.1M148.4 1231.59h-10.1M148.4 1216.79h-10.1M148.4 1187.17h-10.1M148.4 1172.37h-10.1M148.4 1157.56h-10.1M148.4 1142.76h-10.1M148.4 1113.14h-10.1M148.4 1098.34h-10.1M148.4 1083.53h-10.1M148.4 1068.73h-10.1M148.4 1039.11h-10.1M148.4 1024.31h-10.1M148.4 1009.5h-10.1M148.4 994.7h-10.1M148.4 965.08h-10.1M148.4 950.28h-10.1M148.4 935.47h-10.1M148.4 920.67h-10.1M148.4 891.05h-10.1M148.4 876.25h-10.1M148.4 861.44h-10.1M148.4 846.64h-10.1" stroke="#000" stroke-width="2.95" fill="none"/>
<rect x="148.4" y="824.5" width="717.1" height="673.6" fill="none" stroke="#000" stroke-width="4.3"/>
<g font-size="38.9" text-anchor="middle">
<text x="148.4" y="1559.4">0</text>
<text x="265.96" y="1559.4">10</text>
<text x="383.51" y="1559.4">20</text>
<text x="501.07" y="1559.4">30</text>
<text x="618.63" y="1559.4">40</text>
<text x="736.19" y="1559.4">50</text>
<text x="853.74" y="1559.4">60</text>
<text x="506.95" y="1613.8">Time(min)</text>
</g>
<g font-size="38.9" text-anchor="end">
<text x="114.8" y="1512.4">0.0</text>
<text x="114.8" y="1438.37">0.1</text>
<text x="114.8" y="1364.34">0.2</text>
<text x="114.8" y="1290.31">0.3</text>
<text x="114.8" y="1216.28">0.4</text>
<text x="114.8" y="1142.25">0.5</text>
<text x="114.8" y="1068.22">0.6</text>
<text x="114.8" y="994.19">0.7</text>
<text x="114.8" y="920.16">0.8</text>
<text x="114.8" y="846.13">0.9</text>
</g>
<text font-size="38.8" text-anchor="middle" transform="translate(39.3 1161.6) rotate(-90)">Settling Velocity(mm/s)</text>
<text font-size="48.6" x="219.4" y="892">(S=0.5 C=8)</text>
<rect x="759.8" y="839" width="84.6" height="82.3" fill="#fff" stroke="#000" stroke-width="4.4"/>
<text font-size="48.6" text-anchor="middle" x="802.1" y="892">c</text>
</g>
<g id="panel-d">
<clipPath id="clip-d"><rect x="922.7" y="824.5" width="717.6" height="673.6"/></clipPath>
<g clip-path="url(#clip-d)" fill="none" stroke-width="5.05" stroke-linejoin="round">
<polyline points="922.7,1426.36 950.3,1365.14 977.9,1307.32 1005.5,1268.61 1033.1,1241.14 1060.7,1223 1088.3,1221.3 1115.9,1232.26 1143.5,1257.72 1171.1,1292.44 1198.7,1326.5 1226.3,1355.22 1253.9,1379.06 1281.5,1393.27 1309.1,1409.78 1336.7,1420.74 1364.3,1427.33 1391.9,1435.25 1419.5,1437.91 1447.1,1440.21 1474.7,1444.5 1502.3,1450.13 1529.9,1453.46 1557.5,1458.42 1585.1,1461.75 1612.7,1467.67 1640.3,1474.93" stroke="#000000" stroke-linecap="square"/>
<polyline points="922.7,1485.89 950.3,1325.46 977.9,1239.51 1005.5,1184.95 1033.1,1140.31 1060.7,1110.55 1088.3,1090.71 1115.9,1080.79 1143.5,1082.42 1171.1,1092.34 1198.7,1113.81 1226.3,1148.6 1253.9,1188.28 1281.5,1229.59 1309.1,1270.9 1336.7,1299.03 1364.3,1317.24 1391.9,1332.79 1419.5,1341.38 1447.1,1349.6 1474.7,1360.18 1502.3,1372.77 1529.9,1375.06 1557.5,1386.02 1585.1,1394.9 1612.7,1413.11 1640.3,1432.29" stroke="#ff0000" stroke-dasharray="5.01 7.87"/>
<path d="M920.1 1485.89a2.6 2.6 0 1 0 5.2 0a2.6 2.6 0 1 0 -5.2 0zM947.7 1325.46a2.6 2.6 0 1 0 5.2 0a2.6 2.6 0 1 0 -5.2 0zM975.3 1239.51a2.6 2.6 0 1 0 5.2 0a2.6 2.6 0 1 0 -5.2 0zM1002.9 1184.95a2.6 2.6 0 1 0 5.2 0a2.6 2.6 0 1 0 -5.2 0zM1030.5 1140.31a2.6 2.6 0 1 0 5.2 0a2.6 2.6 0 1 0 -5.2 0zM1058.1 1110.55a2.6 2.6 0 1 0 5.2 0a2.6 2.6 0 1 0 -5.2 0zM1085.7 1090.71a2.6 2.6 0 1 0 5.2 0a2.6 2.6 0 1 0 -5.2 0zM1113.3 1080.79a2.6 2.6 0 1 0 5.2 0a2.6 2.6 0 1 0 -5.2 0zM1140.9 1082.42a2.6 2.6 0 1 0 5.2 0a2.6 2.6 0 1 0 -5.2 0zM1168.5 1092.34a2.6 2.6 0 1 0 5.2 0a2.6 2.6 0 1 0 -5.2 0zM1196.1 1113.81a2.6 2.6 0 1 0 5.2 0a2.6 2.6 0 1 0 -5.2 0zM1223.7 1148.6a2.6 2.6 0 1 0 5.2 0a2.6 2.6 0 1 0 -5.2 0zM1251.3 1188.28a2.6 2.6 0 1 0 5.2 0a2.6 2.6 0 1 0 -5.2 0zM1278.9 1229.59a2.6 2.6 0 1 0 5.2 0a2.6 2.6 0 1 0 -5.2 0zM1306.5 1270.9a2.6 2.6 0 1 0 5.2 0a2.6 2.6 0 1 0 -5.2 0zM1334.1 1299.03a2.6 2.6 0 1 0 5.2 0a2.6 2.6 0 1 0 -5.2 0zM1361.7 1317.24a2.6 2.6 0 1 0 5.2 0a2.6 2.6 0 1 0 -5.2 0zM1389.3 1332.79a2.6 2.6 0 1 0 5.2 0a2.6 2.6 0 1 0 -5.2 0zM1416.9 1341.38a2.6 2.6 0 1 0 5.2 0a2.6 2.6 0 1 0 -5.2 0zM1444.5 1349.6a2.6 2.6 0 1 0 5.2 0a2.6 2.6 0 1 0 -5.2 0zM1472.1 1360.18a2.6 2.6 0 1 0 5.2 0a2.6 2.6 0 1 0 -5.2 0zM1499.7 1372.77a2.6 2.6 0 1 0 5.2 0a2.6 2.6 0 1 0 -5.2 0zM1527.3 1375.06a2.6 2.6 0 1 0 5.2 0a2.6 2.6 0 1 0 -5.2 0zM1554.9 1386.02a2.6 2.6 0 1 0 5.2 0a2.6 2.6 0 1 0 -5.2 0zM1582.5 1394.9a2.6 2.6 0 1 0 5.2 0a2.6 2.6 0 1 0 -5.2 0zM1610.1 1413.11a2.6 2.6 0 1 0 5.2 0a2.6 2.6 0 1 0 -5.2 0zM1637.7 1432.29a2.6 2.6 0 1 0 5.2 0a2.6 2.6 0 1 0 -5.2 0z" fill="#ff0000" stroke="none"/>
<polyline points="922.7,1485.89 950.3,1287.48 977.9,1194.87 1005.5,1135.35 1033.1,1095.67 1060.7,1065.76 1088.3,1049.18 1115.9,1040.22 1143.5,1039.85 1171.1,1043.85 1198.7,1051.77 1226.3,1063.77 1253.9,1081.76 1281.5,1108.85 1309.1,1147.94 1336.7,1186.58 1364.3,1226.26 1391.9,1260.32 1419.5,1283.49 1447.1,1299.03 1474.7,1310.58 1502.3,1329.76 1529.9,1336.42 1557.5,1355.22 1585.1,1370.77 1612.7,1396.6 1640.3,1426.36" stroke="#00ff00" stroke-dasharray="18.13 7.63"/>
<path d="M920.1 1485.89a2.6 2.6 0 1 0 5.2 0a2.6 2.6 0 1 0 -5.2 0zM947.7 1287.48a2.6 2.6 0 1 0 5.2 0a2.6 2.6 0 1 0 -5.2 0zM975.3 1194.87a2.6 2.6 0 1 0 5.2 0a2.6 2.6 0 1 0 -5.2 0zM1002.9 1135.35a2.6 2.6 0 1 0 5.2 0a2.6 2.6 0 1 0 -5.2 0zM1030.5 1095.67a2.6 2.6 0 1 0 5.2 0a2.6 2.6 0 1 0 -5.2 0zM1058.1 1065.76a2.6 2.6 0 1 0 5.2 0a2.6 2.6 0 1 0 -5.2 0zM1085.7 1049.18a2.6 2.6 0 1 0 5.2 0a2.6 2.6 0 1 0 -5.2 0zM1113.3 1040.22a2.6 2.6 0 1 0 5.2 0a2.6 2.6 0 1 0 -5.2 0zM1140.9 1039.85a2.6 2.6 0 1 0 5.2 0a2.6 2.6 0 1 0 -5.2 0zM1168.5 1043.85a2.6 2.6 0 1 0 5.2 0a2.6 2.6 0 1 0 -5.2 0zM1196.1 1051.77a2.6 2.6 0 1 0 5.2 0a2.6 2.6 0 1 0 -5.2 0zM1223.7 1063.77a2.6 2.6 0 1 0 5.2 0a2.6 2.6 0 1 0 -5.2 0zM1251.3 1081.76a2.6 2.6 0 1 0 5.2 0a2.6 2.6 0 1 0 -5.2 0zM1278.9 1108.85a2.6 2.6 0 1 0 5.2 0a2.6 2.6 0 1 0 -5.2 0zM1306.5 1147.94a2.6 2.6 0 1 0 5.2 0a2.6 2.6 0 1 0 -5.2 0zM1334.1 1186.58a2.6 2.6 0 1 0 5.2 0a2.6 2.6 0 1 0 -5.2 0zM1361.7 1226.26a2.6 2.6 0 1 0 5.2 0a2.6 2.6 0 1 0 -5.2 0zM1389.3 1260.32a2.6 2.6 0 1 0 5.2 0a2.6 2.6 0 1 0 -5.2 0zM1416.9 1283.49a2.6 2.6 0 1 0 5.2 0a2.6 2.6 0 1 0 -5.2 0zM1444.5 1299.03a2.6 2.6 0 1 0 5.2 0a2.6 2.6 0 1 0 -5.2 0zM1472.1 1310.58a2.6 2.6 0 1 0 5.2 0a2.6 2.6 0 1 0 -5.2 0zM1499.7 1329.76a2.6 2.6 0 1 0 5.2 0a2.6 2.6 0 1 0 -5.2 0zM1527.3 1336.42a2.6 2.6 0 1 0 5.2 0a2.6 2.6 0 1 0 -5.2 0zM1554.9 1355.22a2.6 2.6 0 1 0 5.2 0a2.6 2.6 0 1 0 -5.2 0zM1582.5 1370.77a2.6 2.6 0 1 0 5.2 0a2.6 2.6 0 1 0 -5.2 0zM1610.1 1396.6a2.6 2.6 0 1 0 5.2 0a2.6 2.6 0 1 0 -5.2 0zM1637.7 1426.36a2.6 2.6 0 1 0 5.2 0a2.6 2.6 0 1 0 -5.2 0z" fill="#00ff00" stroke="none"/>
<polyline points="922.7,1485.89 950.3,1267.64 977.9,1158.52 1005.5,1097.3 1033.1,1065.76 1060.7,1042.82 1088.3,1029.86 1115.9,1026.45 1143.5,1026.45 1171.1,1028.23 1198.7,1029.86 1226.3,1031.27 1253.9,1032.45 1281.5,1033.86 1309.1,1037.86 1336.7,1042.82 1364.3,1050.81 1391.9,1060.8 1419.5,1073.76 1447.1,1086.72 1474.7,1095.01 1502.3,1124.4 1529.9,1123.73 1557.5,1151.2 1585.1,1174.37 1612.7,1226.26 1640.3,1300.66" stroke="#0000ff" stroke-dasharray="31.25 7.63 5.01 7.63 5.01 7.63"/>
<path d="M920.1 1485.89a2.6 2.6 0 1 0 5.2 0a2.6 2.6 0 1 0 -5.2 0zM947.7 1267.64a2.6 2.6 0 1 0 5.2 0a2.6 2.6 0 1 0 -5.2 0zM975.3 1158.52a2.6 2.6 0 1 0 5.2 0a2.6 2.6 0 1 0 -5.2 0zM1002.9 1097.3a2.6 2.6 0 1 0 5.2 0a2.6 2.6 0 1 0 -5.2 0zM1030.5 1065.76a2.6 2.6 0 1 0 5.2 0a2.6 2.6 0 1 0 -5.2 0zM1058.1 1042.82a2.6 2.6 0 1 0 5.2 0a2.6 2.6 0 1 0 -5.2 0zM1085.7 1029.86a2.6 2.6 0 1 0 5.2 0a2.6 2.6 0 1 0 -5.2 0zM1113.3 1026.45a2.6 2.6 0 1 0 5.2 0a2.6 2.6 0 1 0 -5.2 0zM1140.9 1026.45a2.6 2.6 0 1 0 5.2 0a2.6 2.6 0 1 0 -5.2 0zM1168.5 1028.23a2.6 2.6 0 1 0 5.2 0a2.6 2.6 0 1 0 -5.2 0zM1196.1 1029.86a2.6 2.6 0 1 0 5.2 0a2.6 2.6 0 1 0 -5.2 0zM1223.7 1031.27a2.6 2.6 0 1 0 5.2 0a2.6 2.6 0 1 0 -5.2 0zM1251.3 1032.45a2.6 2.6 0 1 0 5.2 0a2.6 2.6 0 1 0 -5.2 0zM1278.9 1033.86a2.6 2.6 0 1 0 5.2 0a2.6 2.6 0 1 0 -5.2 0zM1306.5 1037.86a2.6 2.6 0 1 0 5.2 0a2.6 2.6 0 1 0 -5.2 0zM1334.1 1042.82a2.6 2.6 0 1 0 5.2 0a2.6 2.6 0 1 0 -5.2 0zM1361.7 1050.81a2.6 2.6 0 1 0 5.2 0a2.6 2.6 0 1 0 -5.2 0zM1389.3 1060.8a2.6 2.6 0 1 0 5.2 0a2.6 2.6 0 1 0 -5.2 0zM1416.9 1073.76a2.6 2.6 0 1 0 5.2 0a2.6 2.6 0 1 0 -5.2 0zM1444.5 1086.72a2.6 2.6 0 1 0 5.2 0a2.6 2.6 0 1 0 -5.2 0zM1472.1 1095.01a2.6 2.6 0 1 0 5.2 0a2.6 2.6 0 1 0 -5.2 0zM1499.7 1124.4a2.6 2.6 0 1 0 5.2 0a2.6 2.6 0 1 0 -5.2 0zM1527.3 1123.73a2.6 2.6 0 1 0 5.2 0a2.6 2.6 0 1 0 -5.2 0zM1554.9 1151.2a2.6 2.6 0 1 0 5.2 0a2.6 2.6 0 1 0 -5.2 0zM1582.5 1174.37a2.6 2.6 0 1 0 5.2 0a2.6 2.6 0 1 0 -5.2 0zM1610.1 1226.26a2.6 2.6 0 1 0 5.2 0a2.6 2.6 0 1 0 -5.2 0zM1637.7 1300.66a2.6 2.6 0 1 0 5.2 0a2.6 2.6 0 1 0 -5.2 0z" fill="#0000ff" stroke="none"/>
<polyline points="922.7,1485.89 950.3,1257.72 977.9,1125.43 1005.5,1075.76 1033.1,1044.81 1060.7,1026.45 1088.3,1016.46 1115.9,1011.5 1143.5,1008.54 1171.1,1008.54 1198.7,1009.28 1226.3,1012.32 1253.9,1017.5 1281.5,1022.9 1309.1,1029.49 1336.7,1030.82 1364.3,1032.82 1391.9,1029.49 1419.5,1025.86 1447.1,1018.9 1474.7,1011.28 1502.3,1015.5 1529.9,1000.54 1557.5,1008.54 1585.1,1015.87 1612.7,1075.76 1640.3,1179.99" stroke="#006400" stroke-dasharray="5.01 48.45"/>
<path d="M920.1 1485.89a2.6 2.6 0 1 0 5.2 0a2.6 2.6 0 1 0 -5.2 0zM947.7 1257.72a2.6 2.6 0 1 0 5.2 0a2.6 2.6 0 1 0 -5.2 0zM975.3 1125.43a2.6 2.6 0 1 0 5.2 0a2.6 2.6 0 1 0 -5.2 0zM1002.9 1075.76a2.6 2.6 0 1 0 5.2 0a2.6 2.6 0 1 0 -5.2 0zM1030.5 1044.81a2.6 2.6 0 1 0 5.2 0a2.6 2.6 0 1 0 -5.2 0zM1058.1 1026.45a2.6 2.6 0 1 0 5.2 0a2.6 2.6 0 1 0 -5.2 0zM1085.7 1016.46a2.6 2.6 0 1 0 5.2 0a2.6 2.6 0 1 0 -5.2 0zM1113.3 1011.5a2.6 2.6 0 1 0 5.2 0a2.6 2.6 0 1 0 -5.2 0zM1140.9 1008.54a2.6 2.6 0 1 0 5.2 0a2.6 2.6 0 1 0 -5.2 0zM1168.5 1008.54a2.6 2.6 0 1 0 5.2 0a2.6 2.6 0 1 0 -5.2 0zM1196.1 1009.28a2.6 2.6 0 1 0 5.2 0a2.6 2.6 0 1 0 -5.2 0zM1223.7 1012.32a2.6 2.6 0 1 0 5.2 0a2.6 2.6 0 1 0 -5.2 0zM1251.3 1017.5a2.6 2.6 0 1 0 5.2 0a2.6 2.6 0 1 0 -5.2 0zM1278.9 1022.9a2.6 2.6 0 1 0 5.2 0a2.6 2.6 0 1 0 -5.2 0zM1306.5 1029.49a2.6 2.6 0 1 0 5.2 0a2.6 2.6 0 1 0 -5.2 0zM1334.1 1030.82a2.6 2.6 0 1 0 5.2 0a2.6 2.6 0 1 0 -5.2 0zM1361.7 1032.82a2.6 2.6 0 1 0 5.2 0a2.6 2.6 0 1 0 -5.2 0zM1389.3 1029.49a2.6 2.6 0 1 0 5.2 0a2.6 2.6 0 1 0 -5.2 0zM1416.9 1025.86a2.6 2.6 0 1 0 5.2 0a2.6 2.6 0 1 0 -5.2 0zM1444.5 1018.9a2.6 2.6 0 1 0 5.2 0a2.6 2.6 0 1 0 -5.2 0zM1472.1 1011.28a2.6 2.6 0 1 0 5.2 0a2.6 2.6 0 1 0 -5.2 0zM1499.7 1015.5a2.6 2.6 0 1 0 5.2 0a2.6 2.6 0 1 0 -5.2 0zM1527.3 1000.54a2.6 2.6 0 1 0 5.2 0a2.6 2.6 0 1 0 -5.2 0zM1554.9 1008.54a2.6 2.6 0 1 0 5.2 0a2.6 2.6 0 1 0 -5.2 0zM1582.5 1015.87a2.6 2.6 0 1 0 5.2 0a2.6 2.6 0 1 0 -5.2 0zM1610.1 1075.76a2.6 2.6 0 1 0 5.2 0a2.6 2.6 0 1 0 -5.2 0zM1637.7 1179.99a2.6 2.6 0 1 0 5.2 0a2.6 2.6 0 1 0 -5.2 0z" fill="#006400" stroke="none"/>
<polyline points="922.7,1485.89 950.3,1241.14 977.9,1102.26 1005.5,1045.85 1033.1,1016.9 1060.7,1002.91 1088.3,994.92 1115.9,989.37 1143.5,986.33 1171.1,985.59 1198.7,986.92 1226.3,991.96 1253.9,1000.91 1281.5,1009.87 1309.1,1020.9 1336.7,1028.82 1364.3,1034.82 1391.9,1036.82 1419.5,1036.23 1447.1,1034.82 1474.7,1032.82 1502.3,1032.45 1529.9,1024.9 1557.5,1024.9 1585.1,1036.23 1612.7,1081.76 1640.3,1170.07" stroke="#00ffff" stroke-dasharray="5.01 24.15"/>
<path d="M920.1 1485.89a2.6 2.6 0 1 0 5.2 0a2.6 2.6 0 1 0 -5.2 0zM947.7 1241.14a2.6 2.6 0 1 0 5.2 0a2.6 2.6 0 1 0 -5.2 0zM975.3 1102.26a2.6 2.6 0 1 0 5.2 0a2.6 2.6 0 1 0 -5.2 0zM1002.9 1045.85a2.6 2.6 0 1 0 5.2 0a2.6 2.6 0 1 0 -5.2 0zM1030.5 1016.9a2.6 2.6 0 1 0 5.2 0a2.6 2.6 0 1 0 -5.2 0zM1058.1 1002.91a2.6 2.6 0 1 0 5.2 0a2.6 2.6 0 1 0 -5.2 0zM1085.7 994.92a2.6 2.6 0 1 0 5.2 0a2.6 2.6 0 1 0 -5.2 0zM1113.3 989.37a2.6 2.6 0 1 0 5.2 0a2.6 2.6 0 1 0 -5.2 0zM1140.9 986.33a2.6 2.6 0 1 0 5.2 0a2.6 2.6 0 1 0 -5.2 0zM1168.5 985.59a2.6 2.6 0 1 0 5.2 0a2.6 2.6 0 1 0 -5.2 0zM1196.1 986.92a2.6 2.6 0 1 0 5.2 0a2.6 2.6 0 1 0 -5.2 0zM1223.7 991.96a2.6 2.6 0 1 0 5.2 0a2.6 2.6 0 1 0 -5.2 0zM1251.3 1000.91a2.6 2.6 0 1 0 5.2 0a2.6 2.6 0 1 0 -5.2 0zM1278.9 1009.87a2.6 2.6 0 1 0 5.2 0a2.6 2.6 0 1 0 -5.2 0zM1306.5 1020.9a2.6 2.6 0 1 0 5.2 0a2.6 2.6 0 1 0 -5.2 0zM1334.1 1028.82a2.6 2.6 0 1 0 5.2 0a2.6 2.6 0 1 0 -5.2 0zM1361.7 1034.82a2.6 2.6 0 1 0 5.2 0a2.6 2.6 0 1 0 -5.2 0zM1389.3 1036.82a2.6 2.6 0 1 0 5.2 0a2.6 2.6 0 1 0 -5.2 0zM1416.9 1036.23a2.6 2.6 0 1 0 5.2 0a2.6 2.6 0 1 0 -5.2 0zM1444.5 1034.82a2.6 2.6 0 1 0 5.2 0a2.6 2.6 0 1 0 -5.2 0zM1472.1 1032.82a2.6 2.6 0 1 0 5.2 0a2.6 2.6 0 1 0 -5.2 0zM1499.7 1032.45a2.6 2.6 0 1 0 5.2 0a2.6 2.6 0 1 0 -5.2 0zM1527.3 1024.9a2.6 2.6 0 1 0 5.2 0a2.6 2.6 0 1 0 -5.2 0zM1554.9 1024.9a2.6 2.6 0 1 0 5.2 0a2.6 2.6 0 1 0 -5.2 0zM1582.5 1036.23a2.6 2.6 0 1 0 5.2 0a2.6 2.6 0 1 0 -5.2 0zM1610.1 1081.76a2.6 2.6 0 1 0 5.2 0a2.6 2.6 0 1 0 -5.2 0zM1637.7 1170.07a2.6 2.6 0 1 0 5.2 0a2.6 2.6 0 1 0 -5.2 0z" fill="#00ffff" stroke="none"/>
<polyline points="922.7,1485.89 950.3,1231.22 977.9,1072.5 1005.5,1027.86 1033.1,1005.95 1060.7,997.51 1088.3,994.92 1115.9,993.96 1143.5,993.51 1171.1,994.55 1198.7,996.92 1226.3,1002.91 1253.9,1010.91 1281.5,1018.9 1309.1,1027.86 1336.7,1036.82 1364.3,1040.22 1391.9,1041.41 1419.5,1038.82 1447.1,1034.45 1474.7,1029.86 1502.3,1022.9 1529.9,1013.5 1557.5,1007.5 1585.1,1012.91 1612.7,1046.81 1640.3,1142.76" stroke="#ff00ff" stroke-dasharray="5.01 4.71"/>
<path d="M920.1 1485.89a2.6 2.6 0 1 0 5.2 0a2.6 2.6 0 1 0 -5.2 0zM947.7 1231.22a2.6 2.6 0 1 0 5.2 0a2.6 2.6 0 1 0 -5.2 0zM975.3 1072.5a2.6 2.6 0 1 0 5.2 0a2.6 2.6 0 1 0 -5.2 0zM1002.9 1027.86a2.6 2.6 0 1 0 5.2 0a2.6 2.6 0 1 0 -5.2 0zM1030.5 1005.95a2.6 2.6 0 1 0 5.2 0a2.6 2.6 0 1 0 -5.2 0zM1058.1 997.51a2.6 2.6 0 1 0 5.2 0a2.6 2.6 0 1 0 -5.2 0zM1085.7 994.92a2.6 2.6 0 1 0 5.2 0a2.6 2.6 0 1 0 -5.2 0zM1113.3 993.96a2.6 2.6 0 1 0 5.2 0a2.6 2.6 0 1 0 -5.2 0zM1140.9 993.51a2.6 2.6 0 1 0 5.2 0a2.6 2.6 0 1 0 -5.2 0zM1168.5 994.55a2.6 2.6 0 1 0 5.2 0a2.6 2.6 0 1 0 -5.2 0zM1196.1 996.92a2.6 2.6 0 1 0 5.2 0a2.6 2.6 0 1 0 -5.2 0zM1223.7 1002.91a2.6 2.6 0 1 0 5.2 0a2.6 2.6 0 1 0 -5.2 0zM1251.3 1010.91a2.6 2.6 0 1 0 5.2 0a2.6 2.6 0 1 0 -5.2 0zM1278.9 1018.9a2.6 2.6 0 1 0 5.2 0a2.6 2.6 0 1 0 -5.2 0zM1306.5 1027.86a2.6 2.6 0 1 0 5.2 0a2.6 2.6 0 1 0 -5.2 0zM1334.1 1036.82a2.6 2.6 0 1 0 5.2 0a2.6 2.6 0 1 0 -5.2 0zM1361.7 1040.22a2.6 2.6 0 1 0 5.2 0a2.6 2.6 0 1 0 -5.2 0zM1389.3 1041.41a2.6 2.6 0 1 0 5.2 0a2.6 2.6 0 1 0 -5.2 0zM1416.9 1038.82a2.6 2.6 0 1 0 5.2 0a2.6 2.6 0 1 0 -5.2 0zM1444.5 1034.45a2.6 2.6 0 1 0 5.2 0a2.6 2.6 0 1 0 -5.2 0zM1472.1 1029.86a2.6 2.6 0 1 0 5.2 0a2.6 2.6 0 1 0 -5.2 0zM1499.7 1022.9a2.6 2.6 0 1 0 5.2 0a2.6 2.6 0 1 0 -5.2 0zM1527.3 1013.5a2.6 2.6 0 1 0 5.2 0a2.6 2.6 0 1 0 -5.2 0zM1554.9 1007.5a2.6 2.6 0 1 0 5.2 0a2.6 2.6 0 1 0 -5.2 0zM1582.5 1012.91a2.6 2.6 0 1 0 5.2 0a2.6 2.6 0 1 0 -5.2 0zM1610.1 1046.81a2.6 2.6 0 1 0 5.2 0a2.6 2.6 0 1 0 -5.2 0zM1637.7 1142.76a2.6 2.6 0 1 0 5.2 0a2.6 2.6 0 1 0 -5.2 0z" fill="#ff00ff" stroke="none"/>
</g>
<path d="M922.7 1498.1v16.9M1060.7 1498.1v16.9M1198.7 1498.1v16.9M1336.7 1498.1v16.9M1474.7 1498.1v16.9M1612.7 1498.1v16.9M922.7 1498.1h-16.9M922.7 1424.07h-16.9M922.7 1350.04h-16.9M922.7 1276.01h-16.9M922.7 1201.98h-16.9M922.7 1127.95h-16.9M922.7 1053.92h-16.9M922.7 979.89h-16.9M922.7 905.86h-16.9M922.7 831.83h-16.9" stroke="#000" stroke-width="3.95" fill="none"/>
<path d="M950.3 1498.1v10.1M977.9 1498.1v10.1M1005.5 1498.1v10.1M1033.1 1498.1v10.1M1088.3 1498.1v10.1M1115.9 1498.1v10.1M1143.5 1498.1v10.1M1171.1 1498.1v10.1M1226.3 1498.1v10.1M1253.9 1498.1v10.1M1281.5 1498.1v10.1M1309.1 1498.1v10.1M1364.3 1498.1v10.1M1391.9 1498.1v10.1M1419.5 1498.1v10.1M1447.1 1498.1v10.1M1502.3 1498.1v10.1M1529.9 1498.1v10.1M1557.5 1498.1v10.1M1585.1 1498.1v10.1M1640.3 1498.1v10.1M922.7 1483.29h-10.1M922.7 1468.49h-10.1M922.7 1453.68h-10.1M922.7 1438.88h-10.1M922.7 1409.26h-10.1M922.7 1394.46h-10.1M922.7 1379.65h-10.1M922.7 1364.85h-10.1M922.7 1335.23h-10.1M922.7 1320.43h-10.1M922.7 1305.62h-10.1M922.7 1290.82h-10.1M922.7 1261.2h-10.1M922.7 1246.4h-10.1M922.7 1231.59h-10.1M922.7 1216.79h-10.1M922.7 1187.17h-10.1M922.7 1172.37h-10.1M922.7 1157.56h-10.1M922.7 1142.76h-10.1M922.7 1113.14h-10.1M922.7 1098.34h-10.1M922.7 1083.53h-10.1M922.7 1068.73h-10.1M922.7 1039.11h-10.1M922.7 1024.31h-10.1M922.7 1009.5h-10.1M922.7 994.7h-10.1M922.7 965.08h-10.1M922.7 950.28h-10.1M922.7 935.47h-10.1M922.7 920.67h-10.1M922.7 891.05h-10.1M922.7 876.25h-10.1M922.7 861.44h-10.1M922.7 846.64h-10.1" stroke="#000" stroke-width="2.95" fill="none"/>
<rect x="922.7" y="824.5" width="717.6" height="673.6" fill="none" stroke="#000" stroke-width="4.3"/>
<g font-size="38.9" text-anchor="middle">
<text x="922.7" y="1559.4">0</text>
<text x="1060.7" y="1559.4">5</text>
<text x="1198.7" y="1559.4">10</text>
<text x="1336.7" y="1559.4">15</text>
<text x="1474.7" y="1559.4">20</text>
<text x="1612.7" y="1559.4">25</text>
<text x="1281.5" y="1613.8">Time (min)</text>
</g>
<text font-size="48.6" x="994.7" y="892">(S=30 C=8)</text>
<rect x="1534.6" y="839" width="87.2" height="82.3" fill="#fff" stroke="#000" stroke-width="4.4"/>
<text font-size="48.6" text-anchor="middle" x="1578.2" y="892">d</text>
</g>
<g id="legend">
<rect x="638" y="205.3" width="213.2" height="295.8" rx="6" ry="6" fill="#fff" fill-opacity="0.8" stroke="#cccccc" stroke-opacity="0.8" stroke-width="4.4"/>
<path d="M649.5 227H707.8" stroke="#000000" stroke-width="5.05" fill="none" stroke-linecap="square"/>
<text font-size="29.17" x="731" y="236.6">D=30 cm</text>
<path d="M649.5 267.92H707.8" stroke="#ff0000" stroke-width="5.05" fill="none" stroke-dasharray="4.86 8.02"/>
<circle cx="678.65" cy="267.92" r="2.6" fill="#ff0000"/>
<text font-size="29.17" x="731" y="277.52">D=40 cm</text>
<path d="M649.5 308.84H707.8" stroke="#00ff00" stroke-width="5.05" fill="none" stroke-dasharray="17.98 7.78"/>
<circle cx="678.65" cy="308.84" r="2.6" fill="#00ff00"/>
<text font-size="29.17" x="731" y="318.44">D=50 cm</text>
<path d="M649.5 349.76H707.8" stroke="#0000ff" stroke-width="5.05" fill="none" stroke-dasharray="31.1 7.78 4.86 7.78 4.86 7.78"/>
<circle cx="678.65" cy="349.76" r="2.6" fill="#0000ff"/>
<text font-size="29.17" x="731" y="359.36">D=60 cm</text>
<path d="M649.5 390.68H707.8" stroke="#006400" stroke-width="5.05" fill="none" stroke-dasharray="4.86 48.6"/>
<circle cx="678.65" cy="390.68" r="2.6" fill="#006400"/>
<text font-size="29.17" x="731" y="400.28">D=70 cm</text>
<path d="M649.5 431.6H707.8" stroke="#00ffff" stroke-width="5.05" fill="none" stroke-dasharray="4.86 24.3"/>
<circle cx="678.65" cy="431.6" r="2.6" fill="#00ffff"/>
<text font-size="29.17" x="731" y="441.2">D=80 cm</text>
<path d="M649.5 472.52H707.8" stroke="#ff00ff" stroke-width="5.05" fill="none" stroke-dasharray="4.86 4.86"/>
<circle cx="678.65" cy="472.52" r="2.6" fill="#ff00ff"/>
<text font-size="29.17" x="731" y="482.12">D=90 cm</text>
</g>
</svg>
</body></html>
